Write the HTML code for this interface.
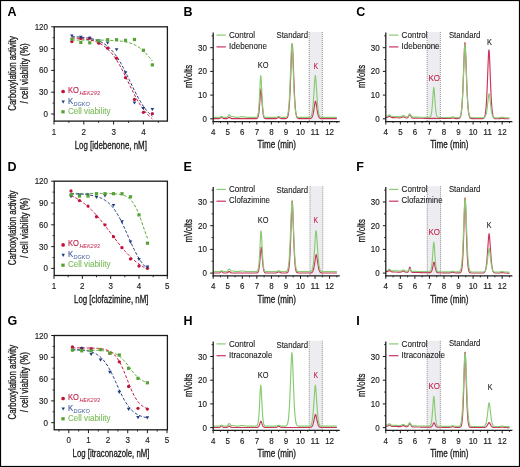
<!DOCTYPE html>
<html><head><meta charset="utf-8"><title>Figure</title>
<style>
html,body{margin:0;padding:0;background:#fff;}
body{width:520px;height:467px;overflow:hidden;font-family:"Liberation Sans", sans-serif;}
svg{display:block;will-change:transform;}
</style></head><body>
<svg width="520" height="467" viewBox="0 0 520 467" font-family="&quot;Liberation Sans&quot;, sans-serif"><rect x="0" y="0" width="520" height="467" fill="#fff"/><text x="7.6" y="15.8" font-size="12.5" text-anchor="start" fill="#000" font-weight="bold" font-style="normal" >A</text>
<rect x="54.2" y="26.8" width="113.2" height="94.3" fill="none" stroke="#1a1a1a" stroke-width="1.3"/>
<line x1="51.2" y1="114" x2="54.2" y2="114" stroke="#1a1a1a" stroke-width="1" />
<text x="48" y="117" font-size="8.7" text-anchor="end" fill="#1a1a1a" font-weight="normal" font-style="normal" textLength="4.45" lengthAdjust="spacingAndGlyphs" stroke="#1a1a1a" stroke-width="0.15" >0</text>
<line x1="51.2" y1="92.2" x2="54.2" y2="92.2" stroke="#1a1a1a" stroke-width="1" />
<text x="48" y="95.2" font-size="8.7" text-anchor="end" fill="#1a1a1a" font-weight="normal" font-style="normal" textLength="8.9" lengthAdjust="spacingAndGlyphs" stroke="#1a1a1a" stroke-width="0.15" >30</text>
<line x1="51.2" y1="70.4" x2="54.2" y2="70.4" stroke="#1a1a1a" stroke-width="1" />
<text x="48" y="73.4" font-size="8.7" text-anchor="end" fill="#1a1a1a" font-weight="normal" font-style="normal" textLength="8.9" lengthAdjust="spacingAndGlyphs" stroke="#1a1a1a" stroke-width="0.15" >60</text>
<line x1="51.2" y1="48.6" x2="54.2" y2="48.6" stroke="#1a1a1a" stroke-width="1" />
<text x="48" y="51.6" font-size="8.7" text-anchor="end" fill="#1a1a1a" font-weight="normal" font-style="normal" textLength="8.9" lengthAdjust="spacingAndGlyphs" stroke="#1a1a1a" stroke-width="0.15" >90</text>
<line x1="51.2" y1="26.8" x2="54.2" y2="26.8" stroke="#1a1a1a" stroke-width="1" />
<text x="48" y="29.8" font-size="8.7" text-anchor="end" fill="#1a1a1a" font-weight="normal" font-style="normal" textLength="13.35" lengthAdjust="spacingAndGlyphs" stroke="#1a1a1a" stroke-width="0.15" >120</text>
<line x1="52.6" y1="103.1" x2="54.2" y2="103.1" stroke="#1a1a1a" stroke-width="0.9" />
<line x1="52.6" y1="81.3" x2="54.2" y2="81.3" stroke="#1a1a1a" stroke-width="0.9" />
<line x1="52.6" y1="59.5" x2="54.2" y2="59.5" stroke="#1a1a1a" stroke-width="0.9" />
<line x1="52.6" y1="37.7" x2="54.2" y2="37.7" stroke="#1a1a1a" stroke-width="0.9" />
<line x1="54" y1="121.1" x2="54" y2="124.5" stroke="#1a1a1a" stroke-width="1" />
<text x="54" y="134.7" font-size="8.7" text-anchor="middle" fill="#1a1a1a" font-weight="normal" font-style="normal" textLength="4.45" lengthAdjust="spacingAndGlyphs" stroke="#1a1a1a" stroke-width="0.15" >1</text>
<line x1="83.8" y1="121.1" x2="83.8" y2="124.5" stroke="#1a1a1a" stroke-width="1" />
<text x="83.8" y="134.7" font-size="8.7" text-anchor="middle" fill="#1a1a1a" font-weight="normal" font-style="normal" textLength="4.45" lengthAdjust="spacingAndGlyphs" stroke="#1a1a1a" stroke-width="0.15" >2</text>
<line x1="113.6" y1="121.1" x2="113.6" y2="124.5" stroke="#1a1a1a" stroke-width="1" />
<text x="113.6" y="134.7" font-size="8.7" text-anchor="middle" fill="#1a1a1a" font-weight="normal" font-style="normal" textLength="4.45" lengthAdjust="spacingAndGlyphs" stroke="#1a1a1a" stroke-width="0.15" >3</text>
<line x1="143.4" y1="121.1" x2="143.4" y2="124.5" stroke="#1a1a1a" stroke-width="1" />
<text x="143.4" y="134.7" font-size="8.7" text-anchor="middle" fill="#1a1a1a" font-weight="normal" font-style="normal" textLength="4.45" lengthAdjust="spacingAndGlyphs" stroke="#1a1a1a" stroke-width="0.15" >4</text>
<line x1="68.9" y1="121.1" x2="68.9" y2="122.9" stroke="#1a1a1a" stroke-width="0.9" />
<line x1="98.7" y1="121.1" x2="98.7" y2="122.9" stroke="#1a1a1a" stroke-width="0.9" />
<line x1="128.5" y1="121.1" x2="128.5" y2="122.9" stroke="#1a1a1a" stroke-width="0.9" />
<line x1="158.3" y1="121.1" x2="158.3" y2="122.9" stroke="#1a1a1a" stroke-width="0.9" />
<text x="74.7" y="148.6" font-size="10" text-anchor="start" fill="#1a1a1a" font-weight="normal" font-style="normal" textLength="72.2" lengthAdjust="spacingAndGlyphs" stroke="#1a1a1a" stroke-width="0.3" >Log [idebenone, nM]</text>
<g transform="translate(16.4 73.45) rotate(-90)">
<text x="0" y="0" font-size="10" text-anchor="middle" fill="#1a1a1a" font-weight="normal" font-style="normal" textLength="74.6" lengthAdjust="spacingAndGlyphs" stroke="#1a1a1a" stroke-width="0.3" >Carboxylation activity</text>
</g>
<g transform="translate(27.6 73.45) rotate(-90)">
<text x="0" y="0" font-size="10" text-anchor="middle" fill="#1a1a1a" font-weight="normal" font-style="normal" textLength="60.2" lengthAdjust="spacingAndGlyphs" stroke="#1a1a1a" stroke-width="0.3" >/ cell viability (%)</text>
</g>
<polyline points="71.88,40.03 72.89,40.03 73.89,40.03 74.9,40.03 75.9,40.03 76.91,40.03 77.91,40.03 78.92,40.03 79.93,40.03 80.93,40.03 81.94,40.04 82.94,40.04 83.95,40.04 84.95,40.04 85.96,40.04 86.97,40.05 87.97,40.05 88.98,40.05 89.98,40.06 90.99,40.06 92,40.07 93,40.07 94.01,40.08 95.01,40.08 96.02,40.09 97.02,40.1 98.03,40.11 99.04,40.12 100.04,40.13 101.05,40.15 102.05,40.16 103.06,40.18 104.06,40.2 105.07,40.22 106.08,40.24 107.08,40.26 108.09,40.29 109.09,40.33 110.1,40.36 111.1,40.4 112.11,40.45 113.12,40.5 114.12,40.55 115.13,40.62 116.13,40.68 117.14,40.76 118.14,40.85 119.15,40.95 120.16,41.05 121.16,41.17 122.17,41.31 123.17,41.46 124.18,41.62 125.18,41.8 126.19,42.01 127.2,42.23 128.2,42.48 129.21,42.76 130.21,43.06 131.22,43.4 132.22,43.77 133.23,44.18 134.24,44.62 135.24,45.11 136.25,45.64 137.25,46.22 138.26,46.85 139.27,47.53 140.27,48.27 141.28,49.06 142.28,49.91 143.29,50.81 144.29,51.77 145.3,52.78 146.31,53.84 147.31,54.95 148.32,56.11 149.32,57.31 150.33,58.54 151.33,59.8 152.34,61.07" fill="none" stroke="#55a332" stroke-width="1.0" stroke-dasharray="3 1.8"/>
<polyline points="71.88,36.65 72.89,36.69 73.89,36.74 74.9,36.78 75.9,36.84 76.91,36.89 77.91,36.96 78.92,37.03 79.93,37.1 80.93,37.19 81.94,37.28 82.94,37.38 83.95,37.49 84.95,37.61 85.96,37.74 86.97,37.88 87.97,38.04 88.98,38.21 89.98,38.4 90.99,38.6 92,38.83 93,39.07 94.01,39.34 95.01,39.63 96.02,39.95 97.02,40.29 98.03,40.67 99.04,41.08 100.04,41.52 101.05,42.01 102.05,42.53 103.06,43.1 104.06,43.71 105.07,44.38 106.08,45.09 107.08,45.86 108.09,46.7 109.09,47.59 110.1,48.55 111.1,49.57 112.11,50.67 113.12,51.83 114.12,53.07 115.13,54.38 116.13,55.77 117.14,57.24 118.14,58.78 119.15,60.39 120.16,62.07 121.16,63.82 122.17,65.64 123.17,67.52 124.18,69.45 125.18,71.42 126.19,73.44 127.2,75.5 128.2,77.57 129.21,79.67 130.21,81.77 131.22,83.86 132.22,85.95 133.23,88.02 134.24,90.06 135.24,92.06 136.25,94.02 137.25,95.92 138.26,97.77 139.27,99.56 140.27,101.28 141.28,102.93 142.28,104.51 143.29,106.02 144.29,107.45 145.3,108.81 146.31,110.09 147.31,111.29 148.32,112.43 149.32,113.49 150.33,114.48 151.33,115.41 152.34,116.28" fill="none" stroke="#1f3a80" stroke-width="1.0" stroke-dasharray="3 1.8"/>
<polyline points="71.88,37.9 72.89,37.95 73.89,38 74.9,38.06 75.9,38.12 76.91,38.19 77.91,38.26 78.92,38.34 79.93,38.43 80.93,38.53 81.94,38.64 82.94,38.76 83.95,38.88 84.95,39.03 85.96,39.18 86.97,39.35 87.97,39.53 88.98,39.73 89.98,39.95 90.99,40.19 92,40.45 93,40.73 94.01,41.04 95.01,41.38 96.02,41.75 97.02,42.15 98.03,42.58 99.04,43.05 100.04,43.56 101.05,44.11 102.05,44.71 103.06,45.35 104.06,46.05 105.07,46.8 106.08,47.61 107.08,48.48 108.09,49.41 109.09,50.4 110.1,51.46 111.1,52.6 112.11,53.8 113.12,55.08 114.12,56.43 115.13,57.86 116.13,59.36 117.14,60.93 118.14,62.58 119.15,64.29 120.16,66.07 121.16,67.91 122.17,69.81 123.17,71.75 124.18,73.74 125.18,75.77 126.19,77.83 127.2,79.9 128.2,81.99 129.21,84.08 130.21,86.16 131.22,88.23 132.22,90.27 133.23,92.29 134.24,94.26 135.24,96.19 136.25,98.06 137.25,99.88 138.26,101.63 139.27,103.31 140.27,104.93 141.28,106.47 142.28,107.94 143.29,109.34 144.29,110.66 145.3,111.91 146.31,113.09 147.31,114.19 148.32,115.23 149.32,116.19 150.33,117.1 151.33,117.94 152.34,118.73" fill="none" stroke="#c0143c" stroke-width="1.0" stroke-dasharray="3 1.8"/>
<circle cx="71.88" cy="41.62" r="1.65" fill="#c0143c"/>
<circle cx="80.82" cy="38.42" r="1.65" fill="#c0143c"/>
<circle cx="89.76" cy="38.21" r="1.65" fill="#c0143c"/>
<circle cx="98.7" cy="43.22" r="1.65" fill="#c0143c"/>
<circle cx="107.64" cy="48.16" r="1.65" fill="#c0143c"/>
<circle cx="116.58" cy="58.26" r="1.65" fill="#c0143c"/>
<circle cx="125.52" cy="77.66" r="1.65" fill="#c0143c"/>
<circle cx="134.46" cy="99.47" r="1.65" fill="#c0143c"/>
<circle cx="143.4" cy="112.33" r="1.65" fill="#c0143c"/>
<circle cx="152.34" cy="113.64" r="1.65" fill="#c0143c"/>
<path d="M70.08 34.41L73.68 34.41L71.88 37.61Z" fill="#1f3a80"/>
<path d="M79.02 35.79L82.62 35.79L80.82 38.99Z" fill="#1f3a80"/>
<path d="M87.96 36.66L91.56 36.66L89.76 39.86Z" fill="#1f3a80"/>
<path d="M96.9 39.57L100.5 39.57L98.7 42.77Z" fill="#1f3a80"/>
<path d="M105.84 41.38L109.44 41.38L107.64 44.58Z" fill="#1f3a80"/>
<path d="M114.78 48.14L118.38 48.14L116.58 51.34Z" fill="#1f3a80"/>
<path d="M123.72 71.18L127.32 71.18L125.52 74.38Z" fill="#1f3a80"/>
<path d="M132.66 101.41L136.26 101.41L134.46 104.61Z" fill="#1f3a80"/>
<path d="M141.6 107.08L145.2 107.08L143.4 110.28Z" fill="#1f3a80"/>
<path d="M150.54 107.88L154.14 107.88L152.34 111.08Z" fill="#1f3a80"/>
<rect x="70.28" y="37.55" width="3.2" height="3.2" fill="#55a332"/>
<rect x="79.22" y="40.82" width="3.2" height="3.2" fill="#55a332"/>
<rect x="88.16" y="41.18" width="3.2" height="3.2" fill="#55a332"/>
<rect x="97.1" y="39.29" width="3.2" height="3.2" fill="#55a332"/>
<rect x="106.04" y="38.13" width="3.2" height="3.2" fill="#55a332"/>
<rect x="114.98" y="38.13" width="3.2" height="3.2" fill="#55a332"/>
<rect x="123.92" y="38.71" width="3.2" height="3.2" fill="#55a332"/>
<rect x="132.86" y="37.91" width="3.2" height="3.2" fill="#55a332"/>
<rect x="141.8" y="48.67" width="3.2" height="3.2" fill="#55a332"/>
<rect x="150.74" y="63.28" width="3.2" height="3.2" fill="#55a332"/>
<circle cx="63.1" cy="91.5" r="1.85" fill="#c0143c"/>
<text x="68" y="92.8" font-size="8.6" text-anchor="start" fill="#c4214a" font-weight="normal" font-style="normal" textLength="10.9" lengthAdjust="spacingAndGlyphs" stroke="#c4214a" stroke-width="0.15" >KO</text>
<text x="79.4" y="95" font-size="5.8" text-anchor="start" fill="#c4214a" font-weight="normal" font-style="italic" textLength="20.3" lengthAdjust="spacingAndGlyphs" >HEK293</text>
<path d="M61.5 100.4L64.9 100.4L63.2 103.5Z" fill="#1f3a80"/>
<text x="68" y="103.7" font-size="8.6" text-anchor="start" fill="#3d5a9c" font-weight="normal" font-style="normal" textLength="5.2" lengthAdjust="spacingAndGlyphs" stroke="#3d5a9c" stroke-width="0.15" >K</text>
<text x="73.6" y="105.8" font-size="5.8" text-anchor="start" fill="#3d5a9c" font-weight="normal" font-style="italic" textLength="16.2" lengthAdjust="spacingAndGlyphs" >DGKO</text>
<rect x="61.3" y="110.2" width="3.4" height="3.2" fill="#55a332"/>
<text x="68" y="113.8" font-size="8.6" text-anchor="start" fill="#7dbd5c" font-weight="normal" font-style="normal" textLength="42.5" lengthAdjust="spacingAndGlyphs" stroke="#7dbd5c" stroke-width="0.12" >Cell viability</text>
<text x="7.6" y="170.8" font-size="12.5" text-anchor="start" fill="#000" font-weight="bold" font-style="normal" >D</text>
<rect x="54.2" y="181.2" width="113.2" height="94.3" fill="none" stroke="#1a1a1a" stroke-width="1.3"/>
<line x1="51.2" y1="268.4" x2="54.2" y2="268.4" stroke="#1a1a1a" stroke-width="1" />
<text x="48" y="271.4" font-size="8.7" text-anchor="end" fill="#1a1a1a" font-weight="normal" font-style="normal" textLength="4.45" lengthAdjust="spacingAndGlyphs" stroke="#1a1a1a" stroke-width="0.15" >0</text>
<line x1="51.2" y1="246.6" x2="54.2" y2="246.6" stroke="#1a1a1a" stroke-width="1" />
<text x="48" y="249.6" font-size="8.7" text-anchor="end" fill="#1a1a1a" font-weight="normal" font-style="normal" textLength="8.9" lengthAdjust="spacingAndGlyphs" stroke="#1a1a1a" stroke-width="0.15" >30</text>
<line x1="51.2" y1="224.8" x2="54.2" y2="224.8" stroke="#1a1a1a" stroke-width="1" />
<text x="48" y="227.8" font-size="8.7" text-anchor="end" fill="#1a1a1a" font-weight="normal" font-style="normal" textLength="8.9" lengthAdjust="spacingAndGlyphs" stroke="#1a1a1a" stroke-width="0.15" >60</text>
<line x1="51.2" y1="203" x2="54.2" y2="203" stroke="#1a1a1a" stroke-width="1" />
<text x="48" y="206" font-size="8.7" text-anchor="end" fill="#1a1a1a" font-weight="normal" font-style="normal" textLength="8.9" lengthAdjust="spacingAndGlyphs" stroke="#1a1a1a" stroke-width="0.15" >90</text>
<line x1="51.2" y1="181.2" x2="54.2" y2="181.2" stroke="#1a1a1a" stroke-width="1" />
<text x="48" y="184.2" font-size="8.7" text-anchor="end" fill="#1a1a1a" font-weight="normal" font-style="normal" textLength="13.35" lengthAdjust="spacingAndGlyphs" stroke="#1a1a1a" stroke-width="0.15" >120</text>
<line x1="52.6" y1="257.5" x2="54.2" y2="257.5" stroke="#1a1a1a" stroke-width="0.9" />
<line x1="52.6" y1="235.7" x2="54.2" y2="235.7" stroke="#1a1a1a" stroke-width="0.9" />
<line x1="52.6" y1="213.9" x2="54.2" y2="213.9" stroke="#1a1a1a" stroke-width="0.9" />
<line x1="52.6" y1="192.1" x2="54.2" y2="192.1" stroke="#1a1a1a" stroke-width="0.9" />
<line x1="54" y1="275.5" x2="54" y2="278.9" stroke="#1a1a1a" stroke-width="1" />
<text x="54" y="289.1" font-size="8.7" text-anchor="middle" fill="#1a1a1a" font-weight="normal" font-style="normal" textLength="4.45" lengthAdjust="spacingAndGlyphs" stroke="#1a1a1a" stroke-width="0.15" >1</text>
<line x1="82.33" y1="275.5" x2="82.33" y2="278.9" stroke="#1a1a1a" stroke-width="1" />
<text x="82.33" y="289.1" font-size="8.7" text-anchor="middle" fill="#1a1a1a" font-weight="normal" font-style="normal" textLength="4.45" lengthAdjust="spacingAndGlyphs" stroke="#1a1a1a" stroke-width="0.15" >2</text>
<line x1="110.66" y1="275.5" x2="110.66" y2="278.9" stroke="#1a1a1a" stroke-width="1" />
<text x="110.66" y="289.1" font-size="8.7" text-anchor="middle" fill="#1a1a1a" font-weight="normal" font-style="normal" textLength="4.45" lengthAdjust="spacingAndGlyphs" stroke="#1a1a1a" stroke-width="0.15" >3</text>
<line x1="138.99" y1="275.5" x2="138.99" y2="278.9" stroke="#1a1a1a" stroke-width="1" />
<text x="138.99" y="289.1" font-size="8.7" text-anchor="middle" fill="#1a1a1a" font-weight="normal" font-style="normal" textLength="4.45" lengthAdjust="spacingAndGlyphs" stroke="#1a1a1a" stroke-width="0.15" >4</text>
<line x1="167.32" y1="275.5" x2="167.32" y2="278.9" stroke="#1a1a1a" stroke-width="1" />
<text x="167.32" y="289.1" font-size="8.7" text-anchor="middle" fill="#1a1a1a" font-weight="normal" font-style="normal" textLength="4.45" lengthAdjust="spacingAndGlyphs" stroke="#1a1a1a" stroke-width="0.15" >5</text>
<line x1="68.16" y1="275.5" x2="68.16" y2="277.3" stroke="#1a1a1a" stroke-width="0.9" />
<line x1="96.5" y1="275.5" x2="96.5" y2="277.3" stroke="#1a1a1a" stroke-width="0.9" />
<line x1="124.82" y1="275.5" x2="124.82" y2="277.3" stroke="#1a1a1a" stroke-width="0.9" />
<line x1="153.16" y1="275.5" x2="153.16" y2="277.3" stroke="#1a1a1a" stroke-width="0.9" />
<text x="74" y="303" font-size="10" text-anchor="start" fill="#1a1a1a" font-weight="normal" font-style="normal" textLength="74.5" lengthAdjust="spacingAndGlyphs" stroke="#1a1a1a" stroke-width="0.3" >Log [clofazimine, nM]</text>
<g transform="translate(16.4 227.85) rotate(-90)">
<text x="0" y="0" font-size="10" text-anchor="middle" fill="#1a1a1a" font-weight="normal" font-style="normal" textLength="74.6" lengthAdjust="spacingAndGlyphs" stroke="#1a1a1a" stroke-width="0.3" >Carboxylation activity</text>
</g>
<g transform="translate(27.6 227.85) rotate(-90)">
<text x="0" y="0" font-size="10" text-anchor="middle" fill="#1a1a1a" font-weight="normal" font-style="normal" textLength="60.2" lengthAdjust="spacingAndGlyphs" stroke="#1a1a1a" stroke-width="0.3" >/ cell viability (%)</text>
</g>
<polyline points="71,193.4 71.95,193.4 72.91,193.4 73.87,193.4 74.82,193.4 75.78,193.4 76.73,193.41 77.69,193.41 78.65,193.41 79.6,193.41 80.56,193.41 81.52,193.41 82.47,193.41 83.43,193.41 84.38,193.41 85.34,193.41 86.3,193.41 87.25,193.41 88.21,193.41 89.16,193.41 90.12,193.41 91.08,193.41 92.03,193.41 92.99,193.41 93.95,193.41 94.9,193.42 95.86,193.42 96.81,193.42 97.77,193.42 98.73,193.43 99.68,193.43 100.64,193.44 101.59,193.44 102.55,193.45 103.51,193.46 104.46,193.47 105.42,193.48 106.38,193.5 107.33,193.51 108.29,193.53 109.24,193.56 110.2,193.59 111.16,193.62 112.11,193.66 113.07,193.71 114.02,193.76 114.98,193.83 115.94,193.91 116.89,194 117.85,194.11 118.8,194.24 119.76,194.4 120.72,194.58 121.67,194.79 122.63,195.04 123.59,195.34 124.54,195.69 125.5,196.1 126.45,196.57 127.41,197.13 128.37,197.78 129.32,198.53 130.28,199.4 131.23,200.4 132.19,201.54 133.15,202.84 134.1,204.3 135.06,205.94 136.02,207.77 136.97,209.78 137.93,211.96 138.88,214.31 139.84,216.82 140.8,219.44 141.75,222.16 142.71,224.93 143.66,227.72 144.62,230.49 145.58,233.19 146.53,235.8 147.49,238.27" fill="none" stroke="#55a332" stroke-width="1.0" stroke-dasharray="3 1.8"/>
<polyline points="71,193.94 71.95,193.96 72.91,193.98 73.87,194.01 74.82,194.03 75.78,194.06 76.73,194.09 77.69,194.13 78.65,194.17 79.6,194.21 80.56,194.26 81.52,194.31 82.47,194.37 83.43,194.43 84.38,194.51 85.34,194.59 86.3,194.67 87.25,194.77 88.21,194.88 89.16,195 90.12,195.13 91.08,195.28 92.03,195.44 92.99,195.62 93.95,195.82 94.9,196.04 95.86,196.28 96.81,196.54 97.77,196.84 98.73,197.16 99.68,197.51 100.64,197.9 101.59,198.33 102.55,198.8 103.51,199.31 104.46,199.87 105.42,200.49 106.38,201.16 107.33,201.88 108.29,202.68 109.24,203.54 110.2,204.47 111.16,205.48 112.11,206.56 113.07,207.73 114.02,208.98 114.98,210.32 115.94,211.74 116.89,213.25 117.85,214.84 118.8,216.52 119.76,218.29 120.72,220.13 121.67,222.04 122.63,224.02 123.59,226.05 124.54,228.14 125.5,230.27 126.45,232.42 127.41,234.6 128.37,236.78 129.32,238.95 130.28,241.11 131.23,243.24 132.19,245.33 133.15,247.37 134.1,249.36 135.06,251.28 136.02,253.13 136.97,254.9 137.93,256.59 138.88,258.19 139.84,259.71 140.8,261.15 141.75,262.49 142.71,263.75 143.66,264.93 144.62,266.02 145.58,267.04 146.53,267.98 147.49,268.84" fill="none" stroke="#1f3a80" stroke-width="1.0" stroke-dasharray="3 1.8"/>
<polyline points="71,195.52 71.95,195.95 72.91,196.41 73.87,196.88 74.82,197.37 75.78,197.89 76.73,198.43 77.69,198.99 78.65,199.57 79.6,200.18 80.56,200.81 81.52,201.47 82.47,202.16 83.43,202.87 84.38,203.6 85.34,204.36 86.3,205.15 87.25,205.97 88.21,206.81 89.16,207.68 90.12,208.58 91.08,209.5 92.03,210.45 92.99,211.42 93.95,212.43 94.9,213.45 95.86,214.5 96.81,215.58 97.77,216.68 98.73,217.8 99.68,218.94 100.64,220.1 101.59,221.27 102.55,222.47 103.51,223.68 104.46,224.9 105.42,226.14 106.38,227.38 107.33,228.64 108.29,229.9 109.24,231.17 110.2,232.43 111.16,233.7 112.11,234.97 113.07,236.24 114.02,237.5 114.98,238.75 115.94,240 116.89,241.24 117.85,242.46 118.8,243.67 119.76,244.86 120.72,246.04 121.67,247.2 122.63,248.34 123.59,249.46 124.54,250.55 125.5,251.63 126.45,252.68 127.41,253.7 128.37,254.7 129.32,255.68 130.28,256.63 131.23,257.55 132.19,258.45 133.15,259.31 134.1,260.16 135.06,260.97 136.02,261.76 136.97,262.52 137.93,263.25 138.88,263.96 139.84,264.64 140.8,265.3 141.75,265.93 142.71,266.54 143.66,267.12 144.62,267.68 145.58,268.22 146.53,268.74 147.49,269.23" fill="none" stroke="#c0143c" stroke-width="1.0" stroke-dasharray="3 1.8"/>
<circle cx="71" cy="191.01" r="1.65" fill="#c0143c"/>
<circle cx="79.5" cy="200.6" r="1.65" fill="#c0143c"/>
<circle cx="88" cy="206.12" r="1.65" fill="#c0143c"/>
<circle cx="96.5" cy="216.73" r="1.65" fill="#c0143c"/>
<circle cx="104.99" cy="224.87" r="1.65" fill="#c0143c"/>
<circle cx="113.49" cy="236.72" r="1.65" fill="#c0143c"/>
<circle cx="121.99" cy="247.69" r="1.65" fill="#c0143c"/>
<circle cx="130.49" cy="258.88" r="1.65" fill="#c0143c"/>
<circle cx="138.99" cy="266" r="1.65" fill="#c0143c"/>
<circle cx="147.49" cy="268.33" r="1.65" fill="#c0143c"/>
<path d="M69.2 195.06L72.8 195.06L71 198.26Z" fill="#1f3a80"/>
<path d="M77.7 193.6L81.3 193.6L79.5 196.8Z" fill="#1f3a80"/>
<path d="M86.2 193.6L89.8 193.6L88 196.8Z" fill="#1f3a80"/>
<path d="M94.7 195.78L98.3 195.78L96.5 198.98Z" fill="#1f3a80"/>
<path d="M103.19 194.33L106.79 194.33L104.99 197.53Z" fill="#1f3a80"/>
<path d="M111.69 203.92L115.29 203.92L113.49 207.12Z" fill="#1f3a80"/>
<path d="M120.19 220.2L123.79 220.2L121.99 223.4Z" fill="#1f3a80"/>
<path d="M128.69 240.48L132.29 240.48L130.49 243.68Z" fill="#1f3a80"/>
<path d="M137.19 257.92L140.79 257.92L138.99 261.12Z" fill="#1f3a80"/>
<path d="M145.69 265.62L149.29 265.62L147.49 268.82Z" fill="#1f3a80"/>
<rect x="69.4" y="193.19" width="3.2" height="3.2" fill="#55a332"/>
<rect x="77.9" y="194.42" width="3.2" height="3.2" fill="#55a332"/>
<rect x="86.4" y="194.42" width="3.2" height="3.2" fill="#55a332"/>
<rect x="94.9" y="192.1" width="3.2" height="3.2" fill="#55a332"/>
<rect x="103.39" y="192.1" width="3.2" height="3.2" fill="#55a332"/>
<rect x="111.89" y="192.1" width="3.2" height="3.2" fill="#55a332"/>
<rect x="120.39" y="192.1" width="3.2" height="3.2" fill="#55a332"/>
<rect x="128.89" y="195.22" width="3.2" height="3.2" fill="#55a332"/>
<rect x="137.39" y="213.31" width="3.2" height="3.2" fill="#55a332"/>
<rect x="145.89" y="241.58" width="3.2" height="3.2" fill="#55a332"/>
<circle cx="63.1" cy="244.9" r="1.85" fill="#c0143c"/>
<text x="68" y="246.2" font-size="8.6" text-anchor="start" fill="#c4214a" font-weight="normal" font-style="normal" textLength="10.9" lengthAdjust="spacingAndGlyphs" stroke="#c4214a" stroke-width="0.15" >KO</text>
<text x="79.4" y="248.4" font-size="5.8" text-anchor="start" fill="#c4214a" font-weight="normal" font-style="italic" textLength="20.3" lengthAdjust="spacingAndGlyphs" >HEK293</text>
<path d="M61.5 253.8L64.9 253.8L63.2 256.9Z" fill="#1f3a80"/>
<text x="68" y="257.1" font-size="8.6" text-anchor="start" fill="#3d5a9c" font-weight="normal" font-style="normal" textLength="5.2" lengthAdjust="spacingAndGlyphs" stroke="#3d5a9c" stroke-width="0.15" >K</text>
<text x="73.6" y="259.2" font-size="5.8" text-anchor="start" fill="#3d5a9c" font-weight="normal" font-style="italic" textLength="16.2" lengthAdjust="spacingAndGlyphs" >DGKO</text>
<rect x="61.3" y="263.6" width="3.4" height="3.2" fill="#55a332"/>
<text x="68" y="267.2" font-size="8.6" text-anchor="start" fill="#7dbd5c" font-weight="normal" font-style="normal" textLength="42.5" lengthAdjust="spacingAndGlyphs" stroke="#7dbd5c" stroke-width="0.12" >Cell viability</text>
<text x="7.6" y="324.9" font-size="12.5" text-anchor="start" fill="#000" font-weight="bold" font-style="normal" >G</text>
<rect x="54.2" y="335.5" width="113.2" height="94.3" fill="none" stroke="#1a1a1a" stroke-width="1.3"/>
<line x1="51.2" y1="422.7" x2="54.2" y2="422.7" stroke="#1a1a1a" stroke-width="1" />
<text x="48" y="425.7" font-size="8.7" text-anchor="end" fill="#1a1a1a" font-weight="normal" font-style="normal" textLength="4.45" lengthAdjust="spacingAndGlyphs" stroke="#1a1a1a" stroke-width="0.15" >0</text>
<line x1="51.2" y1="400.9" x2="54.2" y2="400.9" stroke="#1a1a1a" stroke-width="1" />
<text x="48" y="403.9" font-size="8.7" text-anchor="end" fill="#1a1a1a" font-weight="normal" font-style="normal" textLength="8.9" lengthAdjust="spacingAndGlyphs" stroke="#1a1a1a" stroke-width="0.15" >30</text>
<line x1="51.2" y1="379.1" x2="54.2" y2="379.1" stroke="#1a1a1a" stroke-width="1" />
<text x="48" y="382.1" font-size="8.7" text-anchor="end" fill="#1a1a1a" font-weight="normal" font-style="normal" textLength="8.9" lengthAdjust="spacingAndGlyphs" stroke="#1a1a1a" stroke-width="0.15" >60</text>
<line x1="51.2" y1="357.3" x2="54.2" y2="357.3" stroke="#1a1a1a" stroke-width="1" />
<text x="48" y="360.3" font-size="8.7" text-anchor="end" fill="#1a1a1a" font-weight="normal" font-style="normal" textLength="8.9" lengthAdjust="spacingAndGlyphs" stroke="#1a1a1a" stroke-width="0.15" >90</text>
<line x1="51.2" y1="335.5" x2="54.2" y2="335.5" stroke="#1a1a1a" stroke-width="1" />
<text x="48" y="338.5" font-size="8.7" text-anchor="end" fill="#1a1a1a" font-weight="normal" font-style="normal" textLength="13.35" lengthAdjust="spacingAndGlyphs" stroke="#1a1a1a" stroke-width="0.15" >120</text>
<line x1="52.6" y1="411.8" x2="54.2" y2="411.8" stroke="#1a1a1a" stroke-width="0.9" />
<line x1="52.6" y1="390" x2="54.2" y2="390" stroke="#1a1a1a" stroke-width="0.9" />
<line x1="52.6" y1="368.2" x2="54.2" y2="368.2" stroke="#1a1a1a" stroke-width="0.9" />
<line x1="52.6" y1="346.4" x2="54.2" y2="346.4" stroke="#1a1a1a" stroke-width="0.9" />
<line x1="68.8" y1="429.8" x2="68.8" y2="433.2" stroke="#1a1a1a" stroke-width="1" />
<text x="68.8" y="443.4" font-size="8.7" text-anchor="middle" fill="#1a1a1a" font-weight="normal" font-style="normal" textLength="4.45" lengthAdjust="spacingAndGlyphs" stroke="#1a1a1a" stroke-width="0.15" >0</text>
<line x1="88.44" y1="429.8" x2="88.44" y2="433.2" stroke="#1a1a1a" stroke-width="1" />
<text x="88.44" y="443.4" font-size="8.7" text-anchor="middle" fill="#1a1a1a" font-weight="normal" font-style="normal" textLength="4.45" lengthAdjust="spacingAndGlyphs" stroke="#1a1a1a" stroke-width="0.15" >1</text>
<line x1="108.08" y1="429.8" x2="108.08" y2="433.2" stroke="#1a1a1a" stroke-width="1" />
<text x="108.08" y="443.4" font-size="8.7" text-anchor="middle" fill="#1a1a1a" font-weight="normal" font-style="normal" textLength="4.45" lengthAdjust="spacingAndGlyphs" stroke="#1a1a1a" stroke-width="0.15" >2</text>
<line x1="127.72" y1="429.8" x2="127.72" y2="433.2" stroke="#1a1a1a" stroke-width="1" />
<text x="127.72" y="443.4" font-size="8.7" text-anchor="middle" fill="#1a1a1a" font-weight="normal" font-style="normal" textLength="4.45" lengthAdjust="spacingAndGlyphs" stroke="#1a1a1a" stroke-width="0.15" >3</text>
<line x1="147.36" y1="429.8" x2="147.36" y2="433.2" stroke="#1a1a1a" stroke-width="1" />
<text x="147.36" y="443.4" font-size="8.7" text-anchor="middle" fill="#1a1a1a" font-weight="normal" font-style="normal" textLength="4.45" lengthAdjust="spacingAndGlyphs" stroke="#1a1a1a" stroke-width="0.15" >4</text>
<line x1="167" y1="429.8" x2="167" y2="433.2" stroke="#1a1a1a" stroke-width="1" />
<text x="167" y="443.4" font-size="8.7" text-anchor="middle" fill="#1a1a1a" font-weight="normal" font-style="normal" textLength="4.45" lengthAdjust="spacingAndGlyphs" stroke="#1a1a1a" stroke-width="0.15" >5</text>
<line x1="58.98" y1="429.8" x2="58.98" y2="431.6" stroke="#1a1a1a" stroke-width="0.9" />
<line x1="78.62" y1="429.8" x2="78.62" y2="431.6" stroke="#1a1a1a" stroke-width="0.9" />
<line x1="98.26" y1="429.8" x2="98.26" y2="431.6" stroke="#1a1a1a" stroke-width="0.9" />
<line x1="117.9" y1="429.8" x2="117.9" y2="431.6" stroke="#1a1a1a" stroke-width="0.9" />
<line x1="137.54" y1="429.8" x2="137.54" y2="431.6" stroke="#1a1a1a" stroke-width="0.9" />
<line x1="157.18" y1="429.8" x2="157.18" y2="431.6" stroke="#1a1a1a" stroke-width="0.9" />
<text x="72.6" y="457.3" font-size="10" text-anchor="start" fill="#1a1a1a" font-weight="normal" font-style="normal" textLength="76.8" lengthAdjust="spacingAndGlyphs" stroke="#1a1a1a" stroke-width="0.3" >Log [itraconazole, nM]</text>
<g transform="translate(16.4 382.15) rotate(-90)">
<text x="0" y="0" font-size="10" text-anchor="middle" fill="#1a1a1a" font-weight="normal" font-style="normal" textLength="74.6" lengthAdjust="spacingAndGlyphs" stroke="#1a1a1a" stroke-width="0.3" >Carboxylation activity</text>
</g>
<g transform="translate(27.6 382.15) rotate(-90)">
<text x="0" y="0" font-size="10" text-anchor="middle" fill="#1a1a1a" font-weight="normal" font-style="normal" textLength="60.2" lengthAdjust="spacingAndGlyphs" stroke="#1a1a1a" stroke-width="0.3" >/ cell viability (%)</text>
</g>
<polyline points="72.34,350.11 73.27,350.11 74.21,350.11 75.15,350.11 76.09,350.11 77.02,350.11 77.96,350.12 78.9,350.12 79.84,350.12 80.78,350.12 81.71,350.13 82.65,350.13 83.59,350.13 84.53,350.14 85.46,350.14 86.4,350.15 87.34,350.16 88.28,350.17 89.22,350.18 90.15,350.19 91.09,350.2 92.03,350.21 92.97,350.23 93.9,350.25 94.84,350.28 95.78,350.3 96.72,350.33 97.66,350.37 98.59,350.41 99.53,350.46 100.47,350.51 101.41,350.57 102.35,350.64 103.28,350.73 104.22,350.82 105.16,350.93 106.1,351.05 107.03,351.2 107.97,351.36 108.91,351.55 109.85,351.76 110.79,352 111.72,352.28 112.66,352.59 113.6,352.94 114.54,353.34 115.47,353.79 116.41,354.29 117.35,354.85 118.29,355.47 119.23,356.15 120.16,356.91 121.1,357.73 122.04,358.62 122.98,359.57 123.91,360.59 124.85,361.67 125.79,362.8 126.73,363.98 127.67,365.19 128.6,366.42 129.54,367.66 130.48,368.89 131.42,370.11 132.36,371.3 133.29,372.46 134.23,373.56 135.17,374.61 136.11,375.6 137.04,376.52 137.98,377.37 138.92,378.15 139.86,378.87 140.8,379.52 141.73,380.11 142.67,380.64 143.61,381.11 144.55,381.53 145.48,381.9 146.42,382.23 147.36,382.53" fill="none" stroke="#55a332" stroke-width="1.0" stroke-dasharray="3 1.8"/>
<polyline points="72.34,349.54 73.27,349.57 74.21,349.61 75.15,349.65 76.09,349.69 77.02,349.74 77.96,349.79 78.9,349.85 79.84,349.92 80.78,350 81.71,350.09 82.65,350.19 83.59,350.3 84.53,350.43 85.46,350.57 86.4,350.72 87.34,350.9 88.28,351.1 89.22,351.32 90.15,351.57 91.09,351.85 92.03,352.16 92.97,352.5 93.9,352.89 94.84,353.32 95.78,353.8 96.72,354.33 97.66,354.92 98.59,355.57 99.53,356.29 100.47,357.08 101.41,357.95 102.35,358.9 103.28,359.93 104.22,361.06 105.16,362.28 106.1,363.59 107.03,365 107.97,366.51 108.91,368.11 109.85,369.8 110.79,371.58 111.72,373.43 112.66,375.36 113.6,377.35 114.54,379.38 115.47,381.44 116.41,383.53 117.35,385.62 118.29,387.7 119.23,389.76 120.16,391.78 121.1,393.75 122.04,395.65 122.98,397.48 123.91,399.23 124.85,400.89 125.79,402.46 126.73,403.93 127.67,405.31 128.6,406.59 129.54,407.78 130.48,408.87 131.42,409.88 132.36,410.8 133.29,411.64 134.23,412.4 135.17,413.1 136.11,413.73 137.04,414.3 137.98,414.81 138.92,415.27 139.86,415.69 140.8,416.06 141.73,416.39 142.67,416.69 143.61,416.96 144.55,417.2 145.48,417.41 146.42,417.6 147.36,417.77" fill="none" stroke="#1f3a80" stroke-width="1.0" stroke-dasharray="3 1.8"/>
<polyline points="72.34,347.86 73.27,347.86 74.21,347.86 75.15,347.86 76.09,347.86 77.02,347.87 77.96,347.87 78.9,347.87 79.84,347.88 80.78,347.88 81.71,347.89 82.65,347.89 83.59,347.9 84.53,347.91 85.46,347.92 86.4,347.93 87.34,347.94 88.28,347.96 89.22,347.97 90.15,348 91.09,348.02 92.03,348.05 92.97,348.08 93.9,348.12 94.84,348.16 95.78,348.21 96.72,348.27 97.66,348.34 98.59,348.43 99.53,348.52 100.47,348.63 101.41,348.76 102.35,348.91 103.28,349.08 104.22,349.28 105.16,349.51 106.1,349.78 107.03,350.09 107.97,350.45 108.91,350.86 109.85,351.33 110.79,351.88 111.72,352.5 112.66,353.21 113.6,354.01 114.54,354.92 115.47,355.94 116.41,357.09 117.35,358.37 118.29,359.79 119.23,361.35 120.16,363.06 121.1,364.9 122.04,366.88 122.98,368.99 123.91,371.2 124.85,373.5 125.79,375.87 126.73,378.28 127.67,380.7 128.6,383.1 129.54,385.46 130.48,387.75 131.42,389.95 132.36,392.04 133.29,394 134.23,395.82 135.17,397.51 136.11,399.05 137.04,400.45 137.98,401.71 138.92,402.84 139.86,403.85 140.8,404.74 141.73,405.53 142.67,406.23 143.61,406.84 144.55,407.37 145.48,407.83 146.42,408.24 147.36,408.59" fill="none" stroke="#c0143c" stroke-width="1.0" stroke-dasharray="3 1.8"/>
<circle cx="72.41" cy="346.98" r="1.65" fill="#c0143c"/>
<circle cx="81.78" cy="348.21" r="1.65" fill="#c0143c"/>
<circle cx="91.15" cy="348.72" r="1.65" fill="#c0143c"/>
<circle cx="100.52" cy="349.59" r="1.65" fill="#c0143c"/>
<circle cx="109.89" cy="353.3" r="1.65" fill="#c0143c"/>
<circle cx="119.26" cy="361.8" r="1.65" fill="#c0143c"/>
<circle cx="128.62" cy="386.51" r="1.65" fill="#c0143c"/>
<circle cx="137.99" cy="408.31" r="1.65" fill="#c0143c"/>
<circle cx="147.36" cy="409.11" r="1.65" fill="#c0143c"/>
<path d="M70.61 348.63L74.21 348.63L72.41 351.83Z" fill="#1f3a80"/>
<path d="M79.98 346.89L83.58 346.89L81.78 350.09Z" fill="#1f3a80"/>
<path d="M89.35 352.92L92.95 352.92L91.15 356.12Z" fill="#1f3a80"/>
<path d="M98.72 358.44L102.32 358.44L100.52 361.64Z" fill="#1f3a80"/>
<path d="M108.09 370.87L111.69 370.87L109.89 374.07Z" fill="#1f3a80"/>
<path d="M117.46 390.78L121.06 390.78L119.26 393.98Z" fill="#1f3a80"/>
<path d="M126.82 407.71L130.42 407.71L128.62 410.91Z" fill="#1f3a80"/>
<path d="M136.19 416.07L139.79 416.07L137.99 419.27Z" fill="#1f3a80"/>
<path d="M145.56 416.36L149.16 416.36L147.36 419.56Z" fill="#1f3a80"/>
<rect x="70.81" y="348.5" width="3.2" height="3.2" fill="#55a332"/>
<rect x="80.18" y="349.23" width="3.2" height="3.2" fill="#55a332"/>
<rect x="89.55" y="349.23" width="3.2" height="3.2" fill="#55a332"/>
<rect x="98.92" y="347.92" width="3.2" height="3.2" fill="#55a332"/>
<rect x="108.29" y="351.63" width="3.2" height="3.2" fill="#55a332"/>
<rect x="117.66" y="353.37" width="3.2" height="3.2" fill="#55a332"/>
<rect x="127.02" y="366.67" width="3.2" height="3.2" fill="#55a332"/>
<rect x="136.39" y="376.77" width="3.2" height="3.2" fill="#55a332"/>
<rect x="145.76" y="381.2" width="3.2" height="3.2" fill="#55a332"/>
<circle cx="63.1" cy="398.5" r="1.85" fill="#c0143c"/>
<text x="68" y="399.8" font-size="8.6" text-anchor="start" fill="#c4214a" font-weight="normal" font-style="normal" textLength="10.9" lengthAdjust="spacingAndGlyphs" stroke="#c4214a" stroke-width="0.15" >KO</text>
<text x="79.4" y="402" font-size="5.8" text-anchor="start" fill="#c4214a" font-weight="normal" font-style="italic" textLength="20.3" lengthAdjust="spacingAndGlyphs" >HEK293</text>
<path d="M61.5 407.4L64.9 407.4L63.2 410.5Z" fill="#1f3a80"/>
<text x="68" y="410.7" font-size="8.6" text-anchor="start" fill="#3d5a9c" font-weight="normal" font-style="normal" textLength="5.2" lengthAdjust="spacingAndGlyphs" stroke="#3d5a9c" stroke-width="0.15" >K</text>
<text x="73.6" y="412.8" font-size="5.8" text-anchor="start" fill="#3d5a9c" font-weight="normal" font-style="italic" textLength="16.2" lengthAdjust="spacingAndGlyphs" >DGKO</text>
<rect x="61.3" y="417.2" width="3.4" height="3.2" fill="#55a332"/>
<text x="68" y="420.8" font-size="8.6" text-anchor="start" fill="#7dbd5c" font-weight="normal" font-style="normal" textLength="42.5" lengthAdjust="spacingAndGlyphs" stroke="#7dbd5c" stroke-width="0.12" >Cell viability</text>
<text x="183.6" y="16.2" font-size="12.5" text-anchor="start" fill="#000" font-weight="bold" font-style="normal" >B</text>
<rect x="309.23" y="32" width="13.09" height="89.5" fill="#ececf1"/>
<line x1="309.23" y1="32" x2="309.23" y2="121.5" stroke="#777" stroke-width="0.8" stroke-dasharray="1 1"/>
<line x1="322.32" y1="32" x2="322.32" y2="121.5" stroke="#777" stroke-width="0.8" stroke-dasharray="1 1"/>
<polyline points="213.2,118.68 213.49,118.68 213.78,118.68 214.07,118.68 214.36,118.68 214.65,118.68 214.95,118.68 215.24,118.68 215.53,118.68 215.82,118.68 216.11,118.68 216.4,118.68 216.69,118.68 216.98,118.68 217.27,118.68 217.56,118.68 217.86,118.68 218.15,118.68 218.44,118.68 218.73,118.67 219.02,118.65 219.31,118.61 219.6,118.52 219.89,118.37 220.18,118.14 220.47,117.84 220.77,117.51 221.06,117.22 221.35,117.05 221.64,117.05 221.93,117.22 222.22,117.51 222.51,117.84 222.8,118.14 223.09,118.37 223.38,118.52 223.68,118.61 223.97,118.65 224.26,118.67 224.55,118.68 224.84,118.68 225.13,118.68 225.42,118.68 225.71,118.68 226,118.67 226.29,118.66 226.59,118.63 226.88,118.58 227.17,118.49 227.46,118.35 227.75,118.17 228.04,117.94 228.33,117.7 228.62,117.47 228.91,117.32 229.2,117.26 229.5,117.32 229.79,117.47 230.08,117.7 230.37,117.94 230.66,118.17 230.95,118.35 231.24,118.49 231.53,118.58 231.82,118.63 232.11,118.66 232.41,118.67 232.7,118.68 232.99,118.68 233.28,118.68 233.57,118.68 233.86,118.68 234.15,118.68 234.44,118.68 234.73,118.68 235.02,118.68 235.32,118.68 235.61,118.68 235.9,118.68 236.19,118.68 236.48,118.68 236.77,118.68 237.06,118.68 237.35,118.68 237.64,118.68 237.93,118.68 238.23,118.68 238.52,118.68 238.81,118.68 239.1,118.68 239.39,118.68 239.68,118.68 239.97,118.68 240.26,118.68 240.55,118.68 240.84,118.68 241.14,118.68 241.43,118.68 241.72,118.68 242.01,118.68 242.3,118.68 242.59,118.68 242.88,118.68 243.17,118.68 243.46,118.68 243.75,118.68 244.05,118.68 244.34,118.68 244.63,118.68 244.92,118.68 245.21,118.68 245.5,118.68 245.79,118.68 246.08,118.68 246.37,118.68 246.66,118.68 246.96,118.68 247.25,118.68 247.54,118.68 247.83,118.68 248.12,118.68 248.41,118.68 248.7,118.68 248.99,118.68 249.28,118.68 249.57,118.68 249.87,118.68 250.16,118.68 250.45,118.68 250.74,118.68 251.03,118.68 251.32,118.68 251.61,118.68 251.9,118.68 252.19,118.68 252.48,118.68 252.78,118.68 253.07,118.68 253.36,118.68 253.65,118.68 253.94,118.68 254.23,118.68 254.52,118.68 254.81,118.68 255.1,118.68 255.39,118.68 255.69,118.67 255.98,118.66 256.27,118.63 256.56,118.58 256.85,118.49 257.14,118.34 257.43,118.07 257.72,117.64 258.01,116.96 258.3,115.94 258.6,114.45 258.89,112.4 259.18,109.69 259.47,106.31 259.76,102.36 260.05,98.1 260.34,93.96 260.63,90.58 260.92,88.94 261.21,90.58 261.51,93.96 261.8,98.1 262.09,102.36 262.38,106.31 262.67,109.69 262.96,112.4 263.25,114.45 263.54,115.94 263.83,116.96 264.12,117.64 264.42,118.07 264.71,118.34 265,118.49 265.29,118.58 265.58,118.63 265.87,118.66 266.16,118.67 266.45,118.68 266.74,118.68 267.03,118.68 267.33,118.68 267.62,118.68 267.91,118.68 268.2,118.68 268.49,118.68 268.78,118.68 269.07,118.68 269.36,118.68 269.65,118.68 269.94,118.68 270.24,118.68 270.53,118.68 270.82,118.68 271.11,118.68 271.4,118.68 271.69,118.68 271.98,118.68 272.27,118.68 272.56,118.68 272.85,118.68 273.15,118.68 273.44,118.68 273.73,118.68 274.02,118.68 274.31,118.68 274.6,118.68 274.89,118.68 275.18,118.67 275.47,118.65 275.76,118.63 276.06,118.59 276.35,118.52 276.64,118.43 276.93,118.3 277.22,118.14 277.51,117.96 277.8,117.79 278.09,117.64 278.38,117.53 278.67,117.5 278.97,117.53 279.26,117.64 279.55,117.79 279.84,117.96 280.13,118.14 280.42,118.3 280.71,118.43 281,118.52 281.29,118.59 281.58,118.63 281.88,118.65 282.17,118.67 282.46,118.68 282.75,118.68 283.04,118.68 283.33,118.68 283.62,118.68 283.91,118.68 284.2,118.68 284.49,118.67 284.79,118.67 285.08,118.65 285.37,118.63 285.66,118.6 285.95,118.55 286.24,118.47 286.53,118.33 286.82,118.13 287.11,117.82 287.4,117.37 287.7,116.7 287.99,115.76 288.28,114.45 288.57,112.65 288.86,110.27 289.15,107.16 289.44,103.23 289.73,98.39 290.02,92.59 290.31,85.89 290.61,78.41 290.9,70.44 291.19,62.37 291.48,54.79 291.77,48.43 292.06,44.23 292.35,44.23 292.64,48.43 292.93,54.79 293.22,62.37 293.52,70.44 293.81,78.41 294.1,85.89 294.39,92.59 294.68,98.39 294.97,103.23 295.26,107.16 295.55,110.27 295.84,112.65 296.13,114.45 296.43,115.76 296.72,116.7 297.01,117.37 297.3,117.82 297.59,118.13 297.88,118.33 298.17,118.47 298.46,118.55 298.75,118.6 299.04,118.63 299.34,118.65 299.63,118.67 299.92,118.67 300.21,118.68 300.5,118.68 300.79,118.68 301.08,118.68 301.37,118.68 301.66,118.68 301.95,118.68 302.25,118.68 302.54,118.68 302.83,118.68 303.12,118.68 303.41,118.68 303.7,118.68 303.99,118.68 304.28,118.68 304.57,118.68 304.86,118.68 305.16,118.68 305.45,118.68 305.74,118.68 306.03,118.68 306.32,118.68 306.61,118.68 306.9,118.68 307.19,118.68 307.48,118.68 307.77,118.68 308.07,118.68 308.36,118.68 308.65,118.67 308.94,118.67 309.23,118.66 309.52,118.65 309.81,118.62 310.1,118.59 310.39,118.53 310.68,118.44 310.98,118.31 311.27,118.12 311.56,117.85 311.85,117.47 312.14,116.96 312.43,116.27 312.72,115.39 313.01,114.29 313.3,112.95 313.59,111.37 313.89,109.59 314.18,107.67 314.47,105.7 314.76,103.84 315.05,102.27 315.34,101.22 315.63,101.22 315.92,102.27 316.21,103.84 316.5,105.7 316.8,107.67 317.09,109.59 317.38,111.37 317.67,112.95 317.96,114.29 318.25,115.39 318.54,116.27 318.83,116.96 319.12,117.47 319.41,117.85 319.71,118.12 320,118.31 320.29,118.44 320.58,118.53 320.87,118.59 321.16,118.62 321.45,118.65 321.74,118.66 322.03,118.67 322.32,118.67 322.62,118.68 322.91,118.68 323.2,118.68 323.49,118.68 323.78,118.68 324.07,118.68 324.36,118.68 324.65,118.68 324.94,118.68 325.23,118.68 325.53,118.68 325.82,118.68 326.11,118.68 326.4,118.68 326.69,118.68 326.98,118.68 327.27,118.68 327.56,118.68 327.85,118.68 328.14,118.68 328.44,118.68 328.73,118.68 329.02,118.68 329.31,118.68 329.6,118.68 329.89,118.68 330.18,118.68 330.47,118.68 330.76,118.68 331.05,118.68 331.35,118.68 331.64,118.68 331.93,118.68 332.22,118.68 332.51,118.68 332.8,118.68 333.09,118.68 333.38,118.68 333.67,118.68 333.96,118.68 334.26,118.68 334.55,118.68 334.84,118.68 335.13,118.68 335.42,118.68 335.71,118.68 336,118.68 336.29,118.68 336.58,118.68 336.87,118.68" fill="none" stroke="#cc325c" stroke-width="1.15" stroke-linejoin="round"/>
<polyline points="213.2,117.38 213.49,117.38 213.78,117.38 214.07,117.38 214.36,117.38 214.65,117.38 214.95,117.38 215.24,117.38 215.53,117.38 215.82,117.38 216.11,117.38 216.4,117.38 216.69,117.38 216.98,117.38 217.27,117.38 217.56,117.38 217.86,117.38 218.15,117.38 218.44,117.38 218.73,117.37 219.02,117.36 219.31,117.34 219.6,117.29 219.89,117.2 220.18,117.07 220.47,116.9 220.77,116.71 221.06,116.54 221.35,116.44 221.64,116.44 221.93,116.54 222.22,116.71 222.51,116.9 222.8,117.07 223.09,117.2 223.38,117.29 223.68,117.34 223.97,117.36 224.26,117.37 224.55,117.38 224.84,117.38 225.13,117.38 225.42,117.38 225.71,117.37 226,117.36 226.29,117.33 226.59,117.28 226.88,117.19 227.17,117.02 227.46,116.78 227.75,116.44 228.04,116.02 228.33,115.57 228.62,115.15 228.91,114.86 229.2,114.74 229.5,114.82 229.79,115.09 230.08,115.46 230.37,115.85 230.66,116.21 230.95,116.47 231.24,116.64 231.53,116.71 231.82,116.73 232.11,116.71 232.41,116.68 232.7,116.66 232.99,116.67 233.28,116.7 233.57,116.75 233.86,116.82 234.15,116.9 234.44,116.99 234.73,117.07 235.02,117.14 235.32,117.21 235.61,117.25 235.9,117.29 236.19,117.31 236.48,117.33 236.77,117.33 237.06,117.33 237.35,117.32 237.64,117.3 237.93,117.28 238.23,117.25 238.52,117.22 238.81,117.18 239.1,117.14 239.39,117.09 239.68,117.03 239.97,116.98 240.26,116.92 240.55,116.86 240.84,116.81 241.14,116.76 241.43,116.72 241.72,116.69 242.01,116.67 242.3,116.67 242.59,116.67 242.88,116.69 243.17,116.72 243.46,116.76 243.75,116.81 244.05,116.86 244.34,116.92 244.63,116.98 244.92,117.03 245.21,117.09 245.5,117.14 245.79,117.18 246.08,117.22 246.37,117.25 246.66,117.28 246.96,117.3 247.25,117.32 247.54,117.34 247.83,117.35 248.12,117.36 248.41,117.36 248.7,117.37 248.99,117.37 249.28,117.37 249.57,117.38 249.87,117.38 250.16,117.38 250.45,117.38 250.74,117.38 251.03,117.38 251.32,117.38 251.61,117.38 251.9,117.38 252.19,117.38 252.48,117.38 252.78,117.38 253.07,117.38 253.36,117.38 253.65,117.38 253.94,117.38 254.23,117.38 254.52,117.38 254.81,117.38 255.1,117.37 255.39,117.37 255.69,117.35 255.98,117.32 256.27,117.27 256.56,117.18 256.85,117.01 257.14,116.72 257.43,116.24 257.72,115.47 258.01,114.28 258.3,112.52 258.6,110.03 258.89,106.66 259.18,102.34 259.47,97.12 259.76,91.23 260.05,85.18 260.34,79.71 260.63,75.92 260.92,75.92 261.21,79.71 261.51,85.18 261.8,91.23 262.09,97.12 262.38,102.34 262.67,106.66 262.96,110.03 263.25,112.52 263.54,114.28 263.83,115.47 264.12,116.24 264.42,116.72 264.71,117.01 265,117.18 265.29,117.27 265.58,117.32 265.87,117.35 266.16,117.37 266.45,117.37 266.74,117.38 267.03,117.38 267.33,117.38 267.62,117.38 267.91,117.38 268.2,117.38 268.49,117.38 268.78,117.38 269.07,117.38 269.36,117.38 269.65,117.38 269.94,117.38 270.24,117.38 270.53,117.38 270.82,117.38 271.11,117.38 271.4,117.38 271.69,117.38 271.98,117.38 272.27,117.38 272.56,117.38 272.85,117.38 273.15,117.38 273.44,117.38 273.73,117.38 274.02,117.38 274.31,117.38 274.6,117.38 274.89,117.37 275.18,117.37 275.47,117.36 275.76,117.34 276.06,117.3 276.35,117.25 276.64,117.17 276.93,117.07 277.22,116.94 277.51,116.8 277.8,116.66 278.09,116.54 278.38,116.46 278.67,116.43 278.97,116.46 279.26,116.54 279.55,116.66 279.84,116.8 280.13,116.94 280.42,117.07 280.71,117.17 281,117.25 281.29,117.3 281.58,117.34 281.88,117.36 282.17,117.37 282.46,117.37 282.75,117.38 283.04,117.38 283.33,117.38 283.62,117.38 283.91,117.37 284.2,117.37 284.49,117.36 284.79,117.35 285.08,117.33 285.37,117.3 285.66,117.25 285.95,117.16 286.24,117.03 286.53,116.83 286.82,116.53 287.11,116.07 287.4,115.42 287.7,114.48 287.99,113.18 288.28,111.4 288.57,109.03 288.86,105.95 289.15,102.05 289.44,97.24 289.73,91.5 290.02,84.84 290.31,77.43 290.61,69.51 290.9,61.51 291.19,53.99 291.48,47.68 291.77,43.51 292.06,43.51 292.35,47.68 292.64,53.99 292.93,61.51 293.22,69.51 293.52,77.43 293.81,84.84 294.1,91.5 294.39,97.24 294.68,102.05 294.97,105.95 295.26,109.03 295.55,111.4 295.84,113.18 296.13,114.48 296.43,115.42 296.72,116.07 297.01,116.53 297.3,116.83 297.59,117.03 297.88,117.16 298.17,117.25 298.46,117.3 298.75,117.33 299.04,117.35 299.34,117.36 299.63,117.37 299.92,117.37 300.21,117.38 300.5,117.38 300.79,117.38 301.08,117.38 301.37,117.38 301.66,117.38 301.95,117.38 302.25,117.38 302.54,117.38 302.83,117.38 303.12,117.38 303.41,117.38 303.7,117.38 303.99,117.38 304.28,117.38 304.57,117.38 304.86,117.38 305.16,117.38 305.45,117.38 305.74,117.38 306.03,117.38 306.32,117.38 306.61,117.38 306.9,117.38 307.19,117.38 307.48,117.38 307.77,117.37 308.07,117.37 308.36,117.37 308.65,117.36 308.94,117.34 309.23,117.31 309.52,117.27 309.81,117.2 310.1,117.09 310.39,116.92 310.68,116.67 310.98,116.29 311.27,115.75 311.56,114.99 311.85,113.93 312.14,112.52 312.43,110.67 312.72,108.32 313.01,105.42 313.3,101.95 313.59,97.94 313.89,93.52 314.18,88.87 314.47,84.28 314.76,80.13 315.05,76.94 315.34,75.43 315.63,76.94 315.92,80.13 316.21,84.28 316.5,88.87 316.8,93.52 317.09,97.94 317.38,101.95 317.67,105.42 317.96,108.32 318.25,110.67 318.54,112.52 318.83,113.93 319.12,114.99 319.41,115.75 319.71,116.29 320,116.67 320.29,116.92 320.58,117.09 320.87,117.2 321.16,117.27 321.45,117.31 321.74,117.34 322.03,117.36 322.32,117.37 322.62,117.37 322.91,117.37 323.2,117.38 323.49,117.38 323.78,117.38 324.07,117.38 324.36,117.38 324.65,117.38 324.94,117.38 325.23,117.38 325.53,117.38 325.82,117.38 326.11,117.38 326.4,117.38 326.69,117.38 326.98,117.38 327.27,117.38 327.56,117.38 327.85,117.38 328.14,117.38 328.44,117.38 328.73,117.38 329.02,117.38 329.31,117.38 329.6,117.38 329.89,117.38 330.18,117.38 330.47,117.38 330.76,117.38 331.05,117.38 331.35,117.38 331.64,117.38 331.93,117.38 332.22,117.38 332.51,117.38 332.8,117.38 333.09,117.38 333.38,117.38 333.67,117.38 333.96,117.38 334.26,117.38 334.55,117.38 334.84,117.38 335.13,117.38 335.42,117.38 335.71,117.38 336,117.38 336.29,117.38 336.58,117.38 336.87,117.38" fill="none" stroke="#88cb72" stroke-width="1.15" stroke-linejoin="round"/>
<line x1="213.2" y1="32.6" x2="213.2" y2="122.1" stroke="#1a1a1a" stroke-width="1.25" />
<line x1="212.6" y1="121.5" x2="339.78" y2="121.5" stroke="#1a1a1a" stroke-width="1.25" />
<line x1="210.2" y1="118.8" x2="213.2" y2="118.8" stroke="#1a1a1a" stroke-width="1" />
<text x="207" y="121.8" font-size="8.7" text-anchor="end" fill="#1a1a1a" font-weight="normal" font-style="normal" textLength="4.45" lengthAdjust="spacingAndGlyphs" stroke="#1a1a1a" stroke-width="0.15" >0</text>
<line x1="210.2" y1="95.1" x2="213.2" y2="95.1" stroke="#1a1a1a" stroke-width="1" />
<text x="207" y="98.1" font-size="8.7" text-anchor="end" fill="#1a1a1a" font-weight="normal" font-style="normal" textLength="8.9" lengthAdjust="spacingAndGlyphs" stroke="#1a1a1a" stroke-width="0.15" >10</text>
<line x1="210.2" y1="71.4" x2="213.2" y2="71.4" stroke="#1a1a1a" stroke-width="1" />
<text x="207" y="74.4" font-size="8.7" text-anchor="end" fill="#1a1a1a" font-weight="normal" font-style="normal" textLength="8.9" lengthAdjust="spacingAndGlyphs" stroke="#1a1a1a" stroke-width="0.15" >20</text>
<line x1="210.2" y1="47.7" x2="213.2" y2="47.7" stroke="#1a1a1a" stroke-width="1" />
<text x="207" y="50.7" font-size="8.7" text-anchor="end" fill="#1a1a1a" font-weight="normal" font-style="normal" textLength="8.9" lengthAdjust="spacingAndGlyphs" stroke="#1a1a1a" stroke-width="0.15" >30</text>
<line x1="211.6" y1="106.95" x2="213.2" y2="106.95" stroke="#1a1a1a" stroke-width="0.9" />
<line x1="211.6" y1="83.25" x2="213.2" y2="83.25" stroke="#1a1a1a" stroke-width="0.9" />
<line x1="211.6" y1="59.55" x2="213.2" y2="59.55" stroke="#1a1a1a" stroke-width="0.9" />
<line x1="211.6" y1="35.85" x2="213.2" y2="35.85" stroke="#1a1a1a" stroke-width="0.9" />
<line x1="213.2" y1="121.5" x2="213.2" y2="124.5" stroke="#1a1a1a" stroke-width="1" />
<text x="213.2" y="134.9" font-size="8.7" text-anchor="middle" fill="#1a1a1a" font-weight="normal" font-style="normal" textLength="4.45" lengthAdjust="spacingAndGlyphs" stroke="#1a1a1a" stroke-width="0.15" >4</text>
<line x1="227.75" y1="121.5" x2="227.75" y2="124.5" stroke="#1a1a1a" stroke-width="1" />
<text x="227.75" y="134.9" font-size="8.7" text-anchor="middle" fill="#1a1a1a" font-weight="normal" font-style="normal" textLength="4.45" lengthAdjust="spacingAndGlyphs" stroke="#1a1a1a" stroke-width="0.15" >5</text>
<line x1="242.3" y1="121.5" x2="242.3" y2="124.5" stroke="#1a1a1a" stroke-width="1" />
<text x="242.3" y="134.9" font-size="8.7" text-anchor="middle" fill="#1a1a1a" font-weight="normal" font-style="normal" textLength="4.45" lengthAdjust="spacingAndGlyphs" stroke="#1a1a1a" stroke-width="0.15" >6</text>
<line x1="256.85" y1="121.5" x2="256.85" y2="124.5" stroke="#1a1a1a" stroke-width="1" />
<text x="256.85" y="134.9" font-size="8.7" text-anchor="middle" fill="#1a1a1a" font-weight="normal" font-style="normal" textLength="4.45" lengthAdjust="spacingAndGlyphs" stroke="#1a1a1a" stroke-width="0.15" >7</text>
<line x1="271.4" y1="121.5" x2="271.4" y2="124.5" stroke="#1a1a1a" stroke-width="1" />
<text x="271.4" y="134.9" font-size="8.7" text-anchor="middle" fill="#1a1a1a" font-weight="normal" font-style="normal" textLength="4.45" lengthAdjust="spacingAndGlyphs" stroke="#1a1a1a" stroke-width="0.15" >8</text>
<line x1="285.95" y1="121.5" x2="285.95" y2="124.5" stroke="#1a1a1a" stroke-width="1" />
<text x="285.95" y="134.9" font-size="8.7" text-anchor="middle" fill="#1a1a1a" font-weight="normal" font-style="normal" textLength="4.45" lengthAdjust="spacingAndGlyphs" stroke="#1a1a1a" stroke-width="0.15" >9</text>
<line x1="300.5" y1="121.5" x2="300.5" y2="124.5" stroke="#1a1a1a" stroke-width="1" />
<text x="300.5" y="134.9" font-size="8.7" text-anchor="middle" fill="#1a1a1a" font-weight="normal" font-style="normal" textLength="8.9" lengthAdjust="spacingAndGlyphs" stroke="#1a1a1a" stroke-width="0.15" >10</text>
<line x1="315.05" y1="121.5" x2="315.05" y2="124.5" stroke="#1a1a1a" stroke-width="1" />
<text x="315.05" y="134.9" font-size="8.7" text-anchor="middle" fill="#1a1a1a" font-weight="normal" font-style="normal" textLength="8.9" lengthAdjust="spacingAndGlyphs" stroke="#1a1a1a" stroke-width="0.15" >11</text>
<line x1="329.6" y1="121.5" x2="329.6" y2="124.5" stroke="#1a1a1a" stroke-width="1" />
<text x="329.6" y="134.9" font-size="8.7" text-anchor="middle" fill="#1a1a1a" font-weight="normal" font-style="normal" textLength="8.9" lengthAdjust="spacingAndGlyphs" stroke="#1a1a1a" stroke-width="0.15" >12</text>
<line x1="220.47" y1="121.5" x2="220.47" y2="123.1" stroke="#1a1a1a" stroke-width="0.9" />
<line x1="235.02" y1="121.5" x2="235.02" y2="123.1" stroke="#1a1a1a" stroke-width="0.9" />
<line x1="249.57" y1="121.5" x2="249.57" y2="123.1" stroke="#1a1a1a" stroke-width="0.9" />
<line x1="264.12" y1="121.5" x2="264.12" y2="123.1" stroke="#1a1a1a" stroke-width="0.9" />
<line x1="278.68" y1="121.5" x2="278.68" y2="123.1" stroke="#1a1a1a" stroke-width="0.9" />
<line x1="293.23" y1="121.5" x2="293.23" y2="123.1" stroke="#1a1a1a" stroke-width="0.9" />
<line x1="307.77" y1="121.5" x2="307.77" y2="123.1" stroke="#1a1a1a" stroke-width="0.9" />
<line x1="322.32" y1="121.5" x2="322.32" y2="123.1" stroke="#1a1a1a" stroke-width="0.9" />
<line x1="336.88" y1="121.5" x2="336.88" y2="123.1" stroke="#1a1a1a" stroke-width="0.9" />
<text x="257.6" y="148.4" font-size="10" text-anchor="start" fill="#1a1a1a" font-weight="normal" font-style="normal" textLength="38.3" lengthAdjust="spacingAndGlyphs" stroke="#1a1a1a" stroke-width="0.3" >Time (min)</text>
<g transform="translate(192.4 76.5) rotate(-90)">
<text x="0" y="0" font-size="10" text-anchor="middle" fill="#1a1a1a" font-weight="normal" font-style="normal" textLength="23.2" lengthAdjust="spacingAndGlyphs" stroke="#1a1a1a" stroke-width="0.3" >mVolts</text>
</g>
<line x1="216.5" y1="35.1" x2="225.8" y2="35.1" stroke="#88cb72" stroke-width="1.2" />
<line x1="216.5" y1="46.9" x2="225.8" y2="46.9" stroke="#cc325c" stroke-width="1.2" />
<text x="229" y="37.8" font-size="8.4" text-anchor="start" fill="#1a1a1a" font-weight="normal" font-style="normal" textLength="26" lengthAdjust="spacingAndGlyphs" stroke="#1a1a1a" stroke-width="0.1" >Control</text>
<text x="229" y="49.1" font-size="8.4" text-anchor="start" fill="#1a1a1a" font-weight="normal" font-style="normal" textLength="38" lengthAdjust="spacingAndGlyphs" stroke="#1a1a1a" stroke-width="0.1" >Idebenone</text>
<text x="276.5" y="38.2" font-size="8.4" text-anchor="start" fill="#1a1a1a" font-weight="normal" font-style="normal" textLength="31.5" lengthAdjust="spacingAndGlyphs" stroke="#1a1a1a" stroke-width="0.1" >Standard</text>
<text x="257.8" y="68.2" font-size="8.4" text-anchor="start" fill="#1a1a1a" font-weight="normal" font-style="normal" textLength="10.7" lengthAdjust="spacingAndGlyphs" stroke="#1a1a1a" stroke-width="0.1" >KO</text>
<text x="313.5" y="68.5" font-size="8.4" text-anchor="start" fill="#c4214a" font-weight="normal" font-style="normal" textLength="4.6" lengthAdjust="spacingAndGlyphs" stroke="#c4214a" stroke-width="0.1" >K</text>
<text x="356.2" y="16.2" font-size="12.5" text-anchor="start" fill="#000" font-weight="bold" font-style="normal" >C</text>
<rect x="427.12" y="32" width="13.24" height="89.5" fill="#ececf1"/>
<line x1="427.12" y1="32" x2="427.12" y2="121.5" stroke="#777" stroke-width="0.8" stroke-dasharray="1 1"/>
<line x1="440.36" y1="32" x2="440.36" y2="121.5" stroke="#777" stroke-width="0.8" stroke-dasharray="1 1"/>
<polyline points="385.8,117.38 386.09,117.38 386.38,117.39 386.67,117.38 386.96,117.36 387.25,117.31 387.55,117.23 387.84,117.11 388.13,116.95 388.42,116.76 388.71,116.57 389,116.42 389.29,116.34 389.58,116.35 389.87,116.45 390.16,116.62 390.46,116.83 390.75,117.04 391.04,117.22 391.33,117.37 391.62,117.47 391.91,117.54 392.2,117.58 392.49,117.6 392.78,117.62 393.07,117.63 393.37,117.64 393.66,117.65 393.95,117.66 394.24,117.67 394.53,117.68 394.82,117.69 395.11,117.7 395.4,117.71 395.69,117.72 395.98,117.73 396.28,117.73 396.57,117.74 396.86,117.75 397.15,117.76 397.44,117.77 397.73,117.78 398.02,117.78 398.31,117.79 398.6,117.8 398.89,117.81 399.19,117.81 399.48,117.82 399.77,117.82 400.06,117.81 400.35,117.79 400.64,117.76 400.93,117.7 401.22,117.61 401.51,117.49 401.8,117.34 402.1,117.17 402.39,117 402.68,116.86 402.97,116.76 403.26,116.74 403.55,116.78 403.84,116.89 404.13,117.05 404.42,117.23 404.71,117.41 405.01,117.58 405.3,117.71 405.59,117.81 405.88,117.88 406.17,117.93 406.46,117.95 406.75,117.95 407.04,117.92 407.33,117.84 407.62,117.68 407.92,117.43 408.21,117.07 408.5,116.59 408.79,116.03 409.08,115.48 409.37,115.03 409.66,114.78 409.95,114.78 410.24,115.05 410.53,115.51 410.83,116.07 411.12,116.64 411.41,117.13 411.7,117.51 411.99,117.77 412.28,117.94 412.57,118.04 412.86,118.09 413.15,118.11 413.44,118.13 413.74,118.14 414.03,118.14 414.32,118.15 414.61,118.16 414.9,118.16 415.19,118.17 415.48,118.17 415.77,118.18 416.06,118.18 416.35,118.19 416.65,118.19 416.94,118.2 417.23,118.2 417.52,118.21 417.81,118.21 418.1,118.21 418.39,118.22 418.68,118.22 418.97,118.23 419.26,118.23 419.56,118.24 419.85,118.24 420.14,118.25 420.43,118.25 420.72,118.26 421.01,118.26 421.3,118.26 421.59,118.27 421.88,118.27 422.17,118.28 422.47,118.28 422.76,118.29 423.05,118.29 423.34,118.29 423.63,118.3 423.92,118.3 424.21,118.31 424.5,118.31 424.79,118.31 425.08,118.32 425.38,118.32 425.67,118.32 425.96,118.33 426.25,118.33 426.54,118.34 426.83,118.34 427.12,118.34 427.41,118.35 427.7,118.35 427.99,118.35 428.29,118.36 428.58,118.36 428.87,118.36 429.16,118.37 429.45,118.37 429.74,118.38 430.03,118.38 430.32,118.38 430.61,118.39 430.9,118.39 431.2,118.39 431.49,118.4 431.78,118.4 432.07,118.4 432.36,118.4 432.65,118.41 432.94,118.41 433.23,118.41 433.52,118.42 433.81,118.42 434.11,118.42 434.4,118.43 434.69,118.43 434.98,118.43 435.27,118.44 435.56,118.44 435.85,118.44 436.14,118.44 436.43,118.45 436.72,118.45 437.02,118.45 437.31,118.45 437.6,118.46 437.89,118.46 438.18,118.46 438.47,118.47 438.76,118.47 439.05,118.47 439.34,118.47 439.63,118.48 439.93,118.48 440.22,118.48 440.51,118.48 440.8,118.49 441.09,118.49 441.38,118.49 441.67,118.49 441.96,118.5 442.25,118.5 442.54,118.5 442.84,118.5 443.13,118.51 443.42,118.51 443.71,118.51 444,118.51 444.29,118.52 444.58,118.52 444.87,118.52 445.16,118.52 445.45,118.52 445.75,118.53 446.04,118.53 446.33,118.53 446.62,118.53 446.91,118.53 447.2,118.54 447.49,118.54 447.78,118.54 448.07,118.54 448.36,118.54 448.66,118.55 448.95,118.55 449.24,118.54 449.53,118.54 449.82,118.52 450.11,118.5 450.4,118.46 450.69,118.41 450.98,118.33 451.27,118.24 451.57,118.14 451.86,118.03 452.15,117.94 452.44,117.88 452.73,117.86 453.02,117.89 453.31,117.95 453.6,118.04 453.89,118.15 454.18,118.26 454.48,118.35 454.77,118.43 455.06,118.49 455.35,118.53 455.64,118.56 455.93,118.58 456.22,118.59 456.51,118.59 456.8,118.59 457.09,118.59 457.39,118.59 457.68,118.58 457.97,118.57 458.26,118.54 458.55,118.5 458.84,118.44 459.13,118.33 459.42,118.17 459.71,117.92 460,117.54 460.3,116.98 460.59,116.18 460.88,115.06 461.17,113.5 461.46,111.4 461.75,108.65 462.04,105.1 462.33,100.68 462.62,95.3 462.91,88.97 463.21,81.78 463.5,73.93 463.79,65.76 464.08,57.77 464.37,50.62 464.66,45.14 464.95,42.56 465.24,45.14 465.53,50.62 465.82,57.78 466.12,65.77 466.41,73.94 466.7,81.8 466.99,88.99 467.28,95.32 467.57,100.7 467.86,105.13 468.15,108.67 468.44,111.44 468.73,113.53 469.03,115.09 469.32,116.22 469.61,117.02 469.9,117.58 470.19,117.96 470.48,118.22 470.77,118.38 471.06,118.49 471.35,118.56 471.64,118.6 471.94,118.63 472.23,118.65 472.52,118.66 472.81,118.66 473.1,118.67 473.39,118.67 473.68,118.67 473.97,118.67 474.26,118.67 474.55,118.68 474.85,118.68 475.14,118.68 475.43,118.68 475.72,118.68 476.01,118.68 476.3,118.68 476.59,118.68 476.88,118.68 477.17,118.68 477.46,118.69 477.76,118.69 478.05,118.69 478.34,118.69 478.63,118.69 478.92,118.69 479.21,118.69 479.5,118.69 479.79,118.69 480.08,118.69 480.37,118.69 480.67,118.69 480.96,118.69 481.25,118.69 481.54,118.69 481.83,118.68 482.12,118.67 482.41,118.65 482.7,118.62 482.99,118.56 483.28,118.47 483.58,118.33 483.87,118.1 484.16,117.76 484.45,117.25 484.74,116.5 485.03,115.43 485.32,113.95 485.61,111.92 485.9,109.24 486.19,105.78 486.49,101.43 486.78,96.15 487.07,89.96 487.36,82.95 487.65,75.39 487.94,67.67 488.23,60.35 488.52,54.16 488.81,50.05 489.1,50.05 489.4,54.16 489.69,60.35 489.98,67.67 490.27,75.4 490.56,82.96 490.85,89.96 491.14,96.16 491.43,101.44 491.72,105.79 492.01,109.25 492.31,111.94 492.6,113.96 492.89,115.45 493.18,116.52 493.47,117.27 493.76,117.78 494.05,118.13 494.34,118.35 494.63,118.5 494.92,118.59 495.22,118.65 495.51,118.68 495.8,118.7 496.09,118.72 496.38,118.72 496.67,118.73 496.96,118.73 497.25,118.73 497.54,118.73 497.83,118.73 498.13,118.73 498.42,118.72 498.71,118.71 499,118.69 499.29,118.67 499.58,118.64 499.87,118.61 500.16,118.56 500.45,118.51 500.74,118.45 501.04,118.4 501.33,118.34 501.62,118.3 501.91,118.28 502.2,118.27 502.49,118.28 502.78,118.31 503.07,118.35 503.36,118.4 503.65,118.46 503.95,118.51 504.24,118.57 504.53,118.61 504.82,118.65 505.11,118.68 505.4,118.7 505.69,118.72 505.98,118.73 506.27,118.74 506.56,118.74 506.86,118.75 507.15,118.75 507.44,118.75 507.73,118.75 508.02,118.75 508.31,118.75 508.6,118.75 508.89,118.75 509.18,118.75 509.47,118.75" fill="none" stroke="#cc325c" stroke-width="1.15" stroke-linejoin="round"/>
<polyline points="385.8,116.19 386.09,116.2 386.38,116.2 386.67,116.2 386.96,116.17 387.25,116.11 387.55,116.02 387.84,115.87 388.13,115.67 388.42,115.45 388.71,115.22 389,115.04 389.29,114.94 389.58,114.95 389.87,115.07 390.16,115.28 390.46,115.53 390.75,115.78 391.04,116 391.33,116.17 391.62,116.3 391.91,116.38 392.2,116.42 392.49,116.46 392.78,116.48 393.07,116.49 393.37,116.5 393.66,116.52 393.95,116.53 394.24,116.54 394.53,116.55 394.82,116.56 395.11,116.57 395.4,116.58 395.69,116.59 395.98,116.6 396.28,116.61 396.57,116.62 396.86,116.63 397.15,116.64 397.44,116.65 397.73,116.66 398.02,116.67 398.31,116.68 398.6,116.68 398.89,116.69 399.19,116.7 399.48,116.71 399.77,116.71 400.06,116.7 400.35,116.69 400.64,116.65 400.93,116.6 401.22,116.51 401.51,116.39 401.8,116.24 402.1,116.07 402.39,115.91 402.68,115.76 402.97,115.67 403.26,115.64 403.55,115.69 403.84,115.8 404.13,115.96 404.42,116.14 404.71,116.32 405.01,116.49 405.3,116.62 405.59,116.73 405.88,116.8 406.17,116.85 406.46,116.87 406.75,116.87 407.04,116.84 407.33,116.77 407.62,116.63 407.92,116.4 408.21,116.06 408.5,115.61 408.79,115.1 409.08,114.59 409.37,114.17 409.66,113.94 409.95,113.95 410.24,114.19 410.53,114.62 410.83,115.15 411.12,115.68 411.41,116.14 411.7,116.49 411.99,116.73 412.28,116.89 412.57,116.98 412.86,117.03 413.15,117.06 413.44,117.07 413.74,117.08 414.03,117.09 414.32,117.09 414.61,117.1 414.9,117.11 415.19,117.11 415.48,117.12 415.77,117.12 416.06,117.13 416.35,117.14 416.65,117.14 416.94,117.15 417.23,117.15 417.52,117.16 417.81,117.16 418.1,117.17 418.39,117.17 418.68,117.18 418.97,117.19 419.26,117.19 419.56,117.2 419.85,117.2 420.14,117.21 420.43,117.21 420.72,117.22 421.01,117.22 421.3,117.23 421.59,117.23 421.88,117.24 422.17,117.24 422.47,117.25 422.76,117.25 423.05,117.26 423.34,117.26 423.63,117.27 423.92,117.27 424.21,117.27 424.5,117.28 424.79,117.28 425.08,117.29 425.38,117.29 425.67,117.3 425.96,117.3 426.25,117.31 426.54,117.31 426.83,117.31 427.12,117.32 427.41,117.32 427.7,117.33 427.99,117.33 428.29,117.33 428.58,117.33 428.87,117.32 429.16,117.3 429.45,117.25 429.74,117.16 430.03,117.01 430.32,116.75 430.61,116.31 430.9,115.63 431.2,114.6 431.49,113.1 431.78,111.02 432.07,108.29 432.36,104.87 432.65,100.88 432.94,96.57 433.23,92.38 433.52,88.97 433.81,87.31 434.11,88.98 434.4,92.4 434.69,96.59 434.98,100.91 435.27,104.91 435.56,108.33 435.85,111.07 436.14,113.16 436.43,114.66 436.72,115.7 437.02,116.39 437.31,116.83 437.6,117.1 437.89,117.26 438.18,117.36 438.47,117.41 438.76,117.44 439.05,117.46 439.34,117.47 439.63,117.47 439.93,117.48 440.22,117.48 440.51,117.48 440.8,117.49 441.09,117.49 441.38,117.49 441.67,117.49 441.96,117.5 442.25,117.5 442.54,117.5 442.84,117.51 443.13,117.51 443.42,117.51 443.71,117.51 444,117.52 444.29,117.52 444.58,117.52 444.87,117.52 445.16,117.53 445.45,117.53 445.75,117.53 446.04,117.54 446.33,117.54 446.62,117.54 446.91,117.54 447.2,117.55 447.49,117.55 447.78,117.55 448.07,117.55 448.36,117.55 448.66,117.56 448.95,117.56 449.24,117.55 449.53,117.55 449.82,117.54 450.11,117.51 450.4,117.47 450.69,117.42 450.98,117.34 451.27,117.25 451.57,117.15 451.86,117.05 452.15,116.96 452.44,116.9 452.73,116.88 453.02,116.9 453.31,116.97 453.6,117.06 453.89,117.17 454.18,117.27 454.48,117.37 454.77,117.45 455.06,117.51 455.35,117.55 455.64,117.58 455.93,117.59 456.22,117.6 456.51,117.61 456.8,117.61 457.09,117.61 457.39,117.61 457.68,117.6 457.97,117.59 458.26,117.57 458.55,117.53 458.84,117.46 459.13,117.36 459.42,117.2 459.71,116.96 460,116.59 460.3,116.06 460.59,115.28 460.88,114.19 461.17,112.68 461.46,110.65 461.75,107.98 462.04,104.55 462.33,100.26 462.62,95.05 462.91,88.92 463.21,81.95 463.5,74.35 463.79,66.43 464.08,58.69 464.37,51.76 464.66,46.45 464.95,43.96 465.24,46.46 465.53,51.77 465.82,58.7 466.12,66.44 466.41,74.36 466.7,81.97 466.99,88.94 467.28,95.08 467.57,100.29 467.86,104.58 468.15,108.01 468.44,110.69 468.73,112.72 469.03,114.23 469.32,115.33 469.61,116.1 469.9,116.64 470.19,117.01 470.48,117.26 470.77,117.42 471.06,117.53 471.35,117.59 471.64,117.64 471.94,117.66 472.23,117.68 472.52,117.69 472.81,117.69 473.1,117.7 473.39,117.7 473.68,117.7 473.97,117.7 474.26,117.71 474.55,117.71 474.85,117.71 475.14,117.71 475.43,117.71 475.72,117.71 476.01,117.71 476.3,117.71 476.59,117.72 476.88,117.72 477.17,117.72 477.46,117.72 477.76,117.72 478.05,117.72 478.34,117.72 478.63,117.72 478.92,117.72 479.21,117.72 479.5,117.73 479.79,117.73 480.08,117.73 480.37,117.73 480.67,117.73 480.96,117.73 481.25,117.73 481.54,117.73 481.83,117.73 482.12,117.73 482.41,117.72 482.7,117.71 482.99,117.7 483.28,117.68 483.58,117.64 483.87,117.57 484.16,117.48 484.45,117.33 484.74,117.12 485.03,116.81 485.32,116.37 485.61,115.76 485.9,114.95 486.19,113.88 486.49,112.53 486.78,110.86 487.07,108.86 487.36,106.55 487.65,104 487.94,101.32 488.23,98.68 488.52,96.29 488.81,94.45 489.1,93.58 489.4,94.45 489.69,96.29 489.98,98.68 490.27,101.33 490.56,104.01 490.85,106.56 491.14,108.87 491.43,110.87 491.72,112.54 492.01,113.9 492.31,114.96 492.6,115.78 492.89,116.39 493.18,116.83 493.47,117.14 493.76,117.36 494.05,117.5 494.34,117.6 494.63,117.67 494.92,117.71 495.22,117.73 495.51,117.75 495.8,117.76 496.09,117.76 496.38,117.77 496.67,117.77 496.96,117.77 497.25,117.77 497.54,117.77 497.83,117.77 498.13,117.77 498.42,117.76 498.71,117.75 499,117.74 499.29,117.71 499.58,117.69 499.87,117.65 500.16,117.6 500.45,117.55 500.74,117.49 501.04,117.44 501.33,117.39 501.62,117.35 501.91,117.32 502.2,117.31 502.49,117.32 502.78,117.35 503.07,117.39 503.36,117.44 503.65,117.5 503.95,117.56 504.24,117.61 504.53,117.66 504.82,117.7 505.11,117.73 505.4,117.75 505.69,117.76 505.98,117.77 506.27,117.78 506.56,117.79 506.86,117.79 507.15,117.79 507.44,117.79 507.73,117.79 508.02,117.79 508.31,117.79 508.6,117.8 508.89,117.8 509.18,117.8 509.47,117.8" fill="none" stroke="#88cb72" stroke-width="1.15" stroke-linejoin="round"/>
<line x1="385.8" y1="32.6" x2="385.8" y2="122.1" stroke="#1a1a1a" stroke-width="1.25" />
<line x1="385.2" y1="121.5" x2="512.38" y2="121.5" stroke="#1a1a1a" stroke-width="1.25" />
<line x1="382.8" y1="118.8" x2="385.8" y2="118.8" stroke="#1a1a1a" stroke-width="1" />
<text x="379.6" y="121.8" font-size="8.7" text-anchor="end" fill="#1a1a1a" font-weight="normal" font-style="normal" textLength="4.45" lengthAdjust="spacingAndGlyphs" stroke="#1a1a1a" stroke-width="0.15" >0</text>
<line x1="382.8" y1="95.1" x2="385.8" y2="95.1" stroke="#1a1a1a" stroke-width="1" />
<text x="379.6" y="98.1" font-size="8.7" text-anchor="end" fill="#1a1a1a" font-weight="normal" font-style="normal" textLength="8.9" lengthAdjust="spacingAndGlyphs" stroke="#1a1a1a" stroke-width="0.15" >10</text>
<line x1="382.8" y1="71.4" x2="385.8" y2="71.4" stroke="#1a1a1a" stroke-width="1" />
<text x="379.6" y="74.4" font-size="8.7" text-anchor="end" fill="#1a1a1a" font-weight="normal" font-style="normal" textLength="8.9" lengthAdjust="spacingAndGlyphs" stroke="#1a1a1a" stroke-width="0.15" >20</text>
<line x1="382.8" y1="47.7" x2="385.8" y2="47.7" stroke="#1a1a1a" stroke-width="1" />
<text x="379.6" y="50.7" font-size="8.7" text-anchor="end" fill="#1a1a1a" font-weight="normal" font-style="normal" textLength="8.9" lengthAdjust="spacingAndGlyphs" stroke="#1a1a1a" stroke-width="0.15" >30</text>
<line x1="384.2" y1="106.95" x2="385.8" y2="106.95" stroke="#1a1a1a" stroke-width="0.9" />
<line x1="384.2" y1="83.25" x2="385.8" y2="83.25" stroke="#1a1a1a" stroke-width="0.9" />
<line x1="384.2" y1="59.55" x2="385.8" y2="59.55" stroke="#1a1a1a" stroke-width="0.9" />
<line x1="384.2" y1="35.85" x2="385.8" y2="35.85" stroke="#1a1a1a" stroke-width="0.9" />
<line x1="385.8" y1="121.5" x2="385.8" y2="124.5" stroke="#1a1a1a" stroke-width="1" />
<text x="385.8" y="134.9" font-size="8.7" text-anchor="middle" fill="#1a1a1a" font-weight="normal" font-style="normal" textLength="4.45" lengthAdjust="spacingAndGlyphs" stroke="#1a1a1a" stroke-width="0.15" >4</text>
<line x1="400.35" y1="121.5" x2="400.35" y2="124.5" stroke="#1a1a1a" stroke-width="1" />
<text x="400.35" y="134.9" font-size="8.7" text-anchor="middle" fill="#1a1a1a" font-weight="normal" font-style="normal" textLength="4.45" lengthAdjust="spacingAndGlyphs" stroke="#1a1a1a" stroke-width="0.15" >5</text>
<line x1="414.9" y1="121.5" x2="414.9" y2="124.5" stroke="#1a1a1a" stroke-width="1" />
<text x="414.9" y="134.9" font-size="8.7" text-anchor="middle" fill="#1a1a1a" font-weight="normal" font-style="normal" textLength="4.45" lengthAdjust="spacingAndGlyphs" stroke="#1a1a1a" stroke-width="0.15" >6</text>
<line x1="429.45" y1="121.5" x2="429.45" y2="124.5" stroke="#1a1a1a" stroke-width="1" />
<text x="429.45" y="134.9" font-size="8.7" text-anchor="middle" fill="#1a1a1a" font-weight="normal" font-style="normal" textLength="4.45" lengthAdjust="spacingAndGlyphs" stroke="#1a1a1a" stroke-width="0.15" >7</text>
<line x1="444" y1="121.5" x2="444" y2="124.5" stroke="#1a1a1a" stroke-width="1" />
<text x="444" y="134.9" font-size="8.7" text-anchor="middle" fill="#1a1a1a" font-weight="normal" font-style="normal" textLength="4.45" lengthAdjust="spacingAndGlyphs" stroke="#1a1a1a" stroke-width="0.15" >8</text>
<line x1="458.55" y1="121.5" x2="458.55" y2="124.5" stroke="#1a1a1a" stroke-width="1" />
<text x="458.55" y="134.9" font-size="8.7" text-anchor="middle" fill="#1a1a1a" font-weight="normal" font-style="normal" textLength="4.45" lengthAdjust="spacingAndGlyphs" stroke="#1a1a1a" stroke-width="0.15" >9</text>
<line x1="473.1" y1="121.5" x2="473.1" y2="124.5" stroke="#1a1a1a" stroke-width="1" />
<text x="473.1" y="134.9" font-size="8.7" text-anchor="middle" fill="#1a1a1a" font-weight="normal" font-style="normal" textLength="8.9" lengthAdjust="spacingAndGlyphs" stroke="#1a1a1a" stroke-width="0.15" >10</text>
<line x1="487.65" y1="121.5" x2="487.65" y2="124.5" stroke="#1a1a1a" stroke-width="1" />
<text x="487.65" y="134.9" font-size="8.7" text-anchor="middle" fill="#1a1a1a" font-weight="normal" font-style="normal" textLength="8.9" lengthAdjust="spacingAndGlyphs" stroke="#1a1a1a" stroke-width="0.15" >11</text>
<line x1="502.2" y1="121.5" x2="502.2" y2="124.5" stroke="#1a1a1a" stroke-width="1" />
<text x="502.2" y="134.9" font-size="8.7" text-anchor="middle" fill="#1a1a1a" font-weight="normal" font-style="normal" textLength="8.9" lengthAdjust="spacingAndGlyphs" stroke="#1a1a1a" stroke-width="0.15" >12</text>
<line x1="393.07" y1="121.5" x2="393.07" y2="123.1" stroke="#1a1a1a" stroke-width="0.9" />
<line x1="407.62" y1="121.5" x2="407.62" y2="123.1" stroke="#1a1a1a" stroke-width="0.9" />
<line x1="422.17" y1="121.5" x2="422.17" y2="123.1" stroke="#1a1a1a" stroke-width="0.9" />
<line x1="436.72" y1="121.5" x2="436.72" y2="123.1" stroke="#1a1a1a" stroke-width="0.9" />
<line x1="451.27" y1="121.5" x2="451.27" y2="123.1" stroke="#1a1a1a" stroke-width="0.9" />
<line x1="465.82" y1="121.5" x2="465.82" y2="123.1" stroke="#1a1a1a" stroke-width="0.9" />
<line x1="480.37" y1="121.5" x2="480.37" y2="123.1" stroke="#1a1a1a" stroke-width="0.9" />
<line x1="494.92" y1="121.5" x2="494.92" y2="123.1" stroke="#1a1a1a" stroke-width="0.9" />
<line x1="509.47" y1="121.5" x2="509.47" y2="123.1" stroke="#1a1a1a" stroke-width="0.9" />
<text x="430.2" y="148.4" font-size="10" text-anchor="start" fill="#1a1a1a" font-weight="normal" font-style="normal" textLength="38.3" lengthAdjust="spacingAndGlyphs" stroke="#1a1a1a" stroke-width="0.3" >Time (min)</text>
<g transform="translate(365 76.5) rotate(-90)">
<text x="0" y="0" font-size="10" text-anchor="middle" fill="#1a1a1a" font-weight="normal" font-style="normal" textLength="23.2" lengthAdjust="spacingAndGlyphs" stroke="#1a1a1a" stroke-width="0.3" >mVolts</text>
</g>
<line x1="389.1" y1="35.1" x2="398.4" y2="35.1" stroke="#88cb72" stroke-width="1.2" />
<line x1="389.1" y1="46.9" x2="398.4" y2="46.9" stroke="#cc325c" stroke-width="1.2" />
<text x="401.6" y="37.8" font-size="8.4" text-anchor="start" fill="#1a1a1a" font-weight="normal" font-style="normal" textLength="26" lengthAdjust="spacingAndGlyphs" stroke="#1a1a1a" stroke-width="0.1" >Control</text>
<text x="401.6" y="49.1" font-size="8.4" text-anchor="start" fill="#1a1a1a" font-weight="normal" font-style="normal" textLength="38" lengthAdjust="spacingAndGlyphs" stroke="#1a1a1a" stroke-width="0.1" >Idebenone</text>
<text x="448.9" y="38.2" font-size="8.4" text-anchor="start" fill="#1a1a1a" font-weight="normal" font-style="normal" textLength="31.5" lengthAdjust="spacingAndGlyphs" stroke="#1a1a1a" stroke-width="0.1" >Standard</text>
<text x="428.5" y="80.8" font-size="8.4" text-anchor="start" fill="#c4214a" font-weight="normal" font-style="normal" textLength="11.5" lengthAdjust="spacingAndGlyphs" stroke="#c4214a" stroke-width="0.1" >KO</text>
<text x="486.9" y="44.6" font-size="8.4" text-anchor="start" fill="#1a1a1a" font-weight="normal" font-style="normal" textLength="5" lengthAdjust="spacingAndGlyphs" stroke="#1a1a1a" stroke-width="0.1" >K</text>
<text x="183.6" y="170.5" font-size="12.5" text-anchor="start" fill="#000" font-weight="bold" font-style="normal" >E</text>
<rect x="309.96" y="186.3" width="12.8" height="89.5" fill="#ececf1"/>
<line x1="309.96" y1="186.3" x2="309.96" y2="275.8" stroke="#777" stroke-width="0.8" stroke-dasharray="1 1"/>
<line x1="322.76" y1="186.3" x2="322.76" y2="275.8" stroke="#777" stroke-width="0.8" stroke-dasharray="1 1"/>
<polyline points="213.2,272.98 213.49,272.98 213.78,272.98 214.07,272.98 214.36,272.98 214.65,272.98 214.95,272.98 215.24,272.98 215.53,272.98 215.82,272.98 216.11,272.98 216.4,272.98 216.69,272.98 216.98,272.98 217.27,272.98 217.56,272.98 217.86,272.98 218.15,272.98 218.44,272.98 218.73,272.97 219.02,272.95 219.31,272.91 219.6,272.82 219.89,272.67 220.18,272.44 220.47,272.14 220.77,271.81 221.06,271.52 221.35,271.35 221.64,271.35 221.93,271.52 222.22,271.81 222.51,272.14 222.8,272.44 223.09,272.67 223.38,272.82 223.68,272.91 223.97,272.95 224.26,272.97 224.55,272.98 224.84,272.98 225.13,272.98 225.42,272.98 225.71,272.98 226,272.97 226.29,272.96 226.59,272.93 226.88,272.88 227.17,272.79 227.46,272.65 227.75,272.47 228.04,272.24 228.33,272 228.62,271.77 228.91,271.62 229.2,271.56 229.5,271.62 229.79,271.77 230.08,272 230.37,272.24 230.66,272.47 230.95,272.65 231.24,272.79 231.53,272.88 231.82,272.93 232.11,272.96 232.41,272.97 232.7,272.98 232.99,272.98 233.28,272.98 233.57,272.98 233.86,272.98 234.15,272.98 234.44,272.98 234.73,272.98 235.02,272.98 235.32,272.98 235.61,272.98 235.9,272.98 236.19,272.98 236.48,272.98 236.77,272.98 237.06,272.98 237.35,272.98 237.64,272.98 237.93,272.98 238.23,272.98 238.52,272.98 238.81,272.98 239.1,272.98 239.39,272.98 239.68,272.98 239.97,272.98 240.26,272.98 240.55,272.98 240.84,272.98 241.14,272.98 241.43,272.98 241.72,272.98 242.01,272.98 242.3,272.98 242.59,272.98 242.88,272.98 243.17,272.98 243.46,272.98 243.75,272.98 244.05,272.98 244.34,272.98 244.63,272.98 244.92,272.98 245.21,272.98 245.5,272.98 245.79,272.98 246.08,272.98 246.37,272.98 246.66,272.98 246.96,272.98 247.25,272.98 247.54,272.98 247.83,272.98 248.12,272.98 248.41,272.98 248.7,272.98 248.99,272.98 249.28,272.98 249.57,272.98 249.87,272.98 250.16,272.98 250.45,272.98 250.74,272.98 251.03,272.98 251.32,272.98 251.61,272.98 251.9,272.98 252.19,272.98 252.48,272.98 252.78,272.98 253.07,272.98 253.36,272.98 253.65,272.98 253.94,272.98 254.23,272.98 254.52,272.98 254.81,272.98 255.1,272.98 255.39,272.98 255.69,272.98 255.98,272.97 256.27,272.96 256.56,272.94 256.85,272.89 257.14,272.82 257.43,272.68 257.72,272.45 258.01,272.07 258.3,271.48 258.6,270.59 258.89,269.29 259.18,267.5 259.47,265.13 259.76,262.19 260.05,258.74 260.34,255.02 260.63,251.41 260.92,248.46 261.21,247.03 261.51,248.46 261.8,251.41 262.09,255.02 262.38,258.74 262.67,262.19 262.96,265.13 263.25,267.5 263.54,269.29 263.83,270.59 264.12,271.48 264.42,272.07 264.71,272.45 265,272.68 265.29,272.82 265.58,272.89 265.87,272.94 266.16,272.96 266.45,272.97 266.74,272.98 267.03,272.98 267.33,272.98 267.62,272.98 267.91,272.98 268.2,272.98 268.49,272.98 268.78,272.98 269.07,272.98 269.36,272.98 269.65,272.98 269.94,272.98 270.24,272.98 270.53,272.98 270.82,272.98 271.11,272.98 271.4,272.98 271.69,272.98 271.98,272.98 272.27,272.98 272.56,272.98 272.85,272.98 273.15,272.98 273.44,272.98 273.73,272.98 274.02,272.98 274.31,272.98 274.6,272.98 274.89,272.98 275.18,272.97 275.47,272.95 275.76,272.93 276.06,272.89 276.35,272.82 276.64,272.73 276.93,272.6 277.22,272.44 277.51,272.26 277.8,272.09 278.09,271.94 278.38,271.83 278.67,271.8 278.97,271.83 279.26,271.94 279.55,272.09 279.84,272.26 280.13,272.44 280.42,272.6 280.71,272.73 281,272.82 281.29,272.89 281.58,272.93 281.88,272.95 282.17,272.97 282.46,272.98 282.75,272.98 283.04,272.98 283.33,272.98 283.62,272.98 283.91,272.98 284.2,272.98 284.49,272.98 284.79,272.98 285.08,272.98 285.37,272.98 285.66,272.97 285.95,272.96 286.24,272.94 286.53,272.91 286.82,272.85 287.11,272.75 287.4,272.58 287.7,272.31 287.99,271.87 288.28,271.19 288.57,270.15 288.86,268.64 289.15,266.47 289.44,263.48 289.73,259.49 290.02,254.34 290.31,247.96 290.61,240.39 290.9,231.85 291.19,222.8 291.48,213.94 291.77,206.27 292.06,201.09 292.35,201.09 292.64,206.27 292.93,213.94 293.22,222.8 293.52,231.85 293.81,240.39 294.1,247.96 294.39,254.34 294.68,259.49 294.97,263.48 295.26,266.47 295.55,268.64 295.84,270.15 296.13,271.19 296.43,271.87 296.72,272.31 297.01,272.58 297.3,272.75 297.59,272.85 297.88,272.91 298.17,272.94 298.46,272.96 298.75,272.97 299.04,272.98 299.34,272.98 299.63,272.98 299.92,272.98 300.21,272.98 300.5,272.98 300.79,272.98 301.08,272.98 301.37,272.98 301.66,272.98 301.95,272.98 302.25,272.98 302.54,272.98 302.83,272.98 303.12,272.98 303.41,272.98 303.7,272.98 303.99,272.98 304.28,272.98 304.57,272.98 304.86,272.98 305.16,272.98 305.45,272.98 305.74,272.98 306.03,272.98 306.32,272.98 306.61,272.98 306.9,272.98 307.19,272.98 307.48,272.98 307.77,272.98 308.07,272.98 308.36,272.98 308.65,272.98 308.94,272.98 309.23,272.98 309.52,272.97 309.81,272.96 310.1,272.95 310.39,272.93 310.68,272.9 310.98,272.86 311.27,272.78 311.56,272.67 311.85,272.51 312.14,272.27 312.43,271.93 312.72,271.47 313.01,270.86 313.3,270.05 313.59,269.02 313.89,267.74 314.18,266.22 314.47,264.47 314.76,262.54 315.05,260.5 315.34,258.49 315.63,256.67 315.92,255.27 316.21,254.61 316.5,255.27 316.8,256.67 317.09,258.49 317.38,260.5 317.67,262.54 317.96,264.47 318.25,266.22 318.54,267.74 318.83,269.02 319.12,270.05 319.41,270.86 319.71,271.47 320,271.93 320.29,272.27 320.58,272.51 320.87,272.67 321.16,272.78 321.45,272.86 321.74,272.9 322.03,272.93 322.32,272.95 322.62,272.96 322.91,272.97 323.2,272.98 323.49,272.98 323.78,272.98 324.07,272.98 324.36,272.98 324.65,272.98 324.94,272.98 325.23,272.98 325.53,272.98 325.82,272.98 326.11,272.98 326.4,272.98 326.69,272.98 326.98,272.98 327.27,272.98 327.56,272.98 327.85,272.98 328.14,272.98 328.44,272.98 328.73,272.98 329.02,272.98 329.31,272.98 329.6,272.98 329.89,272.98 330.18,272.98 330.47,272.98 330.76,272.98 331.05,272.98 331.35,272.98 331.64,272.98 331.93,272.98 332.22,272.98 332.51,272.98 332.8,272.98 333.09,272.98 333.38,272.98 333.67,272.98 333.96,272.98 334.26,272.98 334.55,272.98 334.84,272.98 335.13,272.98 335.42,272.98 335.71,272.98 336,272.98 336.29,272.98 336.58,272.98 336.87,272.98" fill="none" stroke="#cc325c" stroke-width="1.15" stroke-linejoin="round"/>
<polyline points="213.2,271.68 213.49,271.68 213.78,271.68 214.07,271.68 214.36,271.68 214.65,271.68 214.95,271.68 215.24,271.68 215.53,271.68 215.82,271.68 216.11,271.68 216.4,271.68 216.69,271.68 216.98,271.68 217.27,271.68 217.56,271.68 217.86,271.68 218.15,271.68 218.44,271.68 218.73,271.67 219.02,271.66 219.31,271.64 219.6,271.59 219.89,271.5 220.18,271.37 220.47,271.2 220.77,271.01 221.06,270.84 221.35,270.74 221.64,270.74 221.93,270.84 222.22,271.01 222.51,271.2 222.8,271.37 223.09,271.5 223.38,271.59 223.68,271.64 223.97,271.66 224.26,271.67 224.55,271.68 224.84,271.68 225.13,271.68 225.42,271.68 225.71,271.67 226,271.66 226.29,271.63 226.59,271.58 226.88,271.49 227.17,271.32 227.46,271.08 227.75,270.74 228.04,270.32 228.33,269.87 228.62,269.45 228.91,269.16 229.2,269.04 229.5,269.12 229.79,269.39 230.08,269.76 230.37,270.15 230.66,270.51 230.95,270.77 231.24,270.94 231.53,271.01 231.82,271.03 232.11,271.01 232.41,270.98 232.7,270.96 232.99,270.97 233.28,271 233.57,271.05 233.86,271.12 234.15,271.2 234.44,271.29 234.73,271.37 235.02,271.44 235.32,271.51 235.61,271.55 235.9,271.59 236.19,271.61 236.48,271.63 236.77,271.63 237.06,271.63 237.35,271.62 237.64,271.6 237.93,271.58 238.23,271.55 238.52,271.52 238.81,271.48 239.1,271.44 239.39,271.39 239.68,271.33 239.97,271.28 240.26,271.22 240.55,271.16 240.84,271.11 241.14,271.06 241.43,271.02 241.72,270.99 242.01,270.97 242.3,270.97 242.59,270.97 242.88,270.99 243.17,271.02 243.46,271.06 243.75,271.11 244.05,271.16 244.34,271.22 244.63,271.28 244.92,271.33 245.21,271.39 245.5,271.44 245.79,271.48 246.08,271.52 246.37,271.55 246.66,271.58 246.96,271.6 247.25,271.62 247.54,271.64 247.83,271.65 248.12,271.66 248.41,271.66 248.7,271.67 248.99,271.67 249.28,271.67 249.57,271.68 249.87,271.68 250.16,271.68 250.45,271.68 250.74,271.68 251.03,271.68 251.32,271.68 251.61,271.68 251.9,271.68 252.19,271.68 252.48,271.68 252.78,271.68 253.07,271.68 253.36,271.68 253.65,271.68 253.94,271.68 254.23,271.68 254.52,271.68 254.81,271.68 255.1,271.68 255.39,271.67 255.69,271.67 255.98,271.65 256.27,271.63 256.56,271.58 256.85,271.48 257.14,271.32 257.43,271.04 257.72,270.57 258.01,269.81 258.3,268.65 258.6,266.93 258.89,264.5 259.18,261.2 259.47,256.98 259.76,251.87 260.05,246.12 260.34,240.2 260.63,234.86 260.92,231.16 261.21,231.16 261.51,234.86 261.8,240.2 262.09,246.12 262.38,251.87 262.67,256.98 262.96,261.2 263.25,264.5 263.54,266.93 263.83,268.65 264.12,269.81 264.42,270.57 264.71,271.04 265,271.32 265.29,271.48 265.58,271.58 265.87,271.63 266.16,271.65 266.45,271.67 266.74,271.67 267.03,271.68 267.33,271.68 267.62,271.68 267.91,271.68 268.2,271.68 268.49,271.68 268.78,271.68 269.07,271.68 269.36,271.68 269.65,271.68 269.94,271.68 270.24,271.68 270.53,271.68 270.82,271.68 271.11,271.68 271.4,271.68 271.69,271.68 271.98,271.68 272.27,271.68 272.56,271.68 272.85,271.68 273.15,271.68 273.44,271.68 273.73,271.68 274.02,271.68 274.31,271.68 274.6,271.68 274.89,271.67 275.18,271.67 275.47,271.66 275.76,271.64 276.06,271.6 276.35,271.55 276.64,271.47 276.93,271.37 277.22,271.24 277.51,271.1 277.8,270.96 278.09,270.84 278.38,270.76 278.67,270.73 278.97,270.76 279.26,270.84 279.55,270.96 279.84,271.1 280.13,271.24 280.42,271.37 280.71,271.47 281,271.55 281.29,271.6 281.58,271.64 281.88,271.66 282.17,271.67 282.46,271.67 282.75,271.68 283.04,271.68 283.33,271.68 283.62,271.68 283.91,271.67 284.2,271.67 284.49,271.67 284.79,271.66 285.08,271.64 285.37,271.62 285.66,271.58 285.95,271.52 286.24,271.42 286.53,271.27 286.82,271.03 287.11,270.68 287.4,270.17 287.7,269.42 287.99,268.38 288.28,266.94 288.57,265 288.86,262.45 289.15,259.17 289.44,255.07 289.73,250.1 290.02,244.24 290.31,237.58 290.61,230.32 290.9,222.76 291.19,215.37 291.48,208.75 291.77,203.67 292.06,201.29 292.35,203.67 292.64,208.75 292.93,215.37 293.22,222.76 293.52,230.32 293.81,237.58 294.1,244.24 294.39,250.1 294.68,255.07 294.97,259.17 295.26,262.45 295.55,265 295.84,266.94 296.13,268.38 296.43,269.42 296.72,270.17 297.01,270.68 297.3,271.03 297.59,271.27 297.88,271.42 298.17,271.52 298.46,271.58 298.75,271.62 299.04,271.64 299.34,271.66 299.63,271.67 299.92,271.67 300.21,271.67 300.5,271.68 300.79,271.68 301.08,271.68 301.37,271.68 301.66,271.68 301.95,271.68 302.25,271.68 302.54,271.68 302.83,271.68 303.12,271.68 303.41,271.68 303.7,271.68 303.99,271.68 304.28,271.68 304.57,271.68 304.86,271.68 305.16,271.68 305.45,271.68 305.74,271.68 306.03,271.68 306.32,271.68 306.61,271.68 306.9,271.68 307.19,271.68 307.48,271.68 307.77,271.68 308.07,271.68 308.36,271.68 308.65,271.67 308.94,271.67 309.23,271.66 309.52,271.65 309.81,271.63 310.1,271.6 310.39,271.54 310.68,271.45 310.98,271.32 311.27,271.12 311.56,270.81 311.85,270.37 312.14,269.73 312.43,268.85 312.72,267.65 313.01,266.05 313.3,264 313.59,261.42 313.89,258.28 314.18,254.6 314.47,250.44 314.76,245.95 315.05,241.37 315.34,237.02 315.63,233.34 315.92,230.9 316.21,230.9 316.5,233.34 316.8,237.02 317.09,241.37 317.38,245.95 317.67,250.44 317.96,254.6 318.25,258.28 318.54,261.42 318.83,264 319.12,266.05 319.41,267.65 319.71,268.85 320,269.73 320.29,270.37 320.58,270.81 320.87,271.12 321.16,271.32 321.45,271.45 321.74,271.54 322.03,271.6 322.32,271.63 322.62,271.65 322.91,271.66 323.2,271.67 323.49,271.67 323.78,271.68 324.07,271.68 324.36,271.68 324.65,271.68 324.94,271.68 325.23,271.68 325.53,271.68 325.82,271.68 326.11,271.68 326.4,271.68 326.69,271.68 326.98,271.68 327.27,271.68 327.56,271.68 327.85,271.68 328.14,271.68 328.44,271.68 328.73,271.68 329.02,271.68 329.31,271.68 329.6,271.68 329.89,271.68 330.18,271.68 330.47,271.68 330.76,271.68 331.05,271.68 331.35,271.68 331.64,271.68 331.93,271.68 332.22,271.68 332.51,271.68 332.8,271.68 333.09,271.68 333.38,271.68 333.67,271.68 333.96,271.68 334.26,271.68 334.55,271.68 334.84,271.68 335.13,271.68 335.42,271.68 335.71,271.68 336,271.68 336.29,271.68 336.58,271.68 336.87,271.68" fill="none" stroke="#88cb72" stroke-width="1.15" stroke-linejoin="round"/>
<line x1="213.2" y1="186.9" x2="213.2" y2="276.4" stroke="#1a1a1a" stroke-width="1.25" />
<line x1="212.6" y1="275.8" x2="339.78" y2="275.8" stroke="#1a1a1a" stroke-width="1.25" />
<line x1="210.2" y1="273.1" x2="213.2" y2="273.1" stroke="#1a1a1a" stroke-width="1" />
<text x="207" y="276.1" font-size="8.7" text-anchor="end" fill="#1a1a1a" font-weight="normal" font-style="normal" textLength="4.45" lengthAdjust="spacingAndGlyphs" stroke="#1a1a1a" stroke-width="0.15" >0</text>
<line x1="210.2" y1="249.4" x2="213.2" y2="249.4" stroke="#1a1a1a" stroke-width="1" />
<text x="207" y="252.4" font-size="8.7" text-anchor="end" fill="#1a1a1a" font-weight="normal" font-style="normal" textLength="8.9" lengthAdjust="spacingAndGlyphs" stroke="#1a1a1a" stroke-width="0.15" >10</text>
<line x1="210.2" y1="225.7" x2="213.2" y2="225.7" stroke="#1a1a1a" stroke-width="1" />
<text x="207" y="228.7" font-size="8.7" text-anchor="end" fill="#1a1a1a" font-weight="normal" font-style="normal" textLength="8.9" lengthAdjust="spacingAndGlyphs" stroke="#1a1a1a" stroke-width="0.15" >20</text>
<line x1="210.2" y1="202" x2="213.2" y2="202" stroke="#1a1a1a" stroke-width="1" />
<text x="207" y="205" font-size="8.7" text-anchor="end" fill="#1a1a1a" font-weight="normal" font-style="normal" textLength="8.9" lengthAdjust="spacingAndGlyphs" stroke="#1a1a1a" stroke-width="0.15" >30</text>
<line x1="211.6" y1="261.25" x2="213.2" y2="261.25" stroke="#1a1a1a" stroke-width="0.9" />
<line x1="211.6" y1="237.55" x2="213.2" y2="237.55" stroke="#1a1a1a" stroke-width="0.9" />
<line x1="211.6" y1="213.85" x2="213.2" y2="213.85" stroke="#1a1a1a" stroke-width="0.9" />
<line x1="211.6" y1="190.15" x2="213.2" y2="190.15" stroke="#1a1a1a" stroke-width="0.9" />
<line x1="213.2" y1="275.8" x2="213.2" y2="278.8" stroke="#1a1a1a" stroke-width="1" />
<text x="213.2" y="289.2" font-size="8.7" text-anchor="middle" fill="#1a1a1a" font-weight="normal" font-style="normal" textLength="4.45" lengthAdjust="spacingAndGlyphs" stroke="#1a1a1a" stroke-width="0.15" >4</text>
<line x1="227.75" y1="275.8" x2="227.75" y2="278.8" stroke="#1a1a1a" stroke-width="1" />
<text x="227.75" y="289.2" font-size="8.7" text-anchor="middle" fill="#1a1a1a" font-weight="normal" font-style="normal" textLength="4.45" lengthAdjust="spacingAndGlyphs" stroke="#1a1a1a" stroke-width="0.15" >5</text>
<line x1="242.3" y1="275.8" x2="242.3" y2="278.8" stroke="#1a1a1a" stroke-width="1" />
<text x="242.3" y="289.2" font-size="8.7" text-anchor="middle" fill="#1a1a1a" font-weight="normal" font-style="normal" textLength="4.45" lengthAdjust="spacingAndGlyphs" stroke="#1a1a1a" stroke-width="0.15" >6</text>
<line x1="256.85" y1="275.8" x2="256.85" y2="278.8" stroke="#1a1a1a" stroke-width="1" />
<text x="256.85" y="289.2" font-size="8.7" text-anchor="middle" fill="#1a1a1a" font-weight="normal" font-style="normal" textLength="4.45" lengthAdjust="spacingAndGlyphs" stroke="#1a1a1a" stroke-width="0.15" >7</text>
<line x1="271.4" y1="275.8" x2="271.4" y2="278.8" stroke="#1a1a1a" stroke-width="1" />
<text x="271.4" y="289.2" font-size="8.7" text-anchor="middle" fill="#1a1a1a" font-weight="normal" font-style="normal" textLength="4.45" lengthAdjust="spacingAndGlyphs" stroke="#1a1a1a" stroke-width="0.15" >8</text>
<line x1="285.95" y1="275.8" x2="285.95" y2="278.8" stroke="#1a1a1a" stroke-width="1" />
<text x="285.95" y="289.2" font-size="8.7" text-anchor="middle" fill="#1a1a1a" font-weight="normal" font-style="normal" textLength="4.45" lengthAdjust="spacingAndGlyphs" stroke="#1a1a1a" stroke-width="0.15" >9</text>
<line x1="300.5" y1="275.8" x2="300.5" y2="278.8" stroke="#1a1a1a" stroke-width="1" />
<text x="300.5" y="289.2" font-size="8.7" text-anchor="middle" fill="#1a1a1a" font-weight="normal" font-style="normal" textLength="8.9" lengthAdjust="spacingAndGlyphs" stroke="#1a1a1a" stroke-width="0.15" >10</text>
<line x1="315.05" y1="275.8" x2="315.05" y2="278.8" stroke="#1a1a1a" stroke-width="1" />
<text x="315.05" y="289.2" font-size="8.7" text-anchor="middle" fill="#1a1a1a" font-weight="normal" font-style="normal" textLength="8.9" lengthAdjust="spacingAndGlyphs" stroke="#1a1a1a" stroke-width="0.15" >11</text>
<line x1="329.6" y1="275.8" x2="329.6" y2="278.8" stroke="#1a1a1a" stroke-width="1" />
<text x="329.6" y="289.2" font-size="8.7" text-anchor="middle" fill="#1a1a1a" font-weight="normal" font-style="normal" textLength="8.9" lengthAdjust="spacingAndGlyphs" stroke="#1a1a1a" stroke-width="0.15" >12</text>
<line x1="220.47" y1="275.8" x2="220.47" y2="277.4" stroke="#1a1a1a" stroke-width="0.9" />
<line x1="235.02" y1="275.8" x2="235.02" y2="277.4" stroke="#1a1a1a" stroke-width="0.9" />
<line x1="249.57" y1="275.8" x2="249.57" y2="277.4" stroke="#1a1a1a" stroke-width="0.9" />
<line x1="264.12" y1="275.8" x2="264.12" y2="277.4" stroke="#1a1a1a" stroke-width="0.9" />
<line x1="278.68" y1="275.8" x2="278.68" y2="277.4" stroke="#1a1a1a" stroke-width="0.9" />
<line x1="293.23" y1="275.8" x2="293.23" y2="277.4" stroke="#1a1a1a" stroke-width="0.9" />
<line x1="307.77" y1="275.8" x2="307.77" y2="277.4" stroke="#1a1a1a" stroke-width="0.9" />
<line x1="322.32" y1="275.8" x2="322.32" y2="277.4" stroke="#1a1a1a" stroke-width="0.9" />
<line x1="336.88" y1="275.8" x2="336.88" y2="277.4" stroke="#1a1a1a" stroke-width="0.9" />
<text x="257.6" y="302.7" font-size="10" text-anchor="start" fill="#1a1a1a" font-weight="normal" font-style="normal" textLength="38.3" lengthAdjust="spacingAndGlyphs" stroke="#1a1a1a" stroke-width="0.3" >Time (min)</text>
<g transform="translate(192.4 230.8) rotate(-90)">
<text x="0" y="0" font-size="10" text-anchor="middle" fill="#1a1a1a" font-weight="normal" font-style="normal" textLength="23.2" lengthAdjust="spacingAndGlyphs" stroke="#1a1a1a" stroke-width="0.3" >mVolts</text>
</g>
<line x1="216.5" y1="189.4" x2="225.8" y2="189.4" stroke="#88cb72" stroke-width="1.2" />
<line x1="216.5" y1="201.2" x2="225.8" y2="201.2" stroke="#cc325c" stroke-width="1.2" />
<text x="229" y="192.1" font-size="8.4" text-anchor="start" fill="#1a1a1a" font-weight="normal" font-style="normal" textLength="26" lengthAdjust="spacingAndGlyphs" stroke="#1a1a1a" stroke-width="0.1" >Control</text>
<text x="229" y="203.4" font-size="8.4" text-anchor="start" fill="#1a1a1a" font-weight="normal" font-style="normal" textLength="41" lengthAdjust="spacingAndGlyphs" stroke="#1a1a1a" stroke-width="0.1" >Clofazimine</text>
<text x="276.5" y="192.9" font-size="8.4" text-anchor="start" fill="#1a1a1a" font-weight="normal" font-style="normal" textLength="31.5" lengthAdjust="spacingAndGlyphs" stroke="#1a1a1a" stroke-width="0.1" >Standard</text>
<text x="257.8" y="222.9" font-size="8.4" text-anchor="start" fill="#1a1a1a" font-weight="normal" font-style="normal" textLength="10.7" lengthAdjust="spacingAndGlyphs" stroke="#1a1a1a" stroke-width="0.1" >KO</text>
<text x="313.5" y="223.2" font-size="8.4" text-anchor="start" fill="#c4214a" font-weight="normal" font-style="normal" textLength="4.6" lengthAdjust="spacingAndGlyphs" stroke="#c4214a" stroke-width="0.1" >K</text>
<text x="356.2" y="170.5" font-size="12.5" text-anchor="start" fill="#000" font-weight="bold" font-style="normal" >F</text>
<rect x="427.27" y="186.3" width="13.24" height="89.5" fill="#ececf1"/>
<line x1="427.27" y1="186.3" x2="427.27" y2="275.8" stroke="#777" stroke-width="0.8" stroke-dasharray="1 1"/>
<line x1="440.51" y1="186.3" x2="440.51" y2="275.8" stroke="#777" stroke-width="0.8" stroke-dasharray="1 1"/>
<polyline points="385.8,271.68 386.09,271.68 386.38,271.69 386.67,271.68 386.96,271.66 387.25,271.61 387.55,271.53 387.84,271.41 388.13,271.25 388.42,271.06 388.71,270.87 389,270.72 389.29,270.64 389.58,270.65 389.87,270.75 390.16,270.92 390.46,271.13 390.75,271.34 391.04,271.52 391.33,271.67 391.62,271.77 391.91,271.84 392.2,271.88 392.49,271.9 392.78,271.92 393.07,271.93 393.37,271.94 393.66,271.95 393.95,271.96 394.24,271.97 394.53,271.98 394.82,271.99 395.11,272 395.4,272.01 395.69,272.02 395.98,272.03 396.28,272.03 396.57,272.04 396.86,272.05 397.15,272.06 397.44,272.07 397.73,272.08 398.02,272.08 398.31,272.09 398.6,272.1 398.89,272.11 399.19,272.11 399.48,272.12 399.77,272.12 400.06,272.11 400.35,272.09 400.64,272.06 400.93,272 401.22,271.91 401.51,271.79 401.8,271.64 402.1,271.47 402.39,271.3 402.68,271.16 402.97,271.06 403.26,271.04 403.55,271.08 403.84,271.19 404.13,271.35 404.42,271.53 404.71,271.71 405.01,271.88 405.3,272.01 405.59,272.11 405.88,272.19 406.17,272.23 406.46,272.26 406.75,272.28 407.04,272.28 407.33,272.25 407.62,272.18 407.92,272.01 408.21,271.7 408.5,271.16 408.79,270.34 409.08,269.25 409.37,268.05 409.66,267.11 409.95,267.11 410.24,268.07 410.53,269.28 410.83,270.38 411.12,271.21 411.41,271.77 411.7,272.09 411.99,272.27 412.28,272.35 412.57,272.4 412.86,272.42 413.15,272.43 413.44,272.43 413.74,272.44 414.03,272.45 414.32,272.45 414.61,272.46 414.9,272.46 415.19,272.47 415.48,272.47 415.77,272.48 416.06,272.48 416.35,272.49 416.65,272.49 416.94,272.5 417.23,272.5 417.52,272.51 417.81,272.51 418.1,272.51 418.39,272.52 418.68,272.52 418.97,272.53 419.26,272.53 419.56,272.54 419.85,272.54 420.14,272.55 420.43,272.55 420.72,272.56 421.01,272.56 421.3,272.56 421.59,272.57 421.88,272.57 422.17,272.58 422.47,272.58 422.76,272.59 423.05,272.59 423.34,272.59 423.63,272.6 423.92,272.6 424.21,272.61 424.5,272.61 424.79,272.61 425.08,272.62 425.38,272.62 425.67,272.62 425.96,272.63 426.25,272.63 426.54,272.64 426.83,272.64 427.12,272.64 427.41,272.65 427.7,272.65 427.99,272.65 428.29,272.66 428.58,272.66 428.87,272.66 429.16,272.65 429.45,272.65 429.74,272.63 430.03,272.59 430.32,272.52 430.61,272.4 430.9,272.21 431.2,271.91 431.49,271.47 431.78,270.84 432.07,269.99 432.36,268.9 432.65,267.59 432.94,266.1 433.23,264.57 433.52,263.19 433.81,262.24 434.11,262.24 434.4,263.2 434.69,264.59 434.98,266.12 435.27,267.61 435.56,268.94 435.85,270.03 436.14,270.89 436.43,271.52 436.72,271.97 437.02,272.27 437.31,272.47 437.6,272.59 437.89,272.67 438.18,272.71 438.47,272.74 438.76,272.76 439.05,272.76 439.34,272.77 439.63,272.77 439.93,272.78 440.22,272.78 440.51,272.78 440.8,272.79 441.09,272.79 441.38,272.79 441.67,272.79 441.96,272.8 442.25,272.8 442.54,272.8 442.84,272.8 443.13,272.81 443.42,272.81 443.71,272.81 444,272.81 444.29,272.82 444.58,272.82 444.87,272.82 445.16,272.82 445.45,272.82 445.75,272.83 446.04,272.83 446.33,272.83 446.62,272.83 446.91,272.83 447.2,272.84 447.49,272.84 447.78,272.84 448.07,272.84 448.36,272.84 448.66,272.85 448.95,272.85 449.24,272.84 449.53,272.84 449.82,272.82 450.11,272.8 450.4,272.76 450.69,272.71 450.98,272.63 451.27,272.54 451.57,272.44 451.86,272.33 452.15,272.24 452.44,272.18 452.73,272.16 453.02,272.19 453.31,272.25 453.6,272.34 453.89,272.45 454.18,272.56 454.48,272.65 454.77,272.73 455.06,272.79 455.35,272.83 455.64,272.86 455.93,272.88 456.22,272.89 456.51,272.89 456.8,272.9 457.09,272.9 457.39,272.9 457.68,272.9 457.97,272.9 458.26,272.9 458.55,272.9 458.84,272.9 459.13,272.89 459.42,272.87 459.71,272.83 460,272.76 460.3,272.63 460.59,272.42 460.88,272.06 461.17,271.48 461.46,270.58 461.75,269.22 462.04,267.21 462.33,264.36 462.62,260.45 462.91,255.28 463.21,248.74 463.5,240.82 463.79,231.73 464.08,221.94 464.37,212.23 464.66,203.74 464.95,197.97 465.24,197.97 465.53,203.74 465.82,212.24 466.12,221.95 466.41,231.74 466.7,240.83 466.99,248.76 467.28,255.3 467.57,260.47 467.86,264.39 468.15,267.24 468.44,269.25 468.73,270.62 469.03,271.52 469.32,272.1 469.61,272.46 469.9,272.67 470.19,272.8 470.48,272.88 470.77,272.92 471.06,272.94 471.35,272.95 471.64,272.96 471.94,272.96 472.23,272.97 472.52,272.97 472.81,272.97 473.1,272.97 473.39,272.97 473.68,272.97 473.97,272.97 474.26,272.98 474.55,272.98 474.85,272.98 475.14,272.98 475.43,272.98 475.72,272.98 476.01,272.98 476.3,272.98 476.59,272.98 476.88,272.98 477.17,272.98 477.46,272.99 477.76,272.99 478.05,272.99 478.34,272.99 478.63,272.99 478.92,272.99 479.21,272.99 479.5,272.99 479.79,272.99 480.08,272.99 480.37,272.99 480.67,272.99 480.96,273 481.25,272.99 481.54,272.99 481.83,272.99 482.12,272.99 482.41,272.98 482.7,272.97 482.99,272.94 483.28,272.9 483.58,272.84 483.87,272.73 484.16,272.58 484.45,272.34 484.74,271.99 485.03,271.48 485.32,270.76 485.61,269.78 485.9,268.46 486.19,266.72 486.49,264.52 486.78,261.79 487.07,258.54 487.36,254.79 487.65,250.64 487.94,246.28 488.23,241.97 488.52,238.08 488.81,235.09 489.1,233.67 489.4,235.09 489.69,238.09 489.98,241.97 490.27,246.28 490.56,250.65 490.85,254.8 491.14,258.55 491.43,261.8 491.72,264.53 492.01,266.74 492.31,268.47 492.6,269.8 492.89,270.78 493.18,271.5 493.47,272.01 493.76,272.36 494.05,272.6 494.34,272.76 494.63,272.86 494.92,272.93 495.22,272.97 495.51,272.99 495.8,273.01 496.09,273.02 496.38,273.03 496.67,273.03 496.96,273.03 497.25,273.03 497.54,273.03 497.83,273.03 498.13,273.03 498.42,273.02 498.71,273.01 499,272.99 499.29,272.97 499.58,272.94 499.87,272.91 500.16,272.86 500.45,272.81 500.74,272.75 501.04,272.7 501.33,272.64 501.62,272.6 501.91,272.58 502.2,272.57 502.49,272.58 502.78,272.61 503.07,272.65 503.36,272.7 503.65,272.76 503.95,272.81 504.24,272.87 504.53,272.91 504.82,272.95 505.11,272.98 505.4,273 505.69,273.02 505.98,273.03 506.27,273.04 506.56,273.04 506.86,273.05 507.15,273.05 507.44,273.05 507.73,273.05 508.02,273.05 508.31,273.05 508.6,273.05 508.89,273.05 509.18,273.05 509.47,273.05" fill="none" stroke="#cc325c" stroke-width="1.15" stroke-linejoin="round"/>
<polyline points="385.8,270.49 386.09,270.5 386.38,270.5 386.67,270.5 386.96,270.47 387.25,270.41 387.55,270.32 387.84,270.17 388.13,269.97 388.42,269.75 388.71,269.52 389,269.34 389.29,269.24 389.58,269.25 389.87,269.37 390.16,269.58 390.46,269.83 390.75,270.08 391.04,270.3 391.33,270.47 391.62,270.6 391.91,270.68 392.2,270.72 392.49,270.76 392.78,270.78 393.07,270.79 393.37,270.8 393.66,270.82 393.95,270.83 394.24,270.84 394.53,270.85 394.82,270.86 395.11,270.87 395.4,270.88 395.69,270.89 395.98,270.9 396.28,270.91 396.57,270.92 396.86,270.93 397.15,270.94 397.44,270.95 397.73,270.96 398.02,270.97 398.31,270.98 398.6,270.98 398.89,270.99 399.19,271 399.48,271.01 399.77,271.01 400.06,271 400.35,270.99 400.64,270.95 400.93,270.9 401.22,270.81 401.51,270.69 401.8,270.54 402.1,270.37 402.39,270.21 402.68,270.06 402.97,269.97 403.26,269.94 403.55,269.99 403.84,270.1 404.13,270.26 404.42,270.44 404.71,270.62 405.01,270.79 405.3,270.92 405.59,271.03 405.88,271.1 406.17,271.15 406.46,271.17 406.75,271.18 407.04,271.16 407.33,271.11 407.62,271 407.92,270.83 408.21,270.57 408.5,270.23 408.79,269.83 409.08,269.44 409.37,269.12 409.66,268.95 409.95,268.95 410.24,269.14 410.53,269.48 410.83,269.88 411.12,270.29 411.41,270.64 411.7,270.92 411.99,271.11 412.28,271.23 412.57,271.3 412.86,271.34 413.15,271.36 413.44,271.37 413.74,271.38 414.03,271.39 414.32,271.39 414.61,271.4 414.9,271.41 415.19,271.41 415.48,271.42 415.77,271.42 416.06,271.43 416.35,271.44 416.65,271.44 416.94,271.45 417.23,271.45 417.52,271.46 417.81,271.46 418.1,271.47 418.39,271.47 418.68,271.48 418.97,271.49 419.26,271.49 419.56,271.5 419.85,271.5 420.14,271.51 420.43,271.51 420.72,271.52 421.01,271.52 421.3,271.53 421.59,271.53 421.88,271.54 422.17,271.54 422.47,271.55 422.76,271.55 423.05,271.56 423.34,271.56 423.63,271.57 423.92,271.57 424.21,271.57 424.5,271.58 424.79,271.58 425.08,271.59 425.38,271.59 425.67,271.6 425.96,271.6 426.25,271.61 426.54,271.61 426.83,271.61 427.12,271.62 427.41,271.62 427.7,271.63 427.99,271.63 428.29,271.63 428.58,271.63 428.87,271.62 429.16,271.6 429.45,271.55 429.74,271.47 430.03,271.32 430.32,271.06 430.61,270.63 430.9,269.96 431.2,268.94 431.49,267.47 431.78,265.42 432.07,262.73 432.36,259.37 432.65,255.44 432.94,251.2 433.23,247.08 433.52,243.72 433.81,242.08 434.11,243.73 434.4,247.09 434.69,251.22 434.98,255.47 435.27,259.41 435.56,262.77 435.85,265.47 436.14,267.52 436.43,269.01 436.72,270.03 437.02,270.71 437.31,271.14 437.6,271.41 437.89,271.57 438.18,271.66 438.47,271.71 438.76,271.74 439.05,271.76 439.34,271.77 439.63,271.77 439.93,271.78 440.22,271.78 440.51,271.78 440.8,271.79 441.09,271.79 441.38,271.79 441.67,271.79 441.96,271.8 442.25,271.8 442.54,271.8 442.84,271.81 443.13,271.81 443.42,271.81 443.71,271.81 444,271.82 444.29,271.82 444.58,271.82 444.87,271.82 445.16,271.83 445.45,271.83 445.75,271.83 446.04,271.84 446.33,271.84 446.62,271.84 446.91,271.84 447.2,271.85 447.49,271.85 447.78,271.85 448.07,271.85 448.36,271.85 448.66,271.86 448.95,271.86 449.24,271.85 449.53,271.85 449.82,271.84 450.11,271.81 450.4,271.77 450.69,271.72 450.98,271.64 451.27,271.55 451.57,271.45 451.86,271.35 452.15,271.26 452.44,271.2 452.73,271.18 453.02,271.2 453.31,271.27 453.6,271.36 453.89,271.47 454.18,271.57 454.48,271.67 454.77,271.75 455.06,271.81 455.35,271.85 455.64,271.88 455.93,271.89 456.22,271.9 456.51,271.91 456.8,271.91 457.09,271.91 457.39,271.91 457.68,271.91 457.97,271.9 458.26,271.88 458.55,271.85 458.84,271.8 459.13,271.72 459.42,271.59 459.71,271.39 460,271.09 460.3,270.65 460.59,270 460.88,269.08 461.17,267.79 461.46,266.04 461.75,263.7 462.04,260.67 462.33,256.82 462.62,252.07 462.91,246.4 463.21,239.83 463.5,232.51 463.79,224.7 464.08,216.8 464.37,209.38 464.66,203.15 464.95,199.03 465.24,199.04 465.53,203.15 465.82,209.39 466.12,216.82 466.41,224.71 466.7,232.53 466.99,239.85 467.28,246.42 467.57,252.1 467.86,256.85 468.15,260.7 468.44,263.74 468.73,266.08 469.03,267.84 469.32,269.12 469.61,270.05 469.9,270.7 470.19,271.15 470.48,271.45 470.77,271.65 471.06,271.78 471.35,271.86 471.64,271.92 471.94,271.95 472.23,271.97 472.52,271.98 472.81,271.99 473.1,272 473.39,272 473.68,272 473.97,272 474.26,272.01 474.55,272.01 474.85,272.01 475.14,272.01 475.43,272.01 475.72,272.01 476.01,272.01 476.3,272.01 476.59,272.02 476.88,272.02 477.17,272.02 477.46,272.02 477.76,272.02 478.05,272.02 478.34,272.02 478.63,272.02 478.92,272.02 479.21,272.02 479.5,272.03 479.79,272.03 480.08,272.03 480.37,272.03 480.67,272.03 480.96,272.03 481.25,272.03 481.54,272.03 481.83,272.03 482.12,272.03 482.41,272.02 482.7,272.01 482.99,272 483.28,271.98 483.58,271.94 483.87,271.88 484.16,271.78 484.45,271.64 484.74,271.43 485.03,271.12 485.32,270.69 485.61,270.1 485.9,269.3 486.19,268.26 486.49,266.93 486.78,265.29 487.07,263.33 487.36,261.07 487.65,258.57 487.94,255.94 488.23,253.35 488.52,251.01 488.81,249.21 489.1,248.36 489.4,249.21 489.69,251.01 489.98,253.36 490.27,255.95 490.56,258.58 490.85,261.08 491.14,263.34 491.43,265.3 491.72,266.95 492.01,268.27 492.31,269.32 492.6,270.12 492.89,270.71 493.18,271.15 493.47,271.45 493.76,271.66 494.05,271.81 494.34,271.91 494.63,271.97 494.92,272.01 495.22,272.03 495.51,272.05 495.8,272.06 496.09,272.06 496.38,272.07 496.67,272.07 496.96,272.07 497.25,272.07 497.54,272.07 497.83,272.07 498.13,272.07 498.42,272.06 498.71,272.05 499,272.04 499.29,272.01 499.58,271.99 499.87,271.95 500.16,271.9 500.45,271.85 500.74,271.79 501.04,271.74 501.33,271.69 501.62,271.65 501.91,271.62 502.2,271.61 502.49,271.62 502.78,271.65 503.07,271.69 503.36,271.74 503.65,271.8 503.95,271.86 504.24,271.91 504.53,271.96 504.82,272 505.11,272.03 505.4,272.05 505.69,272.06 505.98,272.07 506.27,272.08 506.56,272.09 506.86,272.09 507.15,272.09 507.44,272.09 507.73,272.09 508.02,272.09 508.31,272.09 508.6,272.1 508.89,272.1 509.18,272.1 509.47,272.1" fill="none" stroke="#88cb72" stroke-width="1.15" stroke-linejoin="round"/>
<line x1="385.8" y1="186.9" x2="385.8" y2="276.4" stroke="#1a1a1a" stroke-width="1.25" />
<line x1="385.2" y1="275.8" x2="512.38" y2="275.8" stroke="#1a1a1a" stroke-width="1.25" />
<line x1="382.8" y1="273.1" x2="385.8" y2="273.1" stroke="#1a1a1a" stroke-width="1" />
<text x="379.6" y="276.1" font-size="8.7" text-anchor="end" fill="#1a1a1a" font-weight="normal" font-style="normal" textLength="4.45" lengthAdjust="spacingAndGlyphs" stroke="#1a1a1a" stroke-width="0.15" >0</text>
<line x1="382.8" y1="249.4" x2="385.8" y2="249.4" stroke="#1a1a1a" stroke-width="1" />
<text x="379.6" y="252.4" font-size="8.7" text-anchor="end" fill="#1a1a1a" font-weight="normal" font-style="normal" textLength="8.9" lengthAdjust="spacingAndGlyphs" stroke="#1a1a1a" stroke-width="0.15" >10</text>
<line x1="382.8" y1="225.7" x2="385.8" y2="225.7" stroke="#1a1a1a" stroke-width="1" />
<text x="379.6" y="228.7" font-size="8.7" text-anchor="end" fill="#1a1a1a" font-weight="normal" font-style="normal" textLength="8.9" lengthAdjust="spacingAndGlyphs" stroke="#1a1a1a" stroke-width="0.15" >20</text>
<line x1="382.8" y1="202" x2="385.8" y2="202" stroke="#1a1a1a" stroke-width="1" />
<text x="379.6" y="205" font-size="8.7" text-anchor="end" fill="#1a1a1a" font-weight="normal" font-style="normal" textLength="8.9" lengthAdjust="spacingAndGlyphs" stroke="#1a1a1a" stroke-width="0.15" >30</text>
<line x1="384.2" y1="261.25" x2="385.8" y2="261.25" stroke="#1a1a1a" stroke-width="0.9" />
<line x1="384.2" y1="237.55" x2="385.8" y2="237.55" stroke="#1a1a1a" stroke-width="0.9" />
<line x1="384.2" y1="213.85" x2="385.8" y2="213.85" stroke="#1a1a1a" stroke-width="0.9" />
<line x1="384.2" y1="190.15" x2="385.8" y2="190.15" stroke="#1a1a1a" stroke-width="0.9" />
<line x1="385.8" y1="275.8" x2="385.8" y2="278.8" stroke="#1a1a1a" stroke-width="1" />
<text x="385.8" y="289.2" font-size="8.7" text-anchor="middle" fill="#1a1a1a" font-weight="normal" font-style="normal" textLength="4.45" lengthAdjust="spacingAndGlyphs" stroke="#1a1a1a" stroke-width="0.15" >4</text>
<line x1="400.35" y1="275.8" x2="400.35" y2="278.8" stroke="#1a1a1a" stroke-width="1" />
<text x="400.35" y="289.2" font-size="8.7" text-anchor="middle" fill="#1a1a1a" font-weight="normal" font-style="normal" textLength="4.45" lengthAdjust="spacingAndGlyphs" stroke="#1a1a1a" stroke-width="0.15" >5</text>
<line x1="414.9" y1="275.8" x2="414.9" y2="278.8" stroke="#1a1a1a" stroke-width="1" />
<text x="414.9" y="289.2" font-size="8.7" text-anchor="middle" fill="#1a1a1a" font-weight="normal" font-style="normal" textLength="4.45" lengthAdjust="spacingAndGlyphs" stroke="#1a1a1a" stroke-width="0.15" >6</text>
<line x1="429.45" y1="275.8" x2="429.45" y2="278.8" stroke="#1a1a1a" stroke-width="1" />
<text x="429.45" y="289.2" font-size="8.7" text-anchor="middle" fill="#1a1a1a" font-weight="normal" font-style="normal" textLength="4.45" lengthAdjust="spacingAndGlyphs" stroke="#1a1a1a" stroke-width="0.15" >7</text>
<line x1="444" y1="275.8" x2="444" y2="278.8" stroke="#1a1a1a" stroke-width="1" />
<text x="444" y="289.2" font-size="8.7" text-anchor="middle" fill="#1a1a1a" font-weight="normal" font-style="normal" textLength="4.45" lengthAdjust="spacingAndGlyphs" stroke="#1a1a1a" stroke-width="0.15" >8</text>
<line x1="458.55" y1="275.8" x2="458.55" y2="278.8" stroke="#1a1a1a" stroke-width="1" />
<text x="458.55" y="289.2" font-size="8.7" text-anchor="middle" fill="#1a1a1a" font-weight="normal" font-style="normal" textLength="4.45" lengthAdjust="spacingAndGlyphs" stroke="#1a1a1a" stroke-width="0.15" >9</text>
<line x1="473.1" y1="275.8" x2="473.1" y2="278.8" stroke="#1a1a1a" stroke-width="1" />
<text x="473.1" y="289.2" font-size="8.7" text-anchor="middle" fill="#1a1a1a" font-weight="normal" font-style="normal" textLength="8.9" lengthAdjust="spacingAndGlyphs" stroke="#1a1a1a" stroke-width="0.15" >10</text>
<line x1="487.65" y1="275.8" x2="487.65" y2="278.8" stroke="#1a1a1a" stroke-width="1" />
<text x="487.65" y="289.2" font-size="8.7" text-anchor="middle" fill="#1a1a1a" font-weight="normal" font-style="normal" textLength="8.9" lengthAdjust="spacingAndGlyphs" stroke="#1a1a1a" stroke-width="0.15" >11</text>
<line x1="502.2" y1="275.8" x2="502.2" y2="278.8" stroke="#1a1a1a" stroke-width="1" />
<text x="502.2" y="289.2" font-size="8.7" text-anchor="middle" fill="#1a1a1a" font-weight="normal" font-style="normal" textLength="8.9" lengthAdjust="spacingAndGlyphs" stroke="#1a1a1a" stroke-width="0.15" >12</text>
<line x1="393.07" y1="275.8" x2="393.07" y2="277.4" stroke="#1a1a1a" stroke-width="0.9" />
<line x1="407.62" y1="275.8" x2="407.62" y2="277.4" stroke="#1a1a1a" stroke-width="0.9" />
<line x1="422.17" y1="275.8" x2="422.17" y2="277.4" stroke="#1a1a1a" stroke-width="0.9" />
<line x1="436.72" y1="275.8" x2="436.72" y2="277.4" stroke="#1a1a1a" stroke-width="0.9" />
<line x1="451.27" y1="275.8" x2="451.27" y2="277.4" stroke="#1a1a1a" stroke-width="0.9" />
<line x1="465.82" y1="275.8" x2="465.82" y2="277.4" stroke="#1a1a1a" stroke-width="0.9" />
<line x1="480.37" y1="275.8" x2="480.37" y2="277.4" stroke="#1a1a1a" stroke-width="0.9" />
<line x1="494.92" y1="275.8" x2="494.92" y2="277.4" stroke="#1a1a1a" stroke-width="0.9" />
<line x1="509.47" y1="275.8" x2="509.47" y2="277.4" stroke="#1a1a1a" stroke-width="0.9" />
<text x="430.2" y="302.7" font-size="10" text-anchor="start" fill="#1a1a1a" font-weight="normal" font-style="normal" textLength="38.3" lengthAdjust="spacingAndGlyphs" stroke="#1a1a1a" stroke-width="0.3" >Time (min)</text>
<g transform="translate(365 230.8) rotate(-90)">
<text x="0" y="0" font-size="10" text-anchor="middle" fill="#1a1a1a" font-weight="normal" font-style="normal" textLength="23.2" lengthAdjust="spacingAndGlyphs" stroke="#1a1a1a" stroke-width="0.3" >mVolts</text>
</g>
<line x1="389.1" y1="189.4" x2="398.4" y2="189.4" stroke="#88cb72" stroke-width="1.2" />
<line x1="389.1" y1="201.2" x2="398.4" y2="201.2" stroke="#cc325c" stroke-width="1.2" />
<text x="401.6" y="192.1" font-size="8.4" text-anchor="start" fill="#1a1a1a" font-weight="normal" font-style="normal" textLength="26" lengthAdjust="spacingAndGlyphs" stroke="#1a1a1a" stroke-width="0.1" >Control</text>
<text x="401.6" y="203.4" font-size="8.4" text-anchor="start" fill="#1a1a1a" font-weight="normal" font-style="normal" textLength="41" lengthAdjust="spacingAndGlyphs" stroke="#1a1a1a" stroke-width="0.1" >Clofazimine</text>
<text x="448.9" y="192.3" font-size="8.4" text-anchor="start" fill="#1a1a1a" font-weight="normal" font-style="normal" textLength="31.5" lengthAdjust="spacingAndGlyphs" stroke="#1a1a1a" stroke-width="0.1" >Standard</text>
<text x="428.5" y="235.2" font-size="8.4" text-anchor="start" fill="#c4214a" font-weight="normal" font-style="normal" textLength="11.5" lengthAdjust="spacingAndGlyphs" stroke="#c4214a" stroke-width="0.1" >KO</text>
<text x="486.7" y="227.5" font-size="8.4" text-anchor="start" fill="#1a1a1a" font-weight="normal" font-style="normal" textLength="4.7" lengthAdjust="spacingAndGlyphs" stroke="#1a1a1a" stroke-width="0.1" >K</text>
<text x="183.6" y="325" font-size="12.5" text-anchor="start" fill="#000" font-weight="bold" font-style="normal" >H</text>
<rect x="309.23" y="340.8" width="13.09" height="89.5" fill="#ececf1"/>
<line x1="309.23" y1="340.8" x2="309.23" y2="430.3" stroke="#777" stroke-width="0.8" stroke-dasharray="1 1"/>
<line x1="322.32" y1="340.8" x2="322.32" y2="430.3" stroke="#777" stroke-width="0.8" stroke-dasharray="1 1"/>
<polyline points="213.2,427.48 213.49,427.48 213.78,427.48 214.07,427.48 214.36,427.48 214.65,427.48 214.95,427.48 215.24,427.48 215.53,427.48 215.82,427.48 216.11,427.48 216.4,427.48 216.69,427.48 216.98,427.48 217.27,427.48 217.56,427.48 217.86,427.48 218.15,427.48 218.44,427.48 218.73,427.47 219.02,427.45 219.31,427.41 219.6,427.32 219.89,427.17 220.18,426.94 220.47,426.64 220.77,426.31 221.06,426.02 221.35,425.85 221.64,425.85 221.93,426.02 222.22,426.31 222.51,426.64 222.8,426.94 223.09,427.17 223.38,427.32 223.68,427.41 223.97,427.45 224.26,427.47 224.55,427.48 224.84,427.48 225.13,427.48 225.42,427.48 225.71,427.48 226,427.47 226.29,427.46 226.59,427.43 226.88,427.38 227.17,427.29 227.46,427.15 227.75,426.97 228.04,426.74 228.33,426.5 228.62,426.27 228.91,426.12 229.2,426.06 229.5,426.12 229.79,426.27 230.08,426.5 230.37,426.74 230.66,426.97 230.95,427.15 231.24,427.29 231.53,427.38 231.82,427.43 232.11,427.46 232.41,427.47 232.7,427.48 232.99,427.48 233.28,427.48 233.57,427.48 233.86,427.48 234.15,427.48 234.44,427.48 234.73,427.48 235.02,427.48 235.32,427.48 235.61,427.48 235.9,427.48 236.19,427.48 236.48,427.48 236.77,427.48 237.06,427.48 237.35,427.48 237.64,427.48 237.93,427.48 238.23,427.48 238.52,427.48 238.81,427.48 239.1,427.48 239.39,427.48 239.68,427.48 239.97,427.48 240.26,427.48 240.55,427.48 240.84,427.48 241.14,427.48 241.43,427.48 241.72,427.48 242.01,427.48 242.3,427.48 242.59,427.48 242.88,427.48 243.17,427.48 243.46,427.48 243.75,427.48 244.05,427.48 244.34,427.48 244.63,427.48 244.92,427.48 245.21,427.48 245.5,427.48 245.79,427.48 246.08,427.48 246.37,427.48 246.66,427.48 246.96,427.48 247.25,427.48 247.54,427.48 247.83,427.48 248.12,427.48 248.41,427.48 248.7,427.48 248.99,427.48 249.28,427.48 249.57,427.48 249.87,427.48 250.16,427.48 250.45,427.48 250.74,427.48 251.03,427.48 251.32,427.48 251.61,427.48 251.9,427.48 252.19,427.48 252.48,427.48 252.78,427.48 253.07,427.48 253.36,427.48 253.65,427.48 253.94,427.48 254.23,427.48 254.52,427.48 254.81,427.48 255.1,427.48 255.39,427.48 255.69,427.48 255.98,427.48 256.27,427.47 256.56,427.46 256.85,427.44 257.14,427.41 257.43,427.35 257.72,427.26 258.01,427.12 258.3,426.9 258.6,426.59 258.89,426.15 259.18,425.58 259.47,424.87 259.76,424.04 260.05,423.14 260.34,422.26 260.63,421.55 260.92,421.2 261.21,421.55 261.51,422.26 261.8,423.14 262.09,424.04 262.38,424.87 262.67,425.58 262.96,426.15 263.25,426.59 263.54,426.9 263.83,427.12 264.12,427.26 264.42,427.35 264.71,427.41 265,427.44 265.29,427.46 265.58,427.47 265.87,427.48 266.16,427.48 266.45,427.48 266.74,427.48 267.03,427.48 267.33,427.48 267.62,427.48 267.91,427.48 268.2,427.48 268.49,427.48 268.78,427.48 269.07,427.48 269.36,427.48 269.65,427.48 269.94,427.48 270.24,427.48 270.53,427.48 270.82,427.48 271.11,427.48 271.4,427.48 271.69,427.48 271.98,427.48 272.27,427.48 272.56,427.48 272.85,427.48 273.15,427.48 273.44,427.48 273.73,427.48 274.02,427.48 274.31,427.48 274.6,427.48 274.89,427.48 275.18,427.47 275.47,427.45 275.76,427.43 276.06,427.39 276.35,427.32 276.64,427.23 276.93,427.1 277.22,426.94 277.51,426.76 277.8,426.59 278.09,426.44 278.38,426.33 278.67,426.3 278.97,426.33 279.26,426.44 279.55,426.59 279.84,426.76 280.13,426.94 280.42,427.1 280.71,427.23 281,427.32 281.29,427.39 281.58,427.43 281.88,427.45 282.17,427.47 282.46,427.48 282.75,427.48 283.04,427.48 283.33,427.48 283.62,427.48 283.91,427.48 284.2,427.48 284.49,427.48 284.79,427.48 285.08,427.48 285.37,427.48 285.66,427.48 285.95,427.48 286.24,427.48 286.53,427.48 286.82,427.48 287.11,427.48 287.4,427.48 287.7,427.48 287.99,427.48 288.28,427.48 288.57,427.48 288.86,427.48 289.15,427.48 289.44,427.48 289.73,427.48 290.02,427.48 290.31,427.48 290.61,427.48 290.9,427.48 291.19,427.48 291.48,427.48 291.77,427.48 292.06,427.48 292.35,427.48 292.64,427.48 292.93,427.48 293.22,427.48 293.52,427.48 293.81,427.48 294.1,427.48 294.39,427.48 294.68,427.48 294.97,427.48 295.26,427.48 295.55,427.48 295.84,427.48 296.13,427.48 296.43,427.48 296.72,427.48 297.01,427.48 297.3,427.48 297.59,427.48 297.88,427.48 298.17,427.48 298.46,427.48 298.75,427.48 299.04,427.48 299.34,427.48 299.63,427.48 299.92,427.48 300.21,427.48 300.5,427.48 300.79,427.48 301.08,427.48 301.37,427.48 301.66,427.48 301.95,427.48 302.25,427.48 302.54,427.48 302.83,427.48 303.12,427.48 303.41,427.48 303.7,427.48 303.99,427.48 304.28,427.48 304.57,427.48 304.86,427.48 305.16,427.48 305.45,427.48 305.74,427.48 306.03,427.48 306.32,427.48 306.61,427.48 306.9,427.48 307.19,427.48 307.48,427.48 307.77,427.48 308.07,427.48 308.36,427.48 308.65,427.48 308.94,427.47 309.23,427.47 309.52,427.46 309.81,427.44 310.1,427.41 310.39,427.37 310.68,427.3 310.98,427.21 311.27,427.06 311.56,426.86 311.85,426.58 312.14,426.2 312.43,425.69 312.72,425.03 313.01,424.21 313.3,423.21 313.59,422.03 313.89,420.71 314.18,419.28 314.47,417.81 314.76,416.43 315.05,415.25 315.34,414.48 315.63,414.48 315.92,415.25 316.21,416.43 316.5,417.81 316.8,419.28 317.09,420.71 317.38,422.03 317.67,423.21 317.96,424.21 318.25,425.03 318.54,425.69 318.83,426.2 319.12,426.58 319.41,426.86 319.71,427.06 320,427.21 320.29,427.3 320.58,427.37 320.87,427.41 321.16,427.44 321.45,427.46 321.74,427.47 322.03,427.47 322.32,427.48 322.62,427.48 322.91,427.48 323.2,427.48 323.49,427.48 323.78,427.48 324.07,427.48 324.36,427.48 324.65,427.48 324.94,427.48 325.23,427.48 325.53,427.48 325.82,427.48 326.11,427.48 326.4,427.48 326.69,427.48 326.98,427.48 327.27,427.48 327.56,427.48 327.85,427.48 328.14,427.48 328.44,427.48 328.73,427.48 329.02,427.48 329.31,427.48 329.6,427.48 329.89,427.48 330.18,427.48 330.47,427.48 330.76,427.48 331.05,427.48 331.35,427.48 331.64,427.48 331.93,427.48 332.22,427.48 332.51,427.48 332.8,427.48 333.09,427.48 333.38,427.48 333.67,427.48 333.96,427.48 334.26,427.48 334.55,427.48 334.84,427.48 335.13,427.48 335.42,427.48 335.71,427.48 336,427.48 336.29,427.48 336.58,427.48 336.87,427.48" fill="none" stroke="#cc325c" stroke-width="1.15" stroke-linejoin="round"/>
<polyline points="213.2,426.18 213.49,426.18 213.78,426.18 214.07,426.18 214.36,426.18 214.65,426.18 214.95,426.18 215.24,426.18 215.53,426.18 215.82,426.18 216.11,426.18 216.4,426.18 216.69,426.18 216.98,426.18 217.27,426.18 217.56,426.18 217.86,426.18 218.15,426.18 218.44,426.18 218.73,426.17 219.02,426.16 219.31,426.14 219.6,426.09 219.89,426 220.18,425.87 220.47,425.7 220.77,425.51 221.06,425.34 221.35,425.24 221.64,425.24 221.93,425.34 222.22,425.51 222.51,425.7 222.8,425.87 223.09,426 223.38,426.09 223.68,426.14 223.97,426.16 224.26,426.17 224.55,426.18 224.84,426.18 225.13,426.18 225.42,426.18 225.71,426.17 226,426.16 226.29,426.13 226.59,426.08 226.88,425.99 227.17,425.82 227.46,425.58 227.75,425.24 228.04,424.82 228.33,424.37 228.62,423.95 228.91,423.66 229.2,423.54 229.5,423.62 229.79,423.89 230.08,424.26 230.37,424.65 230.66,425.01 230.95,425.27 231.24,425.44 231.53,425.51 231.82,425.53 232.11,425.51 232.41,425.48 232.7,425.46 232.99,425.47 233.28,425.5 233.57,425.55 233.86,425.62 234.15,425.7 234.44,425.79 234.73,425.87 235.02,425.94 235.32,426.01 235.61,426.05 235.9,426.09 236.19,426.11 236.48,426.13 236.77,426.13 237.06,426.13 237.35,426.12 237.64,426.1 237.93,426.08 238.23,426.05 238.52,426.02 238.81,425.98 239.1,425.94 239.39,425.89 239.68,425.83 239.97,425.78 240.26,425.72 240.55,425.66 240.84,425.61 241.14,425.56 241.43,425.52 241.72,425.49 242.01,425.47 242.3,425.47 242.59,425.47 242.88,425.49 243.17,425.52 243.46,425.56 243.75,425.61 244.05,425.66 244.34,425.72 244.63,425.78 244.92,425.83 245.21,425.89 245.5,425.94 245.79,425.98 246.08,426.02 246.37,426.05 246.66,426.08 246.96,426.1 247.25,426.12 247.54,426.14 247.83,426.15 248.12,426.16 248.41,426.16 248.7,426.17 248.99,426.17 249.28,426.17 249.57,426.18 249.87,426.18 250.16,426.18 250.45,426.18 250.74,426.18 251.03,426.18 251.32,426.18 251.61,426.18 251.9,426.18 252.19,426.18 252.48,426.18 252.78,426.18 253.07,426.18 253.36,426.18 253.65,426.18 253.94,426.18 254.23,426.18 254.52,426.18 254.81,426.18 255.1,426.17 255.39,426.17 255.69,426.15 255.98,426.13 256.27,426.08 256.56,425.98 256.85,425.82 257.14,425.53 257.43,425.06 257.72,424.3 258.01,423.14 258.3,421.41 258.6,418.96 258.89,415.64 259.18,411.4 259.47,406.26 259.76,400.47 260.05,394.52 260.34,389.15 260.63,385.42 260.92,385.42 261.21,389.15 261.51,394.52 261.8,400.47 262.09,406.26 262.38,411.4 262.67,415.64 262.96,418.96 263.25,421.41 263.54,423.14 263.83,424.3 264.12,425.06 264.42,425.53 264.71,425.82 265,425.98 265.29,426.08 265.58,426.13 265.87,426.15 266.16,426.17 266.45,426.17 266.74,426.18 267.03,426.18 267.33,426.18 267.62,426.18 267.91,426.18 268.2,426.18 268.49,426.18 268.78,426.18 269.07,426.18 269.36,426.18 269.65,426.18 269.94,426.18 270.24,426.18 270.53,426.18 270.82,426.18 271.11,426.18 271.4,426.18 271.69,426.18 271.98,426.18 272.27,426.18 272.56,426.18 272.85,426.18 273.15,426.18 273.44,426.18 273.73,426.18 274.02,426.18 274.31,426.18 274.6,426.18 274.89,426.17 275.18,426.17 275.47,426.16 275.76,426.14 276.06,426.1 276.35,426.05 276.64,425.97 276.93,425.87 277.22,425.74 277.51,425.6 277.8,425.46 278.09,425.34 278.38,425.26 278.67,425.23 278.97,425.26 279.26,425.34 279.55,425.46 279.84,425.6 280.13,425.74 280.42,425.87 280.71,425.97 281,426.05 281.29,426.1 281.58,426.14 281.88,426.16 282.17,426.17 282.46,426.17 282.75,426.18 283.04,426.18 283.33,426.18 283.62,426.18 283.91,426.17 284.2,426.17 284.49,426.16 284.79,426.15 285.08,426.13 285.37,426.1 285.66,426.05 285.95,425.97 286.24,425.83 286.53,425.63 286.82,425.33 287.11,424.88 287.4,424.23 287.7,423.3 287.99,422 288.28,420.24 288.57,417.88 288.86,414.82 289.15,410.95 289.44,406.17 289.73,400.46 290.02,393.85 290.31,386.48 290.61,378.62 290.9,370.67 291.19,363.2 291.48,356.92 291.77,352.78 292.06,352.78 292.35,356.92 292.64,363.2 292.93,370.67 293.22,378.62 293.52,386.48 293.81,393.85 294.1,400.46 294.39,406.17 294.68,410.95 294.97,414.82 295.26,417.88 295.55,420.24 295.84,422 296.13,423.3 296.43,424.23 296.72,424.88 297.01,425.33 297.3,425.63 297.59,425.83 297.88,425.97 298.17,426.05 298.46,426.1 298.75,426.13 299.04,426.15 299.34,426.16 299.63,426.17 299.92,426.17 300.21,426.18 300.5,426.18 300.79,426.18 301.08,426.18 301.37,426.18 301.66,426.18 301.95,426.18 302.25,426.18 302.54,426.18 302.83,426.18 303.12,426.18 303.41,426.18 303.7,426.18 303.99,426.18 304.28,426.18 304.57,426.18 304.86,426.18 305.16,426.18 305.45,426.18 305.74,426.18 306.03,426.18 306.32,426.18 306.61,426.18 306.9,426.18 307.19,426.18 307.48,426.18 307.77,426.17 308.07,426.17 308.36,426.17 308.65,426.16 308.94,426.14 309.23,426.11 309.52,426.07 309.81,426 310.1,425.9 310.39,425.73 310.68,425.48 310.98,425.12 311.27,424.59 311.56,423.84 311.85,422.81 312.14,421.43 312.43,419.63 312.72,417.33 313.01,414.49 313.3,411.09 313.59,407.18 313.89,402.86 314.18,398.31 314.47,393.82 314.76,389.77 315.05,386.65 315.34,385.18 315.63,386.65 315.92,389.77 316.21,393.82 316.5,398.31 316.8,402.86 317.09,407.18 317.38,411.09 317.67,414.49 317.96,417.33 318.25,419.63 318.54,421.43 318.83,422.81 319.12,423.84 319.41,424.59 319.71,425.12 320,425.48 320.29,425.73 320.58,425.9 320.87,426 321.16,426.07 321.45,426.11 321.74,426.14 322.03,426.16 322.32,426.17 322.62,426.17 322.91,426.17 323.2,426.18 323.49,426.18 323.78,426.18 324.07,426.18 324.36,426.18 324.65,426.18 324.94,426.18 325.23,426.18 325.53,426.18 325.82,426.18 326.11,426.18 326.4,426.18 326.69,426.18 326.98,426.18 327.27,426.18 327.56,426.18 327.85,426.18 328.14,426.18 328.44,426.18 328.73,426.18 329.02,426.18 329.31,426.18 329.6,426.18 329.89,426.18 330.18,426.18 330.47,426.18 330.76,426.18 331.05,426.18 331.35,426.18 331.64,426.18 331.93,426.18 332.22,426.18 332.51,426.18 332.8,426.18 333.09,426.18 333.38,426.18 333.67,426.18 333.96,426.18 334.26,426.18 334.55,426.18 334.84,426.18 335.13,426.18 335.42,426.18 335.71,426.18 336,426.18 336.29,426.18 336.58,426.18 336.87,426.18" fill="none" stroke="#88cb72" stroke-width="1.15" stroke-linejoin="round"/>
<line x1="213.2" y1="341.4" x2="213.2" y2="430.9" stroke="#1a1a1a" stroke-width="1.25" />
<line x1="212.6" y1="430.3" x2="339.78" y2="430.3" stroke="#1a1a1a" stroke-width="1.25" />
<line x1="210.2" y1="427.6" x2="213.2" y2="427.6" stroke="#1a1a1a" stroke-width="1" />
<text x="207" y="430.6" font-size="8.7" text-anchor="end" fill="#1a1a1a" font-weight="normal" font-style="normal" textLength="4.45" lengthAdjust="spacingAndGlyphs" stroke="#1a1a1a" stroke-width="0.15" >0</text>
<line x1="210.2" y1="403.9" x2="213.2" y2="403.9" stroke="#1a1a1a" stroke-width="1" />
<text x="207" y="406.9" font-size="8.7" text-anchor="end" fill="#1a1a1a" font-weight="normal" font-style="normal" textLength="8.9" lengthAdjust="spacingAndGlyphs" stroke="#1a1a1a" stroke-width="0.15" >10</text>
<line x1="210.2" y1="380.2" x2="213.2" y2="380.2" stroke="#1a1a1a" stroke-width="1" />
<text x="207" y="383.2" font-size="8.7" text-anchor="end" fill="#1a1a1a" font-weight="normal" font-style="normal" textLength="8.9" lengthAdjust="spacingAndGlyphs" stroke="#1a1a1a" stroke-width="0.15" >20</text>
<line x1="210.2" y1="356.5" x2="213.2" y2="356.5" stroke="#1a1a1a" stroke-width="1" />
<text x="207" y="359.5" font-size="8.7" text-anchor="end" fill="#1a1a1a" font-weight="normal" font-style="normal" textLength="8.9" lengthAdjust="spacingAndGlyphs" stroke="#1a1a1a" stroke-width="0.15" >30</text>
<line x1="211.6" y1="415.75" x2="213.2" y2="415.75" stroke="#1a1a1a" stroke-width="0.9" />
<line x1="211.6" y1="392.05" x2="213.2" y2="392.05" stroke="#1a1a1a" stroke-width="0.9" />
<line x1="211.6" y1="368.35" x2="213.2" y2="368.35" stroke="#1a1a1a" stroke-width="0.9" />
<line x1="211.6" y1="344.65" x2="213.2" y2="344.65" stroke="#1a1a1a" stroke-width="0.9" />
<line x1="213.2" y1="430.3" x2="213.2" y2="433.3" stroke="#1a1a1a" stroke-width="1" />
<text x="213.2" y="443.7" font-size="8.7" text-anchor="middle" fill="#1a1a1a" font-weight="normal" font-style="normal" textLength="4.45" lengthAdjust="spacingAndGlyphs" stroke="#1a1a1a" stroke-width="0.15" >4</text>
<line x1="227.75" y1="430.3" x2="227.75" y2="433.3" stroke="#1a1a1a" stroke-width="1" />
<text x="227.75" y="443.7" font-size="8.7" text-anchor="middle" fill="#1a1a1a" font-weight="normal" font-style="normal" textLength="4.45" lengthAdjust="spacingAndGlyphs" stroke="#1a1a1a" stroke-width="0.15" >5</text>
<line x1="242.3" y1="430.3" x2="242.3" y2="433.3" stroke="#1a1a1a" stroke-width="1" />
<text x="242.3" y="443.7" font-size="8.7" text-anchor="middle" fill="#1a1a1a" font-weight="normal" font-style="normal" textLength="4.45" lengthAdjust="spacingAndGlyphs" stroke="#1a1a1a" stroke-width="0.15" >6</text>
<line x1="256.85" y1="430.3" x2="256.85" y2="433.3" stroke="#1a1a1a" stroke-width="1" />
<text x="256.85" y="443.7" font-size="8.7" text-anchor="middle" fill="#1a1a1a" font-weight="normal" font-style="normal" textLength="4.45" lengthAdjust="spacingAndGlyphs" stroke="#1a1a1a" stroke-width="0.15" >7</text>
<line x1="271.4" y1="430.3" x2="271.4" y2="433.3" stroke="#1a1a1a" stroke-width="1" />
<text x="271.4" y="443.7" font-size="8.7" text-anchor="middle" fill="#1a1a1a" font-weight="normal" font-style="normal" textLength="4.45" lengthAdjust="spacingAndGlyphs" stroke="#1a1a1a" stroke-width="0.15" >8</text>
<line x1="285.95" y1="430.3" x2="285.95" y2="433.3" stroke="#1a1a1a" stroke-width="1" />
<text x="285.95" y="443.7" font-size="8.7" text-anchor="middle" fill="#1a1a1a" font-weight="normal" font-style="normal" textLength="4.45" lengthAdjust="spacingAndGlyphs" stroke="#1a1a1a" stroke-width="0.15" >9</text>
<line x1="300.5" y1="430.3" x2="300.5" y2="433.3" stroke="#1a1a1a" stroke-width="1" />
<text x="300.5" y="443.7" font-size="8.7" text-anchor="middle" fill="#1a1a1a" font-weight="normal" font-style="normal" textLength="8.9" lengthAdjust="spacingAndGlyphs" stroke="#1a1a1a" stroke-width="0.15" >10</text>
<line x1="315.05" y1="430.3" x2="315.05" y2="433.3" stroke="#1a1a1a" stroke-width="1" />
<text x="315.05" y="443.7" font-size="8.7" text-anchor="middle" fill="#1a1a1a" font-weight="normal" font-style="normal" textLength="8.9" lengthAdjust="spacingAndGlyphs" stroke="#1a1a1a" stroke-width="0.15" >11</text>
<line x1="329.6" y1="430.3" x2="329.6" y2="433.3" stroke="#1a1a1a" stroke-width="1" />
<text x="329.6" y="443.7" font-size="8.7" text-anchor="middle" fill="#1a1a1a" font-weight="normal" font-style="normal" textLength="8.9" lengthAdjust="spacingAndGlyphs" stroke="#1a1a1a" stroke-width="0.15" >12</text>
<line x1="220.47" y1="430.3" x2="220.47" y2="431.9" stroke="#1a1a1a" stroke-width="0.9" />
<line x1="235.02" y1="430.3" x2="235.02" y2="431.9" stroke="#1a1a1a" stroke-width="0.9" />
<line x1="249.57" y1="430.3" x2="249.57" y2="431.9" stroke="#1a1a1a" stroke-width="0.9" />
<line x1="264.12" y1="430.3" x2="264.12" y2="431.9" stroke="#1a1a1a" stroke-width="0.9" />
<line x1="278.68" y1="430.3" x2="278.68" y2="431.9" stroke="#1a1a1a" stroke-width="0.9" />
<line x1="293.23" y1="430.3" x2="293.23" y2="431.9" stroke="#1a1a1a" stroke-width="0.9" />
<line x1="307.77" y1="430.3" x2="307.77" y2="431.9" stroke="#1a1a1a" stroke-width="0.9" />
<line x1="322.32" y1="430.3" x2="322.32" y2="431.9" stroke="#1a1a1a" stroke-width="0.9" />
<line x1="336.88" y1="430.3" x2="336.88" y2="431.9" stroke="#1a1a1a" stroke-width="0.9" />
<text x="257.6" y="457.2" font-size="10" text-anchor="start" fill="#1a1a1a" font-weight="normal" font-style="normal" textLength="38.3" lengthAdjust="spacingAndGlyphs" stroke="#1a1a1a" stroke-width="0.3" >Time (min)</text>
<g transform="translate(192.4 385.3) rotate(-90)">
<text x="0" y="0" font-size="10" text-anchor="middle" fill="#1a1a1a" font-weight="normal" font-style="normal" textLength="23.2" lengthAdjust="spacingAndGlyphs" stroke="#1a1a1a" stroke-width="0.3" >mVolts</text>
</g>
<line x1="216.5" y1="343.9" x2="225.8" y2="343.9" stroke="#88cb72" stroke-width="1.2" />
<line x1="216.5" y1="355.7" x2="225.8" y2="355.7" stroke="#cc325c" stroke-width="1.2" />
<text x="229" y="346.6" font-size="8.4" text-anchor="start" fill="#1a1a1a" font-weight="normal" font-style="normal" textLength="26" lengthAdjust="spacingAndGlyphs" stroke="#1a1a1a" stroke-width="0.1" >Control</text>
<text x="229" y="357.9" font-size="8.4" text-anchor="start" fill="#1a1a1a" font-weight="normal" font-style="normal" textLength="43.3" lengthAdjust="spacingAndGlyphs" stroke="#1a1a1a" stroke-width="0.1" >Itraconazole</text>
<text x="276.5" y="347.8" font-size="8.4" text-anchor="start" fill="#1a1a1a" font-weight="normal" font-style="normal" textLength="31.5" lengthAdjust="spacingAndGlyphs" stroke="#1a1a1a" stroke-width="0.1" >Standard</text>
<text x="257.8" y="377.8" font-size="8.4" text-anchor="start" fill="#1a1a1a" font-weight="normal" font-style="normal" textLength="10.7" lengthAdjust="spacingAndGlyphs" stroke="#1a1a1a" stroke-width="0.1" >KO</text>
<text x="313.5" y="378.1" font-size="8.4" text-anchor="start" fill="#c4214a" font-weight="normal" font-style="normal" textLength="4.6" lengthAdjust="spacingAndGlyphs" stroke="#c4214a" stroke-width="0.1" >K</text>
<text x="356.2" y="325" font-size="12.5" text-anchor="start" fill="#000" font-weight="bold" font-style="normal" >I</text>
<rect x="427.12" y="340.8" width="13.24" height="89.5" fill="#ececf1"/>
<line x1="427.12" y1="340.8" x2="427.12" y2="430.3" stroke="#777" stroke-width="0.8" stroke-dasharray="1 1"/>
<line x1="440.36" y1="340.8" x2="440.36" y2="430.3" stroke="#777" stroke-width="0.8" stroke-dasharray="1 1"/>
<polyline points="385.8,426.18 386.09,426.18 386.38,426.19 386.67,426.18 386.96,426.16 387.25,426.11 387.55,426.03 387.84,425.91 388.13,425.75 388.42,425.56 388.71,425.37 389,425.22 389.29,425.14 389.58,425.15 389.87,425.25 390.16,425.42 390.46,425.63 390.75,425.84 391.04,426.02 391.33,426.17 391.62,426.27 391.91,426.34 392.2,426.38 392.49,426.4 392.78,426.42 393.07,426.43 393.37,426.44 393.66,426.45 393.95,426.46 394.24,426.47 394.53,426.48 394.82,426.49 395.11,426.5 395.4,426.51 395.69,426.52 395.98,426.53 396.28,426.53 396.57,426.54 396.86,426.55 397.15,426.56 397.44,426.57 397.73,426.58 398.02,426.58 398.31,426.59 398.6,426.6 398.89,426.61 399.19,426.61 399.48,426.62 399.77,426.62 400.06,426.61 400.35,426.59 400.64,426.56 400.93,426.5 401.22,426.41 401.51,426.29 401.8,426.14 402.1,425.97 402.39,425.8 402.68,425.66 402.97,425.56 403.26,425.54 403.55,425.58 403.84,425.69 404.13,425.85 404.42,426.03 404.71,426.21 405.01,426.38 405.3,426.51 405.59,426.61 405.88,426.68 406.17,426.73 406.46,426.75 406.75,426.75 407.04,426.72 407.33,426.64 407.62,426.48 407.92,426.23 408.21,425.87 408.5,425.39 408.79,424.83 409.08,424.28 409.37,423.83 409.66,423.58 409.95,423.58 410.24,423.85 410.53,424.31 410.83,424.87 411.12,425.44 411.41,425.93 411.7,426.31 411.99,426.57 412.28,426.74 412.57,426.84 412.86,426.89 413.15,426.91 413.44,426.93 413.74,426.94 414.03,426.94 414.32,426.95 414.61,426.96 414.9,426.96 415.19,426.97 415.48,426.97 415.77,426.98 416.06,426.98 416.35,426.99 416.65,426.99 416.94,427 417.23,427 417.52,427.01 417.81,427.01 418.1,427.01 418.39,427.02 418.68,427.02 418.97,427.03 419.26,427.03 419.56,427.04 419.85,427.04 420.14,427.05 420.43,427.05 420.72,427.06 421.01,427.06 421.3,427.06 421.59,427.07 421.88,427.07 422.17,427.08 422.47,427.08 422.76,427.09 423.05,427.09 423.34,427.09 423.63,427.1 423.92,427.1 424.21,427.11 424.5,427.11 424.79,427.11 425.08,427.12 425.38,427.12 425.67,427.12 425.96,427.13 426.25,427.13 426.54,427.14 426.83,427.14 427.12,427.14 427.41,427.15 427.7,427.15 427.99,427.15 428.29,427.16 428.58,427.16 428.87,427.16 429.16,427.16 429.45,427.16 429.74,427.15 430.03,427.14 430.32,427.11 430.61,427.06 430.9,426.99 431.2,426.86 431.49,426.68 431.78,426.41 432.07,426.06 432.36,425.6 432.65,425.05 432.94,424.42 433.23,423.78 433.52,423.2 433.81,422.8 434.11,422.8 434.4,423.21 434.69,423.79 434.98,424.44 435.27,425.07 435.56,425.63 435.85,426.1 436.14,426.46 436.43,426.73 436.72,426.92 437.02,427.05 437.31,427.13 437.6,427.19 437.89,427.22 438.18,427.24 438.47,427.25 438.76,427.26 439.05,427.27 439.34,427.27 439.63,427.28 439.93,427.28 440.22,427.28 440.51,427.28 440.8,427.29 441.09,427.29 441.38,427.29 441.67,427.29 441.96,427.3 442.25,427.3 442.54,427.3 442.84,427.3 443.13,427.31 443.42,427.31 443.71,427.31 444,427.31 444.29,427.32 444.58,427.32 444.87,427.32 445.16,427.32 445.45,427.32 445.75,427.33 446.04,427.33 446.33,427.33 446.62,427.33 446.91,427.33 447.2,427.34 447.49,427.34 447.78,427.34 448.07,427.34 448.36,427.34 448.66,427.35 448.95,427.35 449.24,427.34 449.53,427.34 449.82,427.32 450.11,427.3 450.4,427.26 450.69,427.21 450.98,427.13 451.27,427.04 451.57,426.94 451.86,426.83 452.15,426.74 452.44,426.68 452.73,426.66 453.02,426.69 453.31,426.75 453.6,426.84 453.89,426.95 454.18,427.06 454.48,427.15 454.77,427.23 455.06,427.29 455.35,427.33 455.64,427.36 455.93,427.38 456.22,427.39 456.51,427.39 456.8,427.4 457.09,427.4 457.39,427.4 457.68,427.4 457.97,427.4 458.26,427.4 458.55,427.4 458.84,427.4 459.13,427.39 459.42,427.37 459.71,427.33 460,427.26 460.3,427.13 460.59,426.91 460.88,426.56 461.17,425.98 461.46,425.08 461.75,423.71 462.04,421.7 462.33,418.84 462.62,414.91 462.91,409.73 463.21,403.16 463.5,395.22 463.79,386.1 464.08,376.28 464.37,366.54 464.66,358.02 464.95,352.23 465.24,352.23 465.53,358.02 465.82,366.55 466.12,376.29 466.41,386.11 466.7,395.23 466.99,403.18 467.28,409.75 467.57,414.93 467.86,418.86 468.15,421.72 468.44,423.74 468.73,425.11 469.03,426.01 469.32,426.59 469.61,426.95 469.9,427.17 470.19,427.3 470.48,427.37 470.77,427.42 471.06,427.44 471.35,427.45 471.64,427.46 471.94,427.46 472.23,427.47 472.52,427.47 472.81,427.47 473.1,427.47 473.39,427.47 473.68,427.47 473.97,427.47 474.26,427.48 474.55,427.48 474.85,427.48 475.14,427.48 475.43,427.48 475.72,427.48 476.01,427.48 476.3,427.48 476.59,427.48 476.88,427.48 477.17,427.48 477.46,427.49 477.76,427.49 478.05,427.49 478.34,427.49 478.63,427.49 478.92,427.49 479.21,427.49 479.5,427.49 479.79,427.49 480.08,427.49 480.37,427.49 480.67,427.5 480.96,427.5 481.25,427.5 481.54,427.5 481.83,427.5 482.12,427.5 482.41,427.5 482.7,427.5 482.99,427.49 483.28,427.49 483.58,427.48 483.87,427.47 484.16,427.45 484.45,427.42 484.74,427.38 485.03,427.31 485.32,427.22 485.61,427.1 485.9,426.93 486.19,426.71 486.49,426.44 486.78,426.09 487.07,425.68 487.36,425.21 487.65,424.68 487.94,424.13 488.23,423.59 488.52,423.1 488.81,422.72 489.1,422.54 489.4,422.72 489.69,423.1 489.98,423.59 490.27,424.14 490.56,424.69 490.85,425.22 491.14,425.69 491.43,426.1 491.72,426.45 492.01,426.73 492.31,426.95 492.6,427.12 492.89,427.24 493.18,427.33 493.47,427.4 493.76,427.44 494.05,427.47 494.34,427.49 494.63,427.51 494.92,427.52 495.22,427.52 495.51,427.53 495.8,427.53 496.09,427.53 496.38,427.53 496.67,427.53 496.96,427.53 497.25,427.53 497.54,427.53 497.83,427.53 498.13,427.53 498.42,427.52 498.71,427.51 499,427.49 499.29,427.47 499.58,427.44 499.87,427.41 500.16,427.36 500.45,427.31 500.74,427.25 501.04,427.2 501.33,427.14 501.62,427.1 501.91,427.08 502.2,427.07 502.49,427.08 502.78,427.11 503.07,427.15 503.36,427.2 503.65,427.26 503.95,427.31 504.24,427.37 504.53,427.41 504.82,427.45 505.11,427.48 505.4,427.5 505.69,427.52 505.98,427.53 506.27,427.54 506.56,427.54 506.86,427.55 507.15,427.55 507.44,427.55 507.73,427.55 508.02,427.55 508.31,427.55 508.6,427.55 508.89,427.55 509.18,427.55 509.47,427.55" fill="none" stroke="#cc325c" stroke-width="1.15" stroke-linejoin="round"/>
<polyline points="385.8,424.99 386.09,425 386.38,425 386.67,425 386.96,424.97 387.25,424.91 387.55,424.82 387.84,424.67 388.13,424.47 388.42,424.25 388.71,424.02 389,423.84 389.29,423.74 389.58,423.75 389.87,423.87 390.16,424.08 390.46,424.33 390.75,424.58 391.04,424.8 391.33,424.97 391.62,425.1 391.91,425.18 392.2,425.22 392.49,425.26 392.78,425.28 393.07,425.29 393.37,425.3 393.66,425.32 393.95,425.33 394.24,425.34 394.53,425.35 394.82,425.36 395.11,425.37 395.4,425.38 395.69,425.39 395.98,425.4 396.28,425.41 396.57,425.42 396.86,425.43 397.15,425.44 397.44,425.45 397.73,425.46 398.02,425.47 398.31,425.48 398.6,425.48 398.89,425.49 399.19,425.5 399.48,425.51 399.77,425.51 400.06,425.5 400.35,425.49 400.64,425.45 400.93,425.4 401.22,425.31 401.51,425.19 401.8,425.04 402.1,424.87 402.39,424.71 402.68,424.56 402.97,424.47 403.26,424.44 403.55,424.49 403.84,424.6 404.13,424.76 404.42,424.94 404.71,425.12 405.01,425.29 405.3,425.42 405.59,425.53 405.88,425.6 406.17,425.65 406.46,425.67 406.75,425.67 407.04,425.64 407.33,425.57 407.62,425.43 407.92,425.2 408.21,424.86 408.5,424.41 408.79,423.9 409.08,423.39 409.37,422.97 409.66,422.74 409.95,422.75 410.24,422.99 410.53,423.42 410.83,423.95 411.12,424.48 411.41,424.94 411.7,425.29 411.99,425.53 412.28,425.69 412.57,425.78 412.86,425.83 413.15,425.86 413.44,425.87 413.74,425.88 414.03,425.89 414.32,425.89 414.61,425.9 414.9,425.91 415.19,425.91 415.48,425.92 415.77,425.92 416.06,425.93 416.35,425.94 416.65,425.94 416.94,425.95 417.23,425.95 417.52,425.96 417.81,425.96 418.1,425.97 418.39,425.97 418.68,425.98 418.97,425.99 419.26,425.99 419.56,426 419.85,426 420.14,426.01 420.43,426.01 420.72,426.02 421.01,426.02 421.3,426.03 421.59,426.03 421.88,426.04 422.17,426.04 422.47,426.05 422.76,426.05 423.05,426.06 423.34,426.06 423.63,426.07 423.92,426.07 424.21,426.07 424.5,426.08 424.79,426.08 425.08,426.09 425.38,426.09 425.67,426.1 425.96,426.1 426.25,426.11 426.54,426.11 426.83,426.11 427.12,426.12 427.41,426.12 427.7,426.13 427.99,426.13 428.29,426.13 428.58,426.13 428.87,426.12 429.16,426.1 429.45,426.05 429.74,425.97 430.03,425.81 430.32,425.55 430.61,425.12 430.9,424.45 431.2,423.42 431.49,421.93 431.78,419.87 432.07,417.16 432.36,413.77 432.65,409.81 432.94,405.53 433.23,401.38 433.52,397.99 433.81,396.35 434.11,398 434.4,401.39 434.69,405.55 434.98,409.84 435.27,413.81 435.56,417.2 435.85,419.92 436.14,421.99 436.43,423.48 436.72,424.52 437.02,425.2 437.31,425.64 437.6,425.9 437.89,426.06 438.18,426.16 438.47,426.21 438.76,426.24 439.05,426.26 439.34,426.27 439.63,426.27 439.93,426.28 440.22,426.28 440.51,426.28 440.8,426.29 441.09,426.29 441.38,426.29 441.67,426.29 441.96,426.3 442.25,426.3 442.54,426.3 442.84,426.31 443.13,426.31 443.42,426.31 443.71,426.31 444,426.32 444.29,426.32 444.58,426.32 444.87,426.32 445.16,426.33 445.45,426.33 445.75,426.33 446.04,426.34 446.33,426.34 446.62,426.34 446.91,426.34 447.2,426.35 447.49,426.35 447.78,426.35 448.07,426.35 448.36,426.35 448.66,426.36 448.95,426.36 449.24,426.35 449.53,426.35 449.82,426.34 450.11,426.31 450.4,426.27 450.69,426.22 450.98,426.14 451.27,426.05 451.57,425.95 451.86,425.85 452.15,425.76 452.44,425.7 452.73,425.68 453.02,425.7 453.31,425.77 453.6,425.86 453.89,425.97 454.18,426.07 454.48,426.17 454.77,426.25 455.06,426.31 455.35,426.35 455.64,426.38 455.93,426.39 456.22,426.4 456.51,426.41 456.8,426.41 457.09,426.41 457.39,426.41 457.68,426.41 457.97,426.4 458.26,426.38 458.55,426.35 458.84,426.3 459.13,426.22 459.42,426.09 459.71,425.89 460,425.59 460.3,425.14 460.59,424.49 460.88,423.56 461.17,422.27 461.46,420.5 461.75,418.15 462.04,415.09 462.33,411.22 462.62,406.45 462.91,400.74 463.21,394.13 463.5,386.76 463.79,378.9 464.08,370.95 464.37,363.48 464.66,357.2 464.95,353.07 465.24,353.07 465.53,357.21 465.82,363.49 466.12,370.96 466.41,378.91 466.7,386.78 466.99,394.15 467.28,400.76 467.57,406.47 467.86,411.25 468.15,415.13 468.44,418.19 468.73,420.54 469.03,422.31 469.32,423.61 469.61,424.54 469.9,425.19 470.19,425.64 470.48,425.95 470.77,426.15 471.06,426.28 471.35,426.36 471.64,426.42 471.94,426.45 472.23,426.47 472.52,426.48 472.81,426.49 473.1,426.5 473.39,426.5 473.68,426.5 473.97,426.5 474.26,426.51 474.55,426.51 474.85,426.51 475.14,426.51 475.43,426.51 475.72,426.51 476.01,426.51 476.3,426.51 476.59,426.52 476.88,426.52 477.17,426.52 477.46,426.52 477.76,426.52 478.05,426.52 478.34,426.52 478.63,426.52 478.92,426.52 479.21,426.52 479.5,426.53 479.79,426.53 480.08,426.53 480.37,426.53 480.67,426.53 480.96,426.53 481.25,426.53 481.54,426.53 481.83,426.53 482.12,426.53 482.41,426.52 482.7,426.51 482.99,426.5 483.28,426.48 483.58,426.44 483.87,426.38 484.16,426.28 484.45,426.14 484.74,425.92 485.03,425.61 485.32,425.18 485.61,424.58 485.9,423.78 486.19,422.72 486.49,421.38 486.78,419.72 487.07,417.74 487.36,415.46 487.65,412.94 487.94,410.28 488.23,407.66 488.52,405.3 488.81,403.48 489.1,402.62 489.4,403.48 489.69,405.3 489.98,407.67 490.27,410.29 490.56,412.95 490.85,415.47 491.14,417.75 491.43,419.74 491.72,421.39 492.01,422.74 492.31,423.79 492.6,424.6 492.89,425.2 493.18,425.64 493.47,425.95 493.76,426.16 494.05,426.31 494.34,426.4 494.63,426.47 494.92,426.51 495.22,426.53 495.51,426.55 495.8,426.56 496.09,426.56 496.38,426.57 496.67,426.57 496.96,426.57 497.25,426.57 497.54,426.57 497.83,426.57 498.13,426.57 498.42,426.56 498.71,426.55 499,426.54 499.29,426.51 499.58,426.49 499.87,426.45 500.16,426.4 500.45,426.35 500.74,426.29 501.04,426.24 501.33,426.19 501.62,426.15 501.91,426.12 502.2,426.11 502.49,426.12 502.78,426.15 503.07,426.19 503.36,426.24 503.65,426.3 503.95,426.36 504.24,426.41 504.53,426.46 504.82,426.5 505.11,426.53 505.4,426.55 505.69,426.56 505.98,426.57 506.27,426.58 506.56,426.59 506.86,426.59 507.15,426.59 507.44,426.59 507.73,426.59 508.02,426.59 508.31,426.59 508.6,426.6 508.89,426.6 509.18,426.6 509.47,426.6" fill="none" stroke="#88cb72" stroke-width="1.15" stroke-linejoin="round"/>
<line x1="385.8" y1="341.4" x2="385.8" y2="430.9" stroke="#1a1a1a" stroke-width="1.25" />
<line x1="385.2" y1="430.3" x2="512.38" y2="430.3" stroke="#1a1a1a" stroke-width="1.25" />
<line x1="382.8" y1="427.6" x2="385.8" y2="427.6" stroke="#1a1a1a" stroke-width="1" />
<text x="379.6" y="430.6" font-size="8.7" text-anchor="end" fill="#1a1a1a" font-weight="normal" font-style="normal" textLength="4.45" lengthAdjust="spacingAndGlyphs" stroke="#1a1a1a" stroke-width="0.15" >0</text>
<line x1="382.8" y1="403.9" x2="385.8" y2="403.9" stroke="#1a1a1a" stroke-width="1" />
<text x="379.6" y="406.9" font-size="8.7" text-anchor="end" fill="#1a1a1a" font-weight="normal" font-style="normal" textLength="8.9" lengthAdjust="spacingAndGlyphs" stroke="#1a1a1a" stroke-width="0.15" >10</text>
<line x1="382.8" y1="380.2" x2="385.8" y2="380.2" stroke="#1a1a1a" stroke-width="1" />
<text x="379.6" y="383.2" font-size="8.7" text-anchor="end" fill="#1a1a1a" font-weight="normal" font-style="normal" textLength="8.9" lengthAdjust="spacingAndGlyphs" stroke="#1a1a1a" stroke-width="0.15" >20</text>
<line x1="382.8" y1="356.5" x2="385.8" y2="356.5" stroke="#1a1a1a" stroke-width="1" />
<text x="379.6" y="359.5" font-size="8.7" text-anchor="end" fill="#1a1a1a" font-weight="normal" font-style="normal" textLength="8.9" lengthAdjust="spacingAndGlyphs" stroke="#1a1a1a" stroke-width="0.15" >30</text>
<line x1="384.2" y1="415.75" x2="385.8" y2="415.75" stroke="#1a1a1a" stroke-width="0.9" />
<line x1="384.2" y1="392.05" x2="385.8" y2="392.05" stroke="#1a1a1a" stroke-width="0.9" />
<line x1="384.2" y1="368.35" x2="385.8" y2="368.35" stroke="#1a1a1a" stroke-width="0.9" />
<line x1="384.2" y1="344.65" x2="385.8" y2="344.65" stroke="#1a1a1a" stroke-width="0.9" />
<line x1="385.8" y1="430.3" x2="385.8" y2="433.3" stroke="#1a1a1a" stroke-width="1" />
<text x="385.8" y="443.7" font-size="8.7" text-anchor="middle" fill="#1a1a1a" font-weight="normal" font-style="normal" textLength="4.45" lengthAdjust="spacingAndGlyphs" stroke="#1a1a1a" stroke-width="0.15" >4</text>
<line x1="400.35" y1="430.3" x2="400.35" y2="433.3" stroke="#1a1a1a" stroke-width="1" />
<text x="400.35" y="443.7" font-size="8.7" text-anchor="middle" fill="#1a1a1a" font-weight="normal" font-style="normal" textLength="4.45" lengthAdjust="spacingAndGlyphs" stroke="#1a1a1a" stroke-width="0.15" >5</text>
<line x1="414.9" y1="430.3" x2="414.9" y2="433.3" stroke="#1a1a1a" stroke-width="1" />
<text x="414.9" y="443.7" font-size="8.7" text-anchor="middle" fill="#1a1a1a" font-weight="normal" font-style="normal" textLength="4.45" lengthAdjust="spacingAndGlyphs" stroke="#1a1a1a" stroke-width="0.15" >6</text>
<line x1="429.45" y1="430.3" x2="429.45" y2="433.3" stroke="#1a1a1a" stroke-width="1" />
<text x="429.45" y="443.7" font-size="8.7" text-anchor="middle" fill="#1a1a1a" font-weight="normal" font-style="normal" textLength="4.45" lengthAdjust="spacingAndGlyphs" stroke="#1a1a1a" stroke-width="0.15" >7</text>
<line x1="444" y1="430.3" x2="444" y2="433.3" stroke="#1a1a1a" stroke-width="1" />
<text x="444" y="443.7" font-size="8.7" text-anchor="middle" fill="#1a1a1a" font-weight="normal" font-style="normal" textLength="4.45" lengthAdjust="spacingAndGlyphs" stroke="#1a1a1a" stroke-width="0.15" >8</text>
<line x1="458.55" y1="430.3" x2="458.55" y2="433.3" stroke="#1a1a1a" stroke-width="1" />
<text x="458.55" y="443.7" font-size="8.7" text-anchor="middle" fill="#1a1a1a" font-weight="normal" font-style="normal" textLength="4.45" lengthAdjust="spacingAndGlyphs" stroke="#1a1a1a" stroke-width="0.15" >9</text>
<line x1="473.1" y1="430.3" x2="473.1" y2="433.3" stroke="#1a1a1a" stroke-width="1" />
<text x="473.1" y="443.7" font-size="8.7" text-anchor="middle" fill="#1a1a1a" font-weight="normal" font-style="normal" textLength="8.9" lengthAdjust="spacingAndGlyphs" stroke="#1a1a1a" stroke-width="0.15" >10</text>
<line x1="487.65" y1="430.3" x2="487.65" y2="433.3" stroke="#1a1a1a" stroke-width="1" />
<text x="487.65" y="443.7" font-size="8.7" text-anchor="middle" fill="#1a1a1a" font-weight="normal" font-style="normal" textLength="8.9" lengthAdjust="spacingAndGlyphs" stroke="#1a1a1a" stroke-width="0.15" >11</text>
<line x1="502.2" y1="430.3" x2="502.2" y2="433.3" stroke="#1a1a1a" stroke-width="1" />
<text x="502.2" y="443.7" font-size="8.7" text-anchor="middle" fill="#1a1a1a" font-weight="normal" font-style="normal" textLength="8.9" lengthAdjust="spacingAndGlyphs" stroke="#1a1a1a" stroke-width="0.15" >12</text>
<line x1="393.07" y1="430.3" x2="393.07" y2="431.9" stroke="#1a1a1a" stroke-width="0.9" />
<line x1="407.62" y1="430.3" x2="407.62" y2="431.9" stroke="#1a1a1a" stroke-width="0.9" />
<line x1="422.17" y1="430.3" x2="422.17" y2="431.9" stroke="#1a1a1a" stroke-width="0.9" />
<line x1="436.72" y1="430.3" x2="436.72" y2="431.9" stroke="#1a1a1a" stroke-width="0.9" />
<line x1="451.27" y1="430.3" x2="451.27" y2="431.9" stroke="#1a1a1a" stroke-width="0.9" />
<line x1="465.82" y1="430.3" x2="465.82" y2="431.9" stroke="#1a1a1a" stroke-width="0.9" />
<line x1="480.37" y1="430.3" x2="480.37" y2="431.9" stroke="#1a1a1a" stroke-width="0.9" />
<line x1="494.92" y1="430.3" x2="494.92" y2="431.9" stroke="#1a1a1a" stroke-width="0.9" />
<line x1="509.47" y1="430.3" x2="509.47" y2="431.9" stroke="#1a1a1a" stroke-width="0.9" />
<text x="430.2" y="457.2" font-size="10" text-anchor="start" fill="#1a1a1a" font-weight="normal" font-style="normal" textLength="38.3" lengthAdjust="spacingAndGlyphs" stroke="#1a1a1a" stroke-width="0.3" >Time (min)</text>
<g transform="translate(365 385.3) rotate(-90)">
<text x="0" y="0" font-size="10" text-anchor="middle" fill="#1a1a1a" font-weight="normal" font-style="normal" textLength="23.2" lengthAdjust="spacingAndGlyphs" stroke="#1a1a1a" stroke-width="0.3" >mVolts</text>
</g>
<line x1="389.1" y1="343.9" x2="398.4" y2="343.9" stroke="#88cb72" stroke-width="1.2" />
<line x1="389.1" y1="355.7" x2="398.4" y2="355.7" stroke="#cc325c" stroke-width="1.2" />
<text x="401.6" y="346.6" font-size="8.4" text-anchor="start" fill="#1a1a1a" font-weight="normal" font-style="normal" textLength="26" lengthAdjust="spacingAndGlyphs" stroke="#1a1a1a" stroke-width="0.1" >Control</text>
<text x="401.6" y="357.9" font-size="8.4" text-anchor="start" fill="#1a1a1a" font-weight="normal" font-style="normal" textLength="43.3" lengthAdjust="spacingAndGlyphs" stroke="#1a1a1a" stroke-width="0.1" >Itraconazole</text>
<text x="448.9" y="346.4" font-size="8.4" text-anchor="start" fill="#1a1a1a" font-weight="normal" font-style="normal" textLength="31.5" lengthAdjust="spacingAndGlyphs" stroke="#1a1a1a" stroke-width="0.1" >Standard</text>
<text x="428.5" y="389.2" font-size="8.4" text-anchor="start" fill="#c4214a" font-weight="normal" font-style="normal" textLength="11.5" lengthAdjust="spacingAndGlyphs" stroke="#c4214a" stroke-width="0.1" >KO</text>
<text x="487.8" y="390.2" font-size="8.4" text-anchor="start" fill="#1a1a1a" font-weight="normal" font-style="normal" textLength="4.7" lengthAdjust="spacingAndGlyphs" stroke="#1a1a1a" stroke-width="0.1" >K</text><rect x="0.5" y="0.5" width="519" height="466" fill="none" stroke="#000" stroke-width="1.2"/></svg>
</body></html>
